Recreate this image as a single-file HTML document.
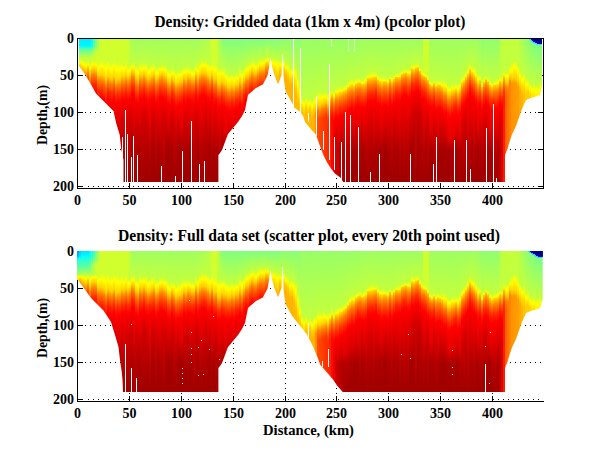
<!DOCTYPE html><html><head><meta charset="utf-8"><style>html,body{margin:0;padding:0;background:#fff;overflow:hidden}svg{display:block}text{font-family:"Liberation Serif",serif;font-weight:bold}</style></head><body>
<svg width="600" height="451" viewBox="0 0 600 451" shape-rendering="crispEdges">
<defs><linearGradient id="g0" x2="0" y2="1"><stop offset="0" stop-color="#00ebff"/><stop offset=".056" stop-color="#00f5ff"/><stop offset=".058" stop-color="#0ff"/><stop offset=".073" stop-color="#4dffb2"/><stop offset=".104" stop-color="#8aff75"/><stop offset=".139" stop-color="#c7ff38"/><stop offset=".142" stop-color="#c2ff3d"/><stop offset=".167" stop-color="#f5ff0a"/><stop offset=".171" stop-color="#ff0"/><stop offset=".193" stop-color="#ffd100"/><stop offset=".234" stop-color="#ff8000"/><stop offset=".297" stop-color="#ff2700"/><stop offset=".352" stop-color="#f00"/><stop offset=".498" stop-color="#e40000"/><stop offset=".778" stop-color="#b90000"/><stop offset="1" stop-color="#9e0000"/></linearGradient><linearGradient id="g1" x2="0" y2="1"><stop offset="0" stop-color="#00ebff"/><stop offset=".056" stop-color="#00f5ff"/><stop offset=".058" stop-color="#0ff"/><stop offset=".073" stop-color="#4dffb2"/><stop offset=".104" stop-color="#8aff75"/><stop offset=".139" stop-color="#c7ff38"/><stop offset=".147" stop-color="#c2ff3d"/><stop offset=".175" stop-color="#f5ff0a"/><stop offset=".18" stop-color="#ff0"/><stop offset=".205" stop-color="#ffd100"/><stop offset=".247" stop-color="#ff8000"/><stop offset=".309" stop-color="#ff2d00"/><stop offset=".365" stop-color="#f00"/><stop offset=".511" stop-color="#d00000"/><stop offset=".778" stop-color="#b00000"/><stop offset="1" stop-color="#a20000"/></linearGradient><linearGradient id="g2" x2="0" y2="1"><stop offset="0" stop-color="#00ebff"/><stop offset=".056" stop-color="#00f5ff"/><stop offset=".058" stop-color="#0ff"/><stop offset=".073" stop-color="#4dffb2"/><stop offset=".104" stop-color="#8aff75"/><stop offset=".139" stop-color="#c7ff38"/><stop offset=".149" stop-color="#c2ff3d"/><stop offset=".176" stop-color="#f5ff0a"/><stop offset=".184" stop-color="#ff0"/><stop offset=".215" stop-color="#ffd100"/><stop offset=".257" stop-color="#ff8000"/><stop offset=".319" stop-color="#ff3400"/><stop offset=".375" stop-color="#f00"/><stop offset=".521" stop-color="#d00"/><stop offset=".778" stop-color="#b10000"/><stop offset="1" stop-color="#9e0000"/></linearGradient><linearGradient id="g3" x2="0" y2="1"><stop offset="0" stop-color="#00ebff"/><stop offset=".056" stop-color="#00f5ff"/><stop offset=".058" stop-color="#0ff"/><stop offset=".073" stop-color="#4dffb2"/><stop offset=".104" stop-color="#8aff75"/><stop offset=".139" stop-color="#c7ff38"/><stop offset=".158" stop-color="#c2ff3d"/><stop offset=".186" stop-color="#f5ff0a"/><stop offset=".193" stop-color="#ff0"/><stop offset=".225" stop-color="#ffd100"/><stop offset=".266" stop-color="#ff8000"/><stop offset=".329" stop-color="#ff2e00"/><stop offset=".384" stop-color="#f00"/><stop offset=".53" stop-color="#e70000"/><stop offset=".778" stop-color="#b90000"/><stop offset="1" stop-color="#9e0000"/></linearGradient><linearGradient id="g4" x2="0" y2="1"><stop offset="0" stop-color="#00ebff"/><stop offset=".056" stop-color="#00f5ff"/><stop offset=".058" stop-color="#0ff"/><stop offset=".073" stop-color="#4dffb2"/><stop offset=".104" stop-color="#8aff75"/><stop offset=".139" stop-color="#c7ff38"/><stop offset=".151" stop-color="#c2ff3d"/><stop offset=".178" stop-color="#f5ff0a"/><stop offset=".183" stop-color="#ff0"/><stop offset=".203" stop-color="#ffd100"/><stop offset=".245" stop-color="#ff8000"/><stop offset=".308" stop-color="#ff2800"/><stop offset=".363" stop-color="#f00"/><stop offset=".509" stop-color="#cf0000"/><stop offset=".778" stop-color="#bd0000"/><stop offset="1" stop-color="#9f0000"/></linearGradient><linearGradient id="g5" x2="0" y2="1"><stop offset="0" stop-color="#00ebff"/><stop offset=".056" stop-color="#00f5ff"/><stop offset=".058" stop-color="#0ff"/><stop offset=".073" stop-color="#4dffb2"/><stop offset=".104" stop-color="#8aff75"/><stop offset=".139" stop-color="#c7ff38"/><stop offset=".173" stop-color="#c2ff3d"/><stop offset=".201" stop-color="#f5ff0a"/><stop offset=".209" stop-color="#ff0"/><stop offset=".245" stop-color="#ffd100"/><stop offset=".287" stop-color="#ff8000"/><stop offset=".35" stop-color="#ff3700"/><stop offset=".405" stop-color="#f00"/><stop offset=".551" stop-color="#dc0000"/><stop offset=".778" stop-color="#ad0000"/><stop offset="1" stop-color="#9e0000"/></linearGradient><linearGradient id="g6" x2="0" y2="1"><stop offset="0" stop-color="#01fffe"/><stop offset=".056" stop-color="#0bfff4"/><stop offset=".073" stop-color="#59ffa6"/><stop offset=".104" stop-color="#96ff69"/><stop offset=".139" stop-color="#c7ff38"/><stop offset=".151" stop-color="#c2ff3d"/><stop offset=".179" stop-color="#f5ff0a"/><stop offset=".185" stop-color="#ff0"/><stop offset=".217" stop-color="#ffd100"/><stop offset=".258" stop-color="#ff8000"/><stop offset=".321" stop-color="#ff2d00"/><stop offset=".376" stop-color="#f00"/><stop offset=".522" stop-color="#e30000"/><stop offset=".778" stop-color="#b80000"/><stop offset="1" stop-color="#9e0000"/></linearGradient><linearGradient id="g7" x2="0" y2="1"><stop offset="0" stop-color="#50ffaf"/><stop offset=".056" stop-color="#5bffa4"/><stop offset=".073" stop-color="#86ff79"/><stop offset=".104" stop-color="#bdff42"/><stop offset=".139" stop-color="#c7ff38"/><stop offset=".148" stop-color="#c2ff3d"/><stop offset=".176" stop-color="#f5ff0a"/><stop offset=".182" stop-color="#ff0"/><stop offset=".213" stop-color="#ffd100"/><stop offset=".255" stop-color="#ff8000"/><stop offset=".318" stop-color="#ff2b00"/><stop offset=".373" stop-color="#f00"/><stop offset=".519" stop-color="#d30000"/><stop offset=".778" stop-color="#a00"/><stop offset="1" stop-color="#9e0000"/></linearGradient><linearGradient id="g8" x2="0" y2="1"><stop offset="0" stop-color="#78ff87"/><stop offset=".056" stop-color="#82ff7d"/><stop offset=".073" stop-color="#9eff61"/><stop offset=".104" stop-color="#d1ff2e"/><stop offset=".139" stop-color="#d1ff2e"/><stop offset=".15" stop-color="#d1ff2e"/><stop offset=".177" stop-color="#f5ff0a"/><stop offset=".185" stop-color="#ff0"/><stop offset=".219" stop-color="#ffd100"/><stop offset=".26" stop-color="#ff8000"/><stop offset=".323" stop-color="#ff2700"/><stop offset=".378" stop-color="#f00"/><stop offset=".524" stop-color="#d40000"/><stop offset=".778" stop-color="#a80000"/><stop offset="1" stop-color="#9e0000"/></linearGradient><linearGradient id="g9" x2="0" y2="1"><stop offset="0" stop-color="#9cff63"/><stop offset=".056" stop-color="#a6ff59"/><stop offset=".073" stop-color="#b3ff4c"/><stop offset=".104" stop-color="#d1ff2e"/><stop offset=".139" stop-color="#d1ff2e"/><stop offset=".178" stop-color="#d1ff2e"/><stop offset=".206" stop-color="#f5ff0a"/><stop offset=".215" stop-color="#ff0"/><stop offset=".257" stop-color="#ffd100"/><stop offset=".298" stop-color="#ff8000"/><stop offset=".361" stop-color="#ff3200"/><stop offset=".416" stop-color="#f00"/><stop offset=".562" stop-color="#e90000"/><stop offset=".778" stop-color="#bd0000"/><stop offset="1" stop-color="#9e0000"/></linearGradient><linearGradient id="g10" x2="0" y2="1"><stop offset="0" stop-color="#d1ff2e"/><stop offset=".16" stop-color="#d1ff2e"/><stop offset=".188" stop-color="#f5ff0a"/><stop offset=".2" stop-color="#ff0"/><stop offset=".254" stop-color="#ffd100"/><stop offset=".295" stop-color="#ff8000"/><stop offset=".358" stop-color="#ff3500"/><stop offset=".413" stop-color="#f00"/><stop offset=".559" stop-color="#de0000"/><stop offset=".778" stop-color="#be0000"/><stop offset="1" stop-color="#9e0000"/></linearGradient><linearGradient id="g11" x2="0" y2="1"><stop offset="0" stop-color="#d1ff2e"/><stop offset=".154" stop-color="#d1ff2e"/><stop offset=".182" stop-color="#f5ff0a"/><stop offset=".196" stop-color="#ff0"/><stop offset=".255" stop-color="#ffd100"/><stop offset=".297" stop-color="#ff8000"/><stop offset=".359" stop-color="#ff2e00"/><stop offset=".415" stop-color="#f00"/><stop offset=".561" stop-color="#e00000"/><stop offset=".778" stop-color="#bc0000"/><stop offset="1" stop-color="#9e0000"/></linearGradient><linearGradient id="g12" x2="0" y2="1"><stop offset="0" stop-color="#d1ff2e"/><stop offset=".165" stop-color="#d1ff2e"/><stop offset=".193" stop-color="#f5ff0a"/><stop offset=".206" stop-color="#ff0"/><stop offset=".264" stop-color="#ffd100"/><stop offset=".306" stop-color="#ff8000"/><stop offset=".368" stop-color="#ff3800"/><stop offset=".424" stop-color="#f00"/><stop offset=".57" stop-color="#d10000"/><stop offset=".778" stop-color="#b00"/><stop offset="1" stop-color="#9e0000"/></linearGradient><linearGradient id="g13" x2="0" y2="1"><stop offset="0" stop-color="#d1ff2e"/><stop offset=".175" stop-color="#d1ff2e"/><stop offset=".203" stop-color="#f5ff0a"/><stop offset=".219" stop-color="#ff0"/><stop offset=".289" stop-color="#ffd100"/><stop offset=".331" stop-color="#ff8000"/><stop offset=".393" stop-color="#ff3800"/><stop offset=".449" stop-color="#f00"/><stop offset=".595" stop-color="#e50000"/><stop offset=".778" stop-color="#b20000"/><stop offset="1" stop-color="#9e0000"/></linearGradient><linearGradient id="g14" x2="0" y2="1"><stop offset="0" stop-color="#d1ff2e"/><stop offset=".156" stop-color="#d1ff2e"/><stop offset=".183" stop-color="#f5ff0a"/><stop offset=".198" stop-color="#ff0"/><stop offset=".266" stop-color="#ffd100"/><stop offset=".307" stop-color="#ff8000"/><stop offset=".37" stop-color="#ff2400"/><stop offset=".425" stop-color="#f00"/><stop offset=".571" stop-color="#e50000"/><stop offset=".778" stop-color="#b00"/><stop offset="1" stop-color="#9e0000"/></linearGradient><linearGradient id="g15" x2="0" y2="1"><stop offset="0" stop-color="#d1ff2e"/><stop offset=".177" stop-color="#d1ff2e"/><stop offset=".205" stop-color="#f5ff0a"/><stop offset=".218" stop-color="#ff0"/><stop offset=".275" stop-color="#ffd100"/><stop offset=".317" stop-color="#ff8000"/><stop offset=".379" stop-color="#ff2b00"/><stop offset=".435" stop-color="#f00"/><stop offset=".581" stop-color="#e40000"/><stop offset=".778" stop-color="#a30000"/><stop offset="1" stop-color="#9e0000"/></linearGradient><linearGradient id="g16" x2="0" y2="1"><stop offset="0" stop-color="#d1ff2e"/><stop offset=".178" stop-color="#d1ff2e"/><stop offset=".206" stop-color="#f5ff0a"/><stop offset=".22" stop-color="#ff0"/><stop offset=".282" stop-color="#ffd100"/><stop offset=".324" stop-color="#ff8000"/><stop offset=".386" stop-color="#ff2f00"/><stop offset=".442" stop-color="#f00"/><stop offset=".588" stop-color="#cf0000"/><stop offset=".778" stop-color="#be0000"/><stop offset="1" stop-color="#9e0000"/></linearGradient><linearGradient id="g17" x2="0" y2="1"><stop offset="0" stop-color="#d1ff2e"/><stop offset=".159" stop-color="#d1ff2e"/><stop offset=".187" stop-color="#f5ff0a"/><stop offset=".201" stop-color="#ff0"/><stop offset=".266" stop-color="#ffd100"/><stop offset=".307" stop-color="#ff8000"/><stop offset=".37" stop-color="#ff2b00"/><stop offset=".425" stop-color="#f00"/><stop offset=".571" stop-color="#de0000"/><stop offset=".778" stop-color="#bc0000"/><stop offset="1" stop-color="#9e0000"/></linearGradient><linearGradient id="g18" x2="0" y2="1"><stop offset="0" stop-color="#d1ff2e"/><stop offset=".17" stop-color="#d1ff2e"/><stop offset=".198" stop-color="#f5ff0a"/><stop offset=".216" stop-color="#ff0"/><stop offset=".297" stop-color="#ffd100"/><stop offset=".338" stop-color="#ff8000"/><stop offset=".401" stop-color="#ff2e00"/><stop offset=".456" stop-color="#f00"/><stop offset=".602" stop-color="#d80000"/><stop offset=".778" stop-color="#b20000"/><stop offset="1" stop-color="#9e0000"/></linearGradient><linearGradient id="g19" x2="0" y2="1"><stop offset="0" stop-color="#d1ff2e"/><stop offset=".179" stop-color="#d1ff2e"/><stop offset=".207" stop-color="#f5ff0a"/><stop offset=".221" stop-color="#ff0"/><stop offset=".286" stop-color="#ffd100"/><stop offset=".328" stop-color="#ff8000"/><stop offset=".391" stop-color="#ff2400"/><stop offset=".446" stop-color="#f00"/><stop offset=".592" stop-color="#dc0000"/><stop offset=".778" stop-color="#b20000"/><stop offset="1" stop-color="#9e0000"/></linearGradient><linearGradient id="g20" x2="0" y2="1"><stop offset="0" stop-color="#d1ff2e"/><stop offset=".179" stop-color="#d1ff2e"/><stop offset=".207" stop-color="#f5ff0a"/><stop offset=".222" stop-color="#ff0"/><stop offset=".287" stop-color="#ffd100"/><stop offset=".329" stop-color="#ff8000"/><stop offset=".391" stop-color="#ff3100"/><stop offset=".447" stop-color="#f00"/><stop offset=".593" stop-color="#e30000"/><stop offset=".778" stop-color="#a90000"/><stop offset="1" stop-color="#9e0000"/></linearGradient><linearGradient id="g21" x2="0" y2="1"><stop offset="0" stop-color="#d1ff2e"/><stop offset=".173" stop-color="#d1ff2e"/><stop offset=".201" stop-color="#f5ff0a"/><stop offset=".213" stop-color="#ff0"/><stop offset=".266" stop-color="#ffd100"/><stop offset=".308" stop-color="#ff8000"/><stop offset=".371" stop-color="#ff2e00"/><stop offset=".426" stop-color="#f00"/><stop offset=".572" stop-color="#d20000"/><stop offset=".778" stop-color="#bf0000"/><stop offset="1" stop-color="#9e0000"/></linearGradient><linearGradient id="g22" x2="0" y2="1"><stop offset="0" stop-color="#d1ff2e"/><stop offset=".184" stop-color="#d1ff2e"/><stop offset=".211" stop-color="#f5ff0a"/><stop offset=".222" stop-color="#ff0"/><stop offset=".272" stop-color="#ffd100"/><stop offset=".313" stop-color="#ff8000"/><stop offset=".376" stop-color="#ff3500"/><stop offset=".431" stop-color="#f00"/><stop offset=".577" stop-color="#e10000"/><stop offset=".778" stop-color="#bf0000"/><stop offset="1" stop-color="#9e0000"/></linearGradient><linearGradient id="g23" x2="0" y2="1"><stop offset="0" stop-color="#d1ff2e"/><stop offset=".163" stop-color="#d1ff2e"/><stop offset=".191" stop-color="#f5ff0a"/><stop offset=".203" stop-color="#ff0"/><stop offset=".259" stop-color="#ffd100"/><stop offset=".301" stop-color="#ff8000"/><stop offset=".364" stop-color="#ff2b00"/><stop offset=".419" stop-color="#f00"/><stop offset=".565" stop-color="#dc0000"/><stop offset=".778" stop-color="#b00000"/><stop offset="1" stop-color="#9e0000"/></linearGradient><linearGradient id="g24" x2="0" y2="1"><stop offset="0" stop-color="#d1ff2e"/><stop offset=".197" stop-color="#d1ff2e"/><stop offset=".225" stop-color="#f5ff0a"/><stop offset=".234" stop-color="#ff0"/><stop offset=".276" stop-color="#ffd100"/><stop offset=".317" stop-color="#ff8000"/><stop offset=".38" stop-color="#ff2f00"/><stop offset=".435" stop-color="#f00"/><stop offset=".581" stop-color="#d70000"/><stop offset=".778" stop-color="#b90000"/><stop offset="1" stop-color="#9e0000"/></linearGradient><linearGradient id="g25" x2="0" y2="1"><stop offset="0" stop-color="#b9ff46"/><stop offset=".191" stop-color="#c2ff3d"/><stop offset=".218" stop-color="#f5ff0a"/><stop offset=".227" stop-color="#ff0"/><stop offset=".263" stop-color="#ffd100"/><stop offset=".304" stop-color="#ff8000"/><stop offset=".367" stop-color="#ff3500"/><stop offset=".423" stop-color="#f00"/><stop offset=".568" stop-color="#d10000"/><stop offset=".778" stop-color="#b70000"/><stop offset="1" stop-color="#9e0000"/></linearGradient><linearGradient id="g26" x2="0" y2="1"><stop offset="0" stop-color="#a1ff5e"/><stop offset=".168" stop-color="#c2ff3d"/><stop offset=".196" stop-color="#f5ff0a"/><stop offset=".202" stop-color="#ff0"/><stop offset=".23" stop-color="#ffd100"/><stop offset=".272" stop-color="#ff8000"/><stop offset=".335" stop-color="#ff2f00"/><stop offset=".39" stop-color="#f00"/><stop offset=".536" stop-color="#d70000"/><stop offset=".778" stop-color="#a70000"/><stop offset="1" stop-color="#9e0000"/></linearGradient><linearGradient id="g27" x2="0" y2="1"><stop offset="0" stop-color="#a1ff5e"/><stop offset=".165" stop-color="#c2ff3d"/><stop offset=".192" stop-color="#f5ff0a"/><stop offset=".2" stop-color="#ff0"/><stop offset=".237" stop-color="#ffd100"/><stop offset=".279" stop-color="#ff8000"/><stop offset=".341" stop-color="#ff2800"/><stop offset=".397" stop-color="#f00"/><stop offset=".543" stop-color="#e90000"/><stop offset=".778" stop-color="#b80000"/><stop offset="1" stop-color="#9e0000"/></linearGradient><linearGradient id="g28" x2="0" y2="1"><stop offset="0" stop-color="#a1ff5e"/><stop offset=".194" stop-color="#c2ff3d"/><stop offset=".222" stop-color="#f5ff0a"/><stop offset=".232" stop-color="#ff0"/><stop offset=".278" stop-color="#ffd100"/><stop offset=".319" stop-color="#ff8000"/><stop offset=".382" stop-color="#ff3200"/><stop offset=".437" stop-color="#f00"/><stop offset=".583" stop-color="#d30000"/><stop offset=".778" stop-color="#b60000"/><stop offset="1" stop-color="#9e0000"/></linearGradient><linearGradient id="g29" x2="0" y2="1"><stop offset="0" stop-color="#a1ff5e"/><stop offset=".205" stop-color="#c2ff3d"/><stop offset=".233" stop-color="#f5ff0a"/><stop offset=".243" stop-color="#ff0"/><stop offset=".29" stop-color="#ffd100"/><stop offset=".332" stop-color="#ff8000"/><stop offset=".394" stop-color="#ff3700"/><stop offset=".45" stop-color="#f00"/><stop offset=".596" stop-color="#d10000"/><stop offset=".778" stop-color="#b00000"/><stop offset="1" stop-color="#9e0000"/></linearGradient><linearGradient id="g30" x2="0" y2="1"><stop offset="0" stop-color="#a1ff5e"/><stop offset=".172" stop-color="#c2ff3d"/><stop offset=".2" stop-color="#f5ff0a"/><stop offset=".21" stop-color="#ff0"/><stop offset=".254" stop-color="#ffd100"/><stop offset=".296" stop-color="#ff8000"/><stop offset=".358" stop-color="#ff3000"/><stop offset=".414" stop-color="#f00"/><stop offset=".56" stop-color="#e50000"/><stop offset=".778" stop-color="#a90000"/><stop offset="1" stop-color="#9e0000"/></linearGradient><linearGradient id="g31" x2="0" y2="1"><stop offset="0" stop-color="#a1ff5e"/><stop offset=".179" stop-color="#c2ff3d"/><stop offset=".207" stop-color="#f5ff0a"/><stop offset=".217" stop-color="#ff0"/><stop offset=".263" stop-color="#ffd100"/><stop offset=".305" stop-color="#ff8000"/><stop offset=".367" stop-color="#ff3000"/><stop offset=".423" stop-color="#f00"/><stop offset=".569" stop-color="#d50000"/><stop offset=".778" stop-color="#b60000"/><stop offset="1" stop-color="#9e0000"/></linearGradient><linearGradient id="g32" x2="0" y2="1"><stop offset="0" stop-color="#a1ff5e"/><stop offset=".173" stop-color="#c2ff3d"/><stop offset=".201" stop-color="#f5ff0a"/><stop offset=".209" stop-color="#ff0"/><stop offset=".247" stop-color="#ffd100"/><stop offset=".289" stop-color="#ff8000"/><stop offset=".351" stop-color="#ff2c00"/><stop offset=".407" stop-color="#f00"/><stop offset=".553" stop-color="#ce0000"/><stop offset=".778" stop-color="#b80000"/><stop offset="1" stop-color="#9e0000"/></linearGradient><linearGradient id="g33" x2="0" y2="1"><stop offset="0" stop-color="#a1ff5e"/><stop offset=".171" stop-color="#c2ff3d"/><stop offset=".199" stop-color="#f5ff0a"/><stop offset=".211" stop-color="#ff0"/><stop offset=".265" stop-color="#ffd100"/><stop offset=".306" stop-color="#ff8000"/><stop offset=".369" stop-color="#ff3500"/><stop offset=".424" stop-color="#f00"/><stop offset=".57" stop-color="#cd0000"/><stop offset=".778" stop-color="#b60000"/><stop offset="1" stop-color="#9e0000"/></linearGradient><linearGradient id="g34" x2="0" y2="1"><stop offset="0" stop-color="#a1ff5e"/><stop offset=".2" stop-color="#c2ff3d"/><stop offset=".228" stop-color="#f5ff0a"/><stop offset=".238" stop-color="#ff0"/><stop offset=".283" stop-color="#ffd100"/><stop offset=".324" stop-color="#ff8000"/><stop offset=".387" stop-color="#ff2900"/><stop offset=".442" stop-color="#f00"/><stop offset=".588" stop-color="#dc0000"/><stop offset=".778" stop-color="#ae0000"/><stop offset="1" stop-color="#9e0000"/></linearGradient><linearGradient id="g35" x2="0" y2="1"><stop offset="0" stop-color="#a1ff5e"/><stop offset=".197" stop-color="#c2ff3d"/><stop offset=".225" stop-color="#f5ff0a"/><stop offset=".234" stop-color="#ff0"/><stop offset=".274" stop-color="#ffd100"/><stop offset=".316" stop-color="#ff8000"/><stop offset=".379" stop-color="#ff2500"/><stop offset=".434" stop-color="#f00"/><stop offset=".58" stop-color="#e70000"/><stop offset=".778" stop-color="#bd0000"/><stop offset="1" stop-color="#9e0000"/></linearGradient><linearGradient id="g36" x2="0" y2="1"><stop offset="0" stop-color="#a1ff5e"/><stop offset=".184" stop-color="#c2ff3d"/><stop offset=".211" stop-color="#f5ff0a"/><stop offset=".221" stop-color="#ff0"/><stop offset=".263" stop-color="#ffd100"/><stop offset=".305" stop-color="#ff8000"/><stop offset=".367" stop-color="#ff3200"/><stop offset=".423" stop-color="#f00"/><stop offset=".569" stop-color="#cf0000"/><stop offset=".778" stop-color="#a80000"/><stop offset="1" stop-color="#9e0000"/></linearGradient><linearGradient id="g37" x2="0" y2="1"><stop offset="0" stop-color="#a1ff5e"/><stop offset=".176" stop-color="#c2ff3d"/><stop offset=".204" stop-color="#f5ff0a"/><stop offset=".212" stop-color="#ff0"/><stop offset=".252" stop-color="#ffd100"/><stop offset=".294" stop-color="#ff8000"/><stop offset=".357" stop-color="#f30"/><stop offset=".412" stop-color="#f00"/><stop offset=".558" stop-color="#d40000"/><stop offset=".778" stop-color="#a80000"/><stop offset="1" stop-color="#9e0000"/></linearGradient><linearGradient id="g38" x2="0" y2="1"><stop offset="0" stop-color="#a1ff5e"/><stop offset=".208" stop-color="#c2ff3d"/><stop offset=".236" stop-color="#f5ff0a"/><stop offset=".245" stop-color="#ff0"/><stop offset=".286" stop-color="#ffd100"/><stop offset=".328" stop-color="#ff8000"/><stop offset=".391" stop-color="#ff3600"/><stop offset=".446" stop-color="#f00"/><stop offset=".592" stop-color="#d50000"/><stop offset=".778" stop-color="#bd0000"/><stop offset="1" stop-color="#9e0000"/></linearGradient><linearGradient id="g39" x2="0" y2="1"><stop offset="0" stop-color="#a1ff5e"/><stop offset=".205" stop-color="#c2ff3d"/><stop offset=".233" stop-color="#f5ff0a"/><stop offset=".241" stop-color="#ff0"/><stop offset=".276" stop-color="#ffd100"/><stop offset=".318" stop-color="#ff8000"/><stop offset=".381" stop-color="#ff2e00"/><stop offset=".436" stop-color="#f00"/><stop offset=".582" stop-color="#da0000"/><stop offset=".778" stop-color="#a40000"/><stop offset="1" stop-color="#9e0000"/></linearGradient><linearGradient id="g40" x2="0" y2="1"><stop offset="0" stop-color="#a1ff5e"/><stop offset=".186" stop-color="#c2ff3d"/><stop offset=".214" stop-color="#f5ff0a"/><stop offset=".221" stop-color="#ff0"/><stop offset=".256" stop-color="#ffd100"/><stop offset=".297" stop-color="#ff8000"/><stop offset=".36" stop-color="#ff2900"/><stop offset=".415" stop-color="#f00"/><stop offset=".561" stop-color="#e30000"/><stop offset=".778" stop-color="#b10000"/><stop offset="1" stop-color="#9e0000"/></linearGradient><linearGradient id="g41" x2="0" y2="1"><stop offset="0" stop-color="#a1ff5e"/><stop offset=".186" stop-color="#c2ff3d"/><stop offset=".214" stop-color="#f5ff0a"/><stop offset=".22" stop-color="#ff0"/><stop offset=".25" stop-color="#ffd100"/><stop offset=".291" stop-color="#ff8000"/><stop offset=".354" stop-color="#ff3700"/><stop offset=".409" stop-color="#f00"/><stop offset=".555" stop-color="#db0000"/><stop offset=".778" stop-color="#b30000"/><stop offset="1" stop-color="#9e0000"/></linearGradient><linearGradient id="g42" x2="0" y2="1"><stop offset="0" stop-color="#a1ff5e"/><stop offset=".186" stop-color="#c2ff3d"/><stop offset=".214" stop-color="#f5ff0a"/><stop offset=".222" stop-color="#ff0"/><stop offset=".26" stop-color="#ffd100"/><stop offset=".302" stop-color="#ff8000"/><stop offset=".364" stop-color="#ff3500"/><stop offset=".42" stop-color="#f00"/><stop offset=".566" stop-color="#d70000"/><stop offset=".778" stop-color="#bf0000"/><stop offset="1" stop-color="#9e0000"/></linearGradient><linearGradient id="g43" x2="0" y2="1"><stop offset="0" stop-color="#a1ff5e"/><stop offset=".191" stop-color="#c2ff3d"/><stop offset=".219" stop-color="#f5ff0a"/><stop offset=".228" stop-color="#ff0"/><stop offset=".269" stop-color="#ffd100"/><stop offset=".311" stop-color="#ff8000"/><stop offset=".373" stop-color="#ff2a00"/><stop offset=".429" stop-color="#f00"/><stop offset=".575" stop-color="#cd0000"/><stop offset=".778" stop-color="#ac0000"/><stop offset="1" stop-color="#9e0000"/></linearGradient><linearGradient id="g44" x2="0" y2="1"><stop offset="0" stop-color="#a1ff5e"/><stop offset=".216" stop-color="#c2ff3d"/><stop offset=".244" stop-color="#f5ff0a"/><stop offset=".254" stop-color="#ff0"/><stop offset=".297" stop-color="#ffd100"/><stop offset=".338" stop-color="#ff8000"/><stop offset=".401" stop-color="#ff2c00"/><stop offset=".457" stop-color="#f00"/><stop offset=".602" stop-color="#dc0000"/><stop offset=".778" stop-color="#a20000"/><stop offset="1" stop-color="#a00000"/></linearGradient><linearGradient id="g45" x2="0" y2="1"><stop offset="0" stop-color="#a1ff5e"/><stop offset=".229" stop-color="#c2ff3d"/><stop offset=".256" stop-color="#f5ff0a"/><stop offset=".265" stop-color="#ff0"/><stop offset=".304" stop-color="#ffd100"/><stop offset=".346" stop-color="#ff8000"/><stop offset=".409" stop-color="#ff2f00"/><stop offset=".464" stop-color="#f00"/><stop offset=".61" stop-color="#d50000"/><stop offset=".778" stop-color="#a70000"/><stop offset="1" stop-color="#9e0000"/></linearGradient><linearGradient id="g46" x2="0" y2="1"><stop offset="0" stop-color="#a1ff5e"/><stop offset=".209" stop-color="#c2ff3d"/><stop offset=".237" stop-color="#f5ff0a"/><stop offset=".244" stop-color="#ff0"/><stop offset=".276" stop-color="#ffd100"/><stop offset=".318" stop-color="#ff8000"/><stop offset=".381" stop-color="#ff2b00"/><stop offset=".436" stop-color="#f00"/><stop offset=".582" stop-color="#ce0000"/><stop offset=".778" stop-color="#a00"/><stop offset="1" stop-color="#a10000"/></linearGradient><linearGradient id="g47" x2="0" y2="1"><stop offset="0" stop-color="#a1ff5e"/><stop offset=".213" stop-color="#c2ff3d"/><stop offset=".241" stop-color="#f5ff0a"/><stop offset=".251" stop-color="#ff0"/><stop offset=".294" stop-color="#ffd100"/><stop offset=".335" stop-color="#ff8000"/><stop offset=".398" stop-color="#ff2a00"/><stop offset=".453" stop-color="#f00"/><stop offset=".599" stop-color="#d50000"/><stop offset=".778" stop-color="#b80000"/><stop offset="1" stop-color="#9e0000"/></linearGradient><linearGradient id="g48" x2="0" y2="1"><stop offset="0" stop-color="#a1ff5e"/><stop offset=".238" stop-color="#c2ff3d"/><stop offset=".265" stop-color="#f5ff0a"/><stop offset=".275" stop-color="#ff0"/><stop offset=".319" stop-color="#ffd100"/><stop offset=".361" stop-color="#ff8000"/><stop offset=".423" stop-color="#ff2e00"/><stop offset=".479" stop-color="#f00"/><stop offset=".625" stop-color="#da0000"/><stop offset=".778" stop-color="#b70000"/><stop offset="1" stop-color="#9e0000"/></linearGradient><linearGradient id="g49" x2="0" y2="1"><stop offset="0" stop-color="#a1ff5e"/><stop offset=".222" stop-color="#c2ff3d"/><stop offset=".25" stop-color="#f5ff0a"/><stop offset=".26" stop-color="#ff0"/><stop offset=".309" stop-color="#ffd100"/><stop offset=".351" stop-color="#ff8000"/><stop offset=".414" stop-color="#ff3500"/><stop offset=".469" stop-color="#f00"/><stop offset=".615" stop-color="#c00"/><stop offset=".778" stop-color="#a40000"/><stop offset="1" stop-color="#9e0000"/></linearGradient><linearGradient id="g50" x2="0" y2="1"><stop offset="0" stop-color="#a1ff5e"/><stop offset=".225" stop-color="#c2ff3d"/><stop offset=".253" stop-color="#f5ff0a"/><stop offset=".262" stop-color="#ff0"/><stop offset=".303" stop-color="#ffd100"/><stop offset=".345" stop-color="#ff8000"/><stop offset=".408" stop-color="#ff3000"/><stop offset=".463" stop-color="#f00"/><stop offset=".609" stop-color="#e00000"/><stop offset=".778" stop-color="#a30000"/><stop offset="1" stop-color="#9e0000"/></linearGradient><linearGradient id="g51" x2="0" y2="1"><stop offset="0" stop-color="#a1ff5e"/><stop offset=".211" stop-color="#c2ff3d"/><stop offset=".239" stop-color="#f5ff0a"/><stop offset=".25" stop-color="#ff0"/><stop offset=".302" stop-color="#ffd100"/><stop offset=".344" stop-color="#ff8000"/><stop offset=".407" stop-color="#ff2800"/><stop offset=".462" stop-color="#f00"/><stop offset=".608" stop-color="#eb0000"/><stop offset=".778" stop-color="#a30000"/><stop offset="1" stop-color="#9e0000"/></linearGradient><linearGradient id="g52" x2="0" y2="1"><stop offset="0" stop-color="#a1ff5e"/><stop offset=".201" stop-color="#c2ff3d"/><stop offset=".229" stop-color="#f5ff0a"/><stop offset=".237" stop-color="#ff0"/><stop offset=".273" stop-color="#ffd100"/><stop offset=".314" stop-color="#ff8000"/><stop offset=".377" stop-color="#ff3100"/><stop offset=".432" stop-color="#f00"/><stop offset=".578" stop-color="#d40000"/><stop offset=".778" stop-color="#b30000"/><stop offset="1" stop-color="#9e0000"/></linearGradient><linearGradient id="g53" x2="0" y2="1"><stop offset="0" stop-color="#a1ff5e"/><stop offset=".204" stop-color="#c2ff3d"/><stop offset=".232" stop-color="#f5ff0a"/><stop offset=".242" stop-color="#ff0"/><stop offset=".286" stop-color="#ffd100"/><stop offset=".328" stop-color="#ff8000"/><stop offset=".391" stop-color="#ff2700"/><stop offset=".446" stop-color="#f00"/><stop offset=".592" stop-color="#d20000"/><stop offset=".778" stop-color="#a90000"/><stop offset="1" stop-color="#9e0000"/></linearGradient><linearGradient id="g54" x2="0" y2="1"><stop offset="0" stop-color="#a1ff5e"/><stop offset=".196" stop-color="#c2ff3d"/><stop offset=".223" stop-color="#f5ff0a"/><stop offset=".231" stop-color="#ff0"/><stop offset=".266" stop-color="#ffd100"/><stop offset=".308" stop-color="#ff8000"/><stop offset=".37" stop-color="#ff3500"/><stop offset=".426" stop-color="#f00"/><stop offset=".571" stop-color="#d00000"/><stop offset=".778" stop-color="#af0000"/><stop offset="1" stop-color="#9e0000"/></linearGradient><linearGradient id="g55" x2="0" y2="1"><stop offset="0" stop-color="#a1ff5e"/><stop offset=".203" stop-color="#c2ff3d"/><stop offset=".231" stop-color="#f5ff0a"/><stop offset=".238" stop-color="#ff0"/><stop offset=".27" stop-color="#ffd100"/><stop offset=".312" stop-color="#ff8000"/><stop offset=".374" stop-color="#f30"/><stop offset=".43" stop-color="#f00"/><stop offset=".576" stop-color="#e40000"/><stop offset=".778" stop-color="#a80000"/><stop offset="1" stop-color="#9e0000"/></linearGradient><linearGradient id="g56" x2="0" y2="1"><stop offset="0" stop-color="#a1ff5e"/><stop offset=".216" stop-color="#c2ff3d"/><stop offset=".244" stop-color="#f5ff0a"/><stop offset=".251" stop-color="#ff0"/><stop offset=".282" stop-color="#ffd100"/><stop offset=".324" stop-color="#ff8000"/><stop offset=".386" stop-color="#ff2c00"/><stop offset=".442" stop-color="#f00"/><stop offset=".587" stop-color="#de0000"/><stop offset=".778" stop-color="#a00"/><stop offset="1" stop-color="#9e0000"/></linearGradient><linearGradient id="g57" x2="0" y2="1"><stop offset="0" stop-color="#a1ff5e"/><stop offset=".216" stop-color="#c2ff3d"/><stop offset=".244" stop-color="#f5ff0a"/><stop offset=".251" stop-color="#ff0"/><stop offset=".283" stop-color="#ffd100"/><stop offset=".325" stop-color="#ff8000"/><stop offset=".388" stop-color="#ff2500"/><stop offset=".443" stop-color="#f00"/><stop offset=".589" stop-color="#d60000"/><stop offset=".778" stop-color="#ba0000"/><stop offset="1" stop-color="#9e0000"/></linearGradient><linearGradient id="g58" x2="0" y2="1"><stop offset="0" stop-color="#a1ff5e"/><stop offset=".18" stop-color="#c2ff3d"/><stop offset=".208" stop-color="#f5ff0a"/><stop offset=".216" stop-color="#ff0"/><stop offset=".25" stop-color="#ffd100"/><stop offset=".292" stop-color="#ff8000"/><stop offset=".354" stop-color="#ff2f00"/><stop offset=".41" stop-color="#f00"/><stop offset=".556" stop-color="#ce0000"/><stop offset=".778" stop-color="#b40000"/><stop offset="1" stop-color="#a00000"/></linearGradient><linearGradient id="g59" x2="0" y2="1"><stop offset="0" stop-color="#a1ff5e"/><stop offset=".196" stop-color="#c2ff3d"/><stop offset=".224" stop-color="#f5ff0a"/><stop offset=".234" stop-color="#ff0"/><stop offset=".278" stop-color="#ffd100"/><stop offset=".319" stop-color="#ff8000"/><stop offset=".382" stop-color="#ff2e00"/><stop offset=".437" stop-color="#f00"/><stop offset=".583" stop-color="#d00000"/><stop offset=".778" stop-color="#a40000"/><stop offset="1" stop-color="#9e0000"/></linearGradient><linearGradient id="g60" x2="0" y2="1"><stop offset="0" stop-color="#a4ff5b"/><stop offset=".166" stop-color="#c2ff3d"/><stop offset=".193" stop-color="#f5ff0a"/><stop offset=".204" stop-color="#ff0"/><stop offset=".25" stop-color="#ffd100"/><stop offset=".292" stop-color="#ff8000"/><stop offset=".354" stop-color="#ff3600"/><stop offset=".41" stop-color="#f00"/><stop offset=".556" stop-color="#e70000"/><stop offset=".778" stop-color="#b80000"/><stop offset="1" stop-color="#9e0000"/></linearGradient><linearGradient id="g61" x2="0" y2="1"><stop offset="0" stop-color="#a9ff56"/><stop offset=".151" stop-color="#c2ff3d"/><stop offset=".179" stop-color="#f5ff0a"/><stop offset=".19" stop-color="#ff0"/><stop offset=".24" stop-color="#ffd100"/><stop offset=".282" stop-color="#ff8000"/><stop offset=".344" stop-color="#ff3400"/><stop offset=".4" stop-color="#f00"/><stop offset=".546" stop-color="#e70000"/><stop offset=".778" stop-color="#b90000"/><stop offset="1" stop-color="#9e0000"/></linearGradient><linearGradient id="g62" x2="0" y2="1"><stop offset="0" stop-color="#adff52"/><stop offset=".156" stop-color="#c2ff3d"/><stop offset=".184" stop-color="#f5ff0a"/><stop offset=".195" stop-color="#ff0"/><stop offset=".242" stop-color="#ffd100"/><stop offset=".284" stop-color="#ff8000"/><stop offset=".346" stop-color="#ff2a00"/><stop offset=".402" stop-color="#f00"/><stop offset=".548" stop-color="#e20000"/><stop offset=".778" stop-color="#a00"/><stop offset="1" stop-color="#a00000"/></linearGradient><linearGradient id="g63" x2="0" y2="1"><stop offset="0" stop-color="#afff50"/><stop offset=".155" stop-color="#c2ff3d"/><stop offset=".183" stop-color="#f5ff0a"/><stop offset=".195" stop-color="#ff0"/><stop offset=".246" stop-color="#ffd100"/><stop offset=".288" stop-color="#ff8000"/><stop offset=".351" stop-color="#ff3100"/><stop offset=".406" stop-color="#f00"/><stop offset=".552" stop-color="#cf0000"/><stop offset=".778" stop-color="#b50000"/><stop offset="1" stop-color="#9e0000"/></linearGradient><linearGradient id="g64" x2="0" y2="1"><stop offset="0" stop-color="#b1ff4e"/><stop offset=".171" stop-color="#c2ff3d"/><stop offset=".198" stop-color="#f5ff0a"/><stop offset=".21" stop-color="#ff0"/><stop offset=".261" stop-color="#ffd100"/><stop offset=".302" stop-color="#ff8000"/><stop offset=".365" stop-color="#ff3800"/><stop offset=".421" stop-color="#f00"/><stop offset=".566" stop-color="#df0000"/><stop offset=".778" stop-color="#ab0000"/><stop offset="1" stop-color="#9e0000"/></linearGradient><linearGradient id="g65" x2="0" y2="1"><stop offset="0" stop-color="#bf4"/><stop offset=".182" stop-color="#c2ff3d"/><stop offset=".21" stop-color="#f5ff0a"/><stop offset=".222" stop-color="#ff0"/><stop offset=".28" stop-color="#ffd100"/><stop offset=".322" stop-color="#ff8000"/><stop offset=".384" stop-color="#ff2400"/><stop offset=".44" stop-color="#f00"/><stop offset=".585" stop-color="#cd0000"/><stop offset=".778" stop-color="#a40000"/><stop offset="1" stop-color="#9e0000"/></linearGradient><linearGradient id="g66" x2="0" y2="1"><stop offset="0" stop-color="#cdff32"/><stop offset=".17" stop-color="#cdff32"/><stop offset=".197" stop-color="#f5ff0a"/><stop offset=".208" stop-color="#ff0"/><stop offset=".255" stop-color="#ffd100"/><stop offset=".296" stop-color="#ff8000"/><stop offset=".359" stop-color="#ff2d00"/><stop offset=".414" stop-color="#f00"/><stop offset=".56" stop-color="#e70000"/><stop offset=".778" stop-color="#b40000"/><stop offset="1" stop-color="#9e0000"/></linearGradient><linearGradient id="g67" x2="0" y2="1"><stop offset="0" stop-color="#d6ff29"/><stop offset=".184" stop-color="#d6ff29"/><stop offset=".212" stop-color="#f5ff0a"/><stop offset=".226" stop-color="#ff0"/><stop offset=".291" stop-color="#ffd100"/><stop offset=".332" stop-color="#ff8000"/><stop offset=".395" stop-color="#ff2800"/><stop offset=".45" stop-color="#f00"/><stop offset=".596" stop-color="#dc0000"/><stop offset=".778" stop-color="#a60000"/><stop offset="1" stop-color="#9e0000"/></linearGradient><linearGradient id="g68" x2="0" y2="1"><stop offset="0" stop-color="#d6ff29"/><stop offset=".184" stop-color="#d6ff29"/><stop offset=".212" stop-color="#f5ff0a"/><stop offset=".224" stop-color="#ff0"/><stop offset=".282" stop-color="#ffd100"/><stop offset=".323" stop-color="#ff8000"/><stop offset=".386" stop-color="#ff3700"/><stop offset=".441" stop-color="#f00"/><stop offset=".587" stop-color="#ce0000"/><stop offset=".778" stop-color="#b80000"/><stop offset="1" stop-color="#9e0000"/></linearGradient><linearGradient id="g69" x2="0" y2="1"><stop offset="0" stop-color="#baff45"/><stop offset=".206" stop-color="#c2ff3d"/><stop offset=".234" stop-color="#f5ff0a"/><stop offset=".25" stop-color="#ff0"/><stop offset=".319" stop-color="#ffd100"/><stop offset=".361" stop-color="#ff8000"/><stop offset=".423" stop-color="#ff2800"/><stop offset=".479" stop-color="#f00"/><stop offset=".625" stop-color="#d00"/><stop offset=".778" stop-color="#ab0000"/><stop offset="1" stop-color="#9e0000"/></linearGradient><linearGradient id="g70" x2="0" y2="1"><stop offset="0" stop-color="#9eff61"/><stop offset=".212" stop-color="#c2ff3d"/><stop offset=".239" stop-color="#f5ff0a"/><stop offset=".254" stop-color="#ff0"/><stop offset=".32" stop-color="#ffd100"/><stop offset=".362" stop-color="#ff8000"/><stop offset=".424" stop-color="#ff2700"/><stop offset=".48" stop-color="#f00"/><stop offset=".625" stop-color="#e20000"/><stop offset=".778" stop-color="#b70000"/><stop offset="1" stop-color="#a10000"/></linearGradient><linearGradient id="g71" x2="0" y2="1"><stop offset="0" stop-color="#8aff75"/><stop offset=".208" stop-color="#c2ff3d"/><stop offset=".236" stop-color="#f5ff0a"/><stop offset=".247" stop-color="#ff0"/><stop offset=".301" stop-color="#ffd100"/><stop offset=".343" stop-color="#ff8000"/><stop offset=".405" stop-color="#ff2800"/><stop offset=".461" stop-color="#f00"/><stop offset=".606" stop-color="#da0000"/><stop offset=".778" stop-color="#ad0000"/><stop offset="1" stop-color="#9e0000"/></linearGradient><linearGradient id="g72" x2="0" y2="1"><stop offset="0" stop-color="#80ff80"/><stop offset=".212" stop-color="#c2ff3d"/><stop offset=".24" stop-color="#f5ff0a"/><stop offset=".253" stop-color="#ff0"/><stop offset=".315" stop-color="#ffd100"/><stop offset=".356" stop-color="#ff8000"/><stop offset=".419" stop-color="#ff2d00"/><stop offset=".474" stop-color="#f00"/><stop offset=".62" stop-color="#e30000"/><stop offset=".778" stop-color="#a40000"/><stop offset="1" stop-color="#9e0000"/></linearGradient><linearGradient id="g73" x2="0" y2="1"><stop offset="0" stop-color="#80ff80"/><stop offset=".24" stop-color="#c2ff3d"/><stop offset=".267" stop-color="#f5ff0a"/><stop offset=".278" stop-color="#ff0"/><stop offset=".323" stop-color="#ffd100"/><stop offset=".365" stop-color="#ff8000"/><stop offset=".428" stop-color="#ff3600"/><stop offset=".483" stop-color="#f00"/><stop offset=".629" stop-color="#eb0000"/><stop offset=".778" stop-color="#b00"/><stop offset="1" stop-color="#9e0000"/></linearGradient><linearGradient id="g74" x2="0" y2="1"><stop offset="0" stop-color="#80ff80"/><stop offset=".248" stop-color="#c2ff3d"/><stop offset=".276" stop-color="#f5ff0a"/><stop offset=".288" stop-color="#ff0"/><stop offset=".341" stop-color="#ffd100"/><stop offset=".383" stop-color="#ff8000"/><stop offset=".445" stop-color="#ff2700"/><stop offset=".501" stop-color="#f00"/><stop offset=".646" stop-color="#da0000"/><stop offset=".778" stop-color="#ac0000"/><stop offset="1" stop-color="#9e0000"/></linearGradient><linearGradient id="g75" x2="0" y2="1"><stop offset="0" stop-color="#80ff80"/><stop offset=".256" stop-color="#c2ff3d"/><stop offset=".284" stop-color="#f5ff0a"/><stop offset=".294" stop-color="#ff0"/><stop offset=".342" stop-color="#ffd100"/><stop offset=".384" stop-color="#ff8000"/><stop offset=".446" stop-color="#ff3100"/><stop offset=".502" stop-color="#f00"/><stop offset=".648" stop-color="#d90000"/><stop offset=".778" stop-color="#a30000"/><stop offset="1" stop-color="#9e0000"/></linearGradient><linearGradient id="g76" x2="0" y2="1"><stop offset="0" stop-color="#80ff80"/><stop offset=".246" stop-color="#c2ff3d"/><stop offset=".274" stop-color="#f5ff0a"/><stop offset=".284" stop-color="#ff0"/><stop offset=".33" stop-color="#ffd100"/><stop offset=".372" stop-color="#ff8000"/><stop offset=".434" stop-color="#ff2b00"/><stop offset=".49" stop-color="#f00"/><stop offset=".636" stop-color="#e10000"/><stop offset=".778" stop-color="#a40000"/><stop offset="1" stop-color="#9e0000"/></linearGradient><linearGradient id="g77" x2="0" y2="1"><stop offset="0" stop-color="#80ff80"/><stop offset=".258" stop-color="#c2ff3d"/><stop offset=".286" stop-color="#f5ff0a"/><stop offset=".296" stop-color="#ff0"/><stop offset=".342" stop-color="#ffd100"/><stop offset=".384" stop-color="#ff8000"/><stop offset=".446" stop-color="#ff2e00"/><stop offset=".502" stop-color="#f00"/><stop offset=".648" stop-color="#e10000"/><stop offset=".778" stop-color="#a30000"/><stop offset="1" stop-color="#9e0000"/></linearGradient><linearGradient id="g78" x2="0" y2="1"><stop offset="0" stop-color="#80ff80"/><stop offset=".247" stop-color="#c2ff3d"/><stop offset=".274" stop-color="#f5ff0a"/><stop offset=".283" stop-color="#ff0"/><stop offset=".323" stop-color="#ffd100"/><stop offset=".364" stop-color="#ff8000"/><stop offset=".427" stop-color="#ff2b00"/><stop offset=".482" stop-color="#f00"/><stop offset=".628" stop-color="#d30000"/><stop offset=".778" stop-color="#b70000"/><stop offset="1" stop-color="#9e0000"/></linearGradient><linearGradient id="g79" x2="0" y2="1"><stop offset="0" stop-color="#80ff80"/><stop offset=".248" stop-color="#c2ff3d"/><stop offset=".276" stop-color="#f5ff0a"/><stop offset=".285" stop-color="#ff0"/><stop offset=".327" stop-color="#ffd100"/><stop offset=".368" stop-color="#ff8000"/><stop offset=".431" stop-color="#ff2600"/><stop offset=".486" stop-color="#f00"/><stop offset=".632" stop-color="#e10000"/><stop offset=".778" stop-color="#ab0000"/><stop offset="1" stop-color="#9e0000"/></linearGradient><linearGradient id="g80" x2="0" y2="1"><stop offset="0" stop-color="#80ff80"/><stop offset=".216" stop-color="#c2ff3d"/><stop offset=".244" stop-color="#f5ff0a"/><stop offset=".254" stop-color="#ff0"/><stop offset=".3" stop-color="#ffd100"/><stop offset=".342" stop-color="#ff8000"/><stop offset=".405" stop-color="#ff3600"/><stop offset=".46" stop-color="#f00"/><stop offset=".606" stop-color="#e40000"/><stop offset=".778" stop-color="#b90000"/><stop offset="1" stop-color="#9e0000"/></linearGradient><linearGradient id="g81" x2="0" y2="1"><stop offset="0" stop-color="#80ff80"/><stop offset=".236" stop-color="#c2ff3d"/><stop offset=".264" stop-color="#f5ff0a"/><stop offset=".274" stop-color="#ff0"/><stop offset=".319" stop-color="#ffd100"/><stop offset=".36" stop-color="#ff8000"/><stop offset=".423" stop-color="#ff3700"/><stop offset=".478" stop-color="#f00"/><stop offset=".624" stop-color="#d90000"/><stop offset=".778" stop-color="#a90000"/><stop offset="1" stop-color="#9e0000"/></linearGradient><linearGradient id="g82" x2="0" y2="1"><stop offset="0" stop-color="#80ff80"/><stop offset=".211" stop-color="#c2ff3d"/><stop offset=".239" stop-color="#f5ff0a"/><stop offset=".248" stop-color="#ff0"/><stop offset=".29" stop-color="#ffd100"/><stop offset=".332" stop-color="#ff8000"/><stop offset=".394" stop-color="#ff2700"/><stop offset=".45" stop-color="#f00"/><stop offset=".596" stop-color="#e90000"/><stop offset=".778" stop-color="#a60000"/><stop offset="1" stop-color="#9e0000"/></linearGradient><linearGradient id="g83" x2="0" y2="1"><stop offset="0" stop-color="#80ff80"/><stop offset=".189" stop-color="#c2ff3d"/><stop offset=".216" stop-color="#f5ff0a"/><stop offset=".225" stop-color="#ff0"/><stop offset=".266" stop-color="#ffd100"/><stop offset=".308" stop-color="#ff8000"/><stop offset=".37" stop-color="#ff2b00"/><stop offset=".426" stop-color="#f00"/><stop offset=".572" stop-color="#d90000"/><stop offset=".778" stop-color="#a50000"/><stop offset="1" stop-color="#9e0000"/></linearGradient><linearGradient id="g84" x2="0" y2="1"><stop offset="0" stop-color="#80ff80"/><stop offset=".187" stop-color="#c2ff3d"/><stop offset=".214" stop-color="#f5ff0a"/><stop offset=".224" stop-color="#ff0"/><stop offset=".267" stop-color="#ffd100"/><stop offset=".308" stop-color="#ff8000"/><stop offset=".371" stop-color="#ff3700"/><stop offset=".426" stop-color="#f00"/><stop offset=".572" stop-color="#ea0000"/><stop offset=".778" stop-color="#a60000"/><stop offset="1" stop-color="#9e0000"/></linearGradient><linearGradient id="g85" x2="0" y2="1"><stop offset="0" stop-color="#80ff80"/><stop offset=".171" stop-color="#c2ff3d"/><stop offset=".199" stop-color="#f5ff0a"/><stop offset=".208" stop-color="#ff0"/><stop offset=".246" stop-color="#ffd100"/><stop offset=".288" stop-color="#ff8000"/><stop offset=".351" stop-color="#ff2500"/><stop offset=".406" stop-color="#f00"/><stop offset=".552" stop-color="#d10000"/><stop offset=".778" stop-color="#a00"/><stop offset="1" stop-color="#9e0000"/></linearGradient><linearGradient id="g86" x2="0" y2="1"><stop offset="0" stop-color="#80ff80"/><stop offset=".159" stop-color="#c2ff3d"/><stop offset=".187" stop-color="#f5ff0a"/><stop offset=".194" stop-color="#ff0"/><stop offset=".227" stop-color="#ffd100"/><stop offset=".269" stop-color="#ff8000"/><stop offset=".331" stop-color="#ff3500"/><stop offset=".387" stop-color="#f00"/><stop offset=".533" stop-color="#c00"/><stop offset=".778" stop-color="#a40000"/><stop offset="1" stop-color="#9e0000"/></linearGradient><linearGradient id="g87" x2="0" y2="1"><stop offset="0" stop-color="#80ff80"/><stop offset=".159" stop-color="#c2ff3d"/><stop offset=".187" stop-color="#f5ff0a"/><stop offset=".197" stop-color="#ff0"/><stop offset=".238" stop-color="#ffd100"/><stop offset=".28" stop-color="#ff8000"/><stop offset=".343" stop-color="#ff3800"/><stop offset=".398" stop-color="#f00"/><stop offset=".544" stop-color="#e60000"/><stop offset=".778" stop-color="#a10000"/><stop offset="1" stop-color="#9e0000"/></linearGradient><linearGradient id="g88" x2="0" y2="1"><stop offset="0" stop-color="#80ff80"/><stop offset=".177" stop-color="#c2ff3d"/><stop offset=".205" stop-color="#f5ff0a"/><stop offset=".212" stop-color="#ff0"/><stop offset=".243" stop-color="#ffd100"/><stop offset=".285" stop-color="#ff8000"/><stop offset=".347" stop-color="#ff2700"/><stop offset=".403" stop-color="#f00"/><stop offset=".548" stop-color="#de0000"/><stop offset=".778" stop-color="#a40000"/><stop offset="1" stop-color="#9e0000"/></linearGradient><linearGradient id="g89" x2="0" y2="1"><stop offset="0" stop-color="#80ff80"/><stop offset=".157" stop-color="#c2ff3d"/><stop offset=".185" stop-color="#f5ff0a"/><stop offset=".192" stop-color="#ff0"/><stop offset=".224" stop-color="#ffd100"/><stop offset=".266" stop-color="#ff8000"/><stop offset=".328" stop-color="#ff2f00"/><stop offset=".384" stop-color="#f00"/><stop offset=".53" stop-color="#dc0000"/><stop offset=".778" stop-color="#a30000"/><stop offset="1" stop-color="#9e0000"/></linearGradient><linearGradient id="g90" x2="0" y2="1"><stop offset="0" stop-color="#80ff80"/><stop offset=".143" stop-color="#c2ff3d"/><stop offset=".171" stop-color="#f5ff0a"/><stop offset=".178" stop-color="#ff0"/><stop offset=".209" stop-color="#ffd100"/><stop offset=".251" stop-color="#ff8000"/><stop offset=".313" stop-color="#f30"/><stop offset=".369" stop-color="#f00"/><stop offset=".514" stop-color="#e70000"/><stop offset=".778" stop-color="#b00"/><stop offset="1" stop-color="#9e0000"/></linearGradient><linearGradient id="g91" x2="0" y2="1"><stop offset="0" stop-color="#80ff80"/><stop offset=".144" stop-color="#c2ff3d"/><stop offset=".172" stop-color="#f5ff0a"/><stop offset=".179" stop-color="#ff0"/><stop offset=".209" stop-color="#ffd100"/><stop offset=".251" stop-color="#ff8000"/><stop offset=".314" stop-color="#ff2c00"/><stop offset=".369" stop-color="#f00"/><stop offset=".515" stop-color="#cd0000"/><stop offset=".778" stop-color="#ab0000"/><stop offset="1" stop-color="#9e0000"/></linearGradient><linearGradient id="g92" x2="0" y2="1"><stop offset="0" stop-color="#80ff80"/><stop offset=".142" stop-color="#c2ff3d"/><stop offset=".17" stop-color="#f5ff0a"/><stop offset=".177" stop-color="#ff0"/><stop offset=".206" stop-color="#ffd100"/><stop offset=".248" stop-color="#ff8000"/><stop offset=".31" stop-color="#ff3800"/><stop offset=".366" stop-color="#f00"/><stop offset=".512" stop-color="#da0000"/><stop offset=".778" stop-color="#bd0000"/><stop offset="1" stop-color="#9e0000"/></linearGradient><linearGradient id="g93" x2="0" y2="1"><stop offset="0" stop-color="#80ff80"/><stop offset=".129" stop-color="#c2ff3d"/><stop offset=".157" stop-color="#f5ff0a"/><stop offset=".161" stop-color="#ff0"/><stop offset=".177" stop-color="#ffd100"/><stop offset=".219" stop-color="#ff8000"/><stop offset=".282" stop-color="#ff3700"/><stop offset=".337" stop-color="#f00"/><stop offset=".483" stop-color="#ea0000"/><stop offset=".778" stop-color="#b00"/><stop offset="1" stop-color="#9e0000"/></linearGradient><linearGradient id="g94" x2="0" y2="1"><stop offset="0" stop-color="#80ff80"/><stop offset=".121" stop-color="#c2ff3d"/><stop offset=".149" stop-color="#f5ff0a"/><stop offset=".154" stop-color="#ff0"/><stop offset=".175" stop-color="#ffd100"/><stop offset=".217" stop-color="#ff8000"/><stop offset=".279" stop-color="#ff2b00"/><stop offset=".335" stop-color="#f00"/><stop offset=".481" stop-color="#e00000"/><stop offset=".778" stop-color="#bd0000"/><stop offset="1" stop-color="#9e0000"/></linearGradient><linearGradient id="g95" x2="0" y2="1"><stop offset="0" stop-color="#80ff80"/><stop offset=".148" stop-color="#c2ff3d"/><stop offset=".176" stop-color="#f5ff0a"/><stop offset=".181" stop-color="#ff0"/><stop offset=".202" stop-color="#ffd100"/><stop offset=".244" stop-color="#ff8000"/><stop offset=".306" stop-color="#ff2f00"/><stop offset=".362" stop-color="#f00"/><stop offset=".508" stop-color="#db0000"/><stop offset=".778" stop-color="#a00"/><stop offset="1" stop-color="#9e0000"/></linearGradient><linearGradient id="g96" x2="0" y2="1"><stop offset="0" stop-color="#80ff80"/><stop offset=".138" stop-color="#c2ff3d"/><stop offset=".166" stop-color="#f5ff0a"/><stop offset=".175" stop-color="#ff0"/><stop offset=".219" stop-color="#ffd100"/><stop offset=".261" stop-color="#ff8000"/><stop offset=".323" stop-color="#ff5700"/><stop offset=".379" stop-color="#ff5700"/><stop offset=".525" stop-color="#ff5700"/><stop offset=".778" stop-color="#ff5700"/><stop offset="1" stop-color="#ff5700"/></linearGradient><linearGradient id="g97" x2="0" y2="1"><stop offset="0" stop-color="#80ff80"/><stop offset=".141" stop-color="#c2ff3d"/><stop offset=".169" stop-color="#f5ff0a"/><stop offset=".178" stop-color="#ff0"/><stop offset=".22" stop-color="#ffd100"/><stop offset=".262" stop-color="#ffb300"/><stop offset=".324" stop-color="#ffb300"/><stop offset=".38" stop-color="#ffb300"/><stop offset=".526" stop-color="#ffb300"/><stop offset=".778" stop-color="#ffb300"/><stop offset="1" stop-color="#ffb300"/></linearGradient><linearGradient id="g98" x2="0" y2="1"><stop offset="0" stop-color="#80ff80"/><stop offset=".144" stop-color="#c2ff3d"/><stop offset=".172" stop-color="#f5ff0a"/><stop offset=".186" stop-color="#ff0"/><stop offset=".247" stop-color="#ffd100"/><stop offset=".288" stop-color="#ffb300"/><stop offset=".351" stop-color="#ffb300"/><stop offset=".406" stop-color="#ffb300"/><stop offset=".552" stop-color="#ffb300"/><stop offset=".778" stop-color="#ffb300"/><stop offset="1" stop-color="#ffb300"/></linearGradient><linearGradient id="g99" x2="0" y2="1"><stop offset="0" stop-color="#80ff80"/><stop offset=".153" stop-color="#c2ff3d"/><stop offset=".18" stop-color="#f5ff0a"/><stop offset=".195" stop-color="#ff0"/><stop offset=".258" stop-color="#ffd100"/><stop offset=".3" stop-color="#ffb300"/><stop offset=".362" stop-color="#ffb300"/><stop offset=".418" stop-color="#ffb300"/><stop offset=".564" stop-color="#ffb300"/><stop offset=".778" stop-color="#ffb300"/><stop offset="1" stop-color="#ffb300"/></linearGradient><linearGradient id="g100" x2="0" y2="1"><stop offset="0" stop-color="#86ff79"/><stop offset=".151" stop-color="#c2ff3d"/><stop offset=".179" stop-color="#f5ff0a"/><stop offset=".186" stop-color="#ff0"/><stop offset=".216" stop-color="#ffd100"/><stop offset=".257" stop-color="#ffb300"/><stop offset=".32" stop-color="#ffb300"/><stop offset=".375" stop-color="#ffb300"/><stop offset=".521" stop-color="#ffb300"/><stop offset=".778" stop-color="#ffb300"/><stop offset="1" stop-color="#ffb300"/></linearGradient><linearGradient id="g101" x2="0" y2="1"><stop offset="0" stop-color="#8aff75"/><stop offset=".158" stop-color="#c2ff3d"/><stop offset=".186" stop-color="#f5ff0a"/><stop offset=".19" stop-color="#ff0"/><stop offset=".211" stop-color="#ffd100"/><stop offset=".253" stop-color="#ffb300"/><stop offset=".315" stop-color="#ffb300"/><stop offset=".371" stop-color="#ffb300"/><stop offset=".517" stop-color="#ffb300"/><stop offset=".778" stop-color="#ffb300"/><stop offset="1" stop-color="#ffb300"/></linearGradient><linearGradient id="g102" x2="0" y2="1"><stop offset="0" stop-color="#8aff75"/><stop offset=".151" stop-color="#c2ff3d"/><stop offset=".178" stop-color="#f5ff0a"/><stop offset=".186" stop-color="#ff0"/><stop offset=".219" stop-color="#ffd100"/><stop offset=".261" stop-color="#ffb300"/><stop offset=".323" stop-color="#ffb300"/><stop offset=".379" stop-color="#ffb300"/><stop offset=".525" stop-color="#ffb300"/><stop offset=".778" stop-color="#ffb300"/><stop offset="1" stop-color="#ffb300"/></linearGradient><linearGradient id="g103" x2="0" y2="1"><stop offset="0" stop-color="#8aff75"/><stop offset=".172" stop-color="#c2ff3d"/><stop offset=".2" stop-color="#f5ff0a"/><stop offset=".206" stop-color="#ff0"/><stop offset=".235" stop-color="#ffd100"/><stop offset=".277" stop-color="#ffb300"/><stop offset=".339" stop-color="#ffb300"/><stop offset=".395" stop-color="#ffb300"/><stop offset=".541" stop-color="#ffb300"/><stop offset=".778" stop-color="#ffb300"/><stop offset="1" stop-color="#ffb300"/></linearGradient><linearGradient id="g104" x2="0" y2="1"><stop offset="0" stop-color="#8aff75"/><stop offset=".175" stop-color="#c2ff3d"/><stop offset=".203" stop-color="#f5ff0a"/><stop offset=".212" stop-color="#ff0"/><stop offset=".256" stop-color="#ffd100"/><stop offset=".297" stop-color="#ffb300"/><stop offset=".36" stop-color="#ffb300"/><stop offset=".416" stop-color="#ffb300"/><stop offset=".561" stop-color="#ffb300"/><stop offset=".778" stop-color="#ffb300"/><stop offset="1" stop-color="#ffb300"/></linearGradient><linearGradient id="g105" x2="0" y2="1"><stop offset="0" stop-color="#8aff75"/><stop offset=".208" stop-color="#c2ff3d"/><stop offset=".236" stop-color="#f5ff0a"/><stop offset=".246" stop-color="#ff0"/><stop offset=".288" stop-color="#ffd100"/><stop offset=".33" stop-color="#ffb300"/><stop offset=".392" stop-color="#ffb300"/><stop offset=".448" stop-color="#ffb300"/><stop offset=".594" stop-color="#ffb300"/><stop offset=".778" stop-color="#ffb300"/><stop offset="1" stop-color="#ffb300"/></linearGradient><linearGradient id="g106" x2="0" y2="1"><stop offset="0" stop-color="#8aff75"/><stop offset=".201" stop-color="#c2ff3d"/><stop offset=".228" stop-color="#f5ff0a"/><stop offset=".239" stop-color="#ff0"/><stop offset=".285" stop-color="#ffd100"/><stop offset=".327" stop-color="#ffb300"/><stop offset=".389" stop-color="#ffb300"/><stop offset=".445" stop-color="#ffb300"/><stop offset=".591" stop-color="#ffb300"/><stop offset=".778" stop-color="#ffb300"/><stop offset="1" stop-color="#ffb300"/></linearGradient><linearGradient id="g107" x2="0" y2="1"><stop offset="0" stop-color="#8aff75"/><stop offset=".201" stop-color="#c2ff3d"/><stop offset=".229" stop-color="#f5ff0a"/><stop offset=".244" stop-color="#ff0"/><stop offset=".312" stop-color="#ffd100"/><stop offset=".354" stop-color="#ffb700"/><stop offset=".416" stop-color="#ffb700"/><stop offset=".472" stop-color="#ffb700"/><stop offset=".618" stop-color="#ffb700"/><stop offset=".778" stop-color="#ffb700"/><stop offset="1" stop-color="#ffb700"/></linearGradient><linearGradient id="g108" x2="0" y2="1"><stop offset="0" stop-color="#8aff75"/><stop offset=".208" stop-color="#c2ff3d"/><stop offset=".236" stop-color="#f5ff0a"/><stop offset=".256" stop-color="#ff0"/><stop offset=".35" stop-color="#ffd100"/><stop offset=".391" stop-color="#fb0"/><stop offset=".454" stop-color="#fb0"/><stop offset=".509" stop-color="#fb0"/><stop offset=".655" stop-color="#fb0"/><stop offset=".778" stop-color="#fb0"/><stop offset="1" stop-color="#fb0"/></linearGradient><linearGradient id="g109" x2="0" y2="1"><stop offset="0" stop-color="#8aff75"/><stop offset=".274" stop-color="#c2ff3d"/><stop offset=".302" stop-color="#f5ff0a"/><stop offset=".322" stop-color="#ff0"/><stop offset=".413" stop-color="#ffd100"/><stop offset=".454" stop-color="#ffbd00"/><stop offset=".517" stop-color="#ffbd00"/><stop offset=".572" stop-color="#ffbd00"/><stop offset=".718" stop-color="#ffbd00"/><stop offset=".778" stop-color="#ffbd00"/><stop offset="1" stop-color="#ffbd00"/></linearGradient><linearGradient id="g110" x2="0" y2="1"><stop offset="0" stop-color="#8fff70"/><stop offset=".337" stop-color="#c2ff3d"/><stop offset=".365" stop-color="#f5ff0a"/><stop offset=".379" stop-color="#ff0"/><stop offset=".444" stop-color="#ffd100"/><stop offset=".486" stop-color="#ffbd00"/><stop offset=".548" stop-color="#ffbd00"/><stop offset=".604" stop-color="#ffbd00"/><stop offset=".75" stop-color="#ffbd00"/><stop offset=".778" stop-color="#ffbd00"/><stop offset="1" stop-color="#ffbd00"/></linearGradient><linearGradient id="g111" x2="0" y2="1"><stop offset="0" stop-color="#9f6"/><stop offset=".41" stop-color="#c2ff3d"/><stop offset=".438" stop-color="#f5ff0a"/><stop offset=".447" stop-color="#ff0"/><stop offset=".488" stop-color="#ffd100"/><stop offset=".53" stop-color="#fb0"/><stop offset=".593" stop-color="#fb0"/><stop offset=".648" stop-color="#fb0"/><stop offset=".794" stop-color="#fb0"/><stop offset=".797" stop-color="#fb0"/><stop offset="1" stop-color="#fb0"/></linearGradient><linearGradient id="g112" x2="0" y2="1"><stop offset="0" stop-color="#9f6"/><stop offset=".43" stop-color="#c2ff3d"/><stop offset=".457" stop-color="#f5ff0a"/><stop offset=".468" stop-color="#ff0"/><stop offset=".514" stop-color="#ffd100"/><stop offset=".555" stop-color="#ffba00"/><stop offset=".618" stop-color="#ffba00"/><stop offset=".673" stop-color="#ffba00"/><stop offset=".819" stop-color="#ffba00"/><stop offset=".823" stop-color="#ffba00"/><stop offset="1" stop-color="#ffba00"/></linearGradient><linearGradient id="g113" x2="0" y2="1"><stop offset="0" stop-color="#9f6"/><stop offset=".405" stop-color="#c2ff3d"/><stop offset=".433" stop-color="#f5ff0a"/><stop offset=".441" stop-color="#ff0"/><stop offset=".48" stop-color="#ffd100"/><stop offset=".521" stop-color="#ffb900"/><stop offset=".584" stop-color="#ffb900"/><stop offset=".64" stop-color="#ffb900"/><stop offset=".785" stop-color="#ffb900"/><stop offset=".789" stop-color="#ffb900"/><stop offset="1" stop-color="#ffb900"/></linearGradient><linearGradient id="g114" x2="0" y2="1"><stop offset="0" stop-color="#9f6"/><stop offset=".429" stop-color="#c2ff3d"/><stop offset=".457" stop-color="#f5ff0a"/><stop offset=".466" stop-color="#ff0"/><stop offset=".509" stop-color="#ffd100"/><stop offset=".55" stop-color="#ffb700"/><stop offset=".613" stop-color="#ffb700"/><stop offset=".669" stop-color="#ffb700"/><stop offset=".814" stop-color="#ffb700"/><stop offset=".818" stop-color="#ffb700"/><stop offset="1" stop-color="#ffb700"/></linearGradient><linearGradient id="g115" x2="0" y2="1"><stop offset="0" stop-color="#9f6"/><stop offset=".419" stop-color="#c2ff3d"/><stop offset=".447" stop-color="#f5ff0a"/><stop offset=".454" stop-color="#ff0"/><stop offset=".485" stop-color="#ffd100"/><stop offset=".527" stop-color="#ffb600"/><stop offset=".589" stop-color="#ffb600"/><stop offset=".645" stop-color="#ffb600"/><stop offset=".791" stop-color="#ffb600"/><stop offset=".794" stop-color="#ffb600"/><stop offset="1" stop-color="#ffb600"/></linearGradient><linearGradient id="g116" x2="0" y2="1"><stop offset="0" stop-color="#9f6"/><stop offset=".436" stop-color="#c2ff3d"/><stop offset=".464" stop-color="#f5ff0a"/><stop offset=".473" stop-color="#ff0"/><stop offset=".514" stop-color="#ffd100"/><stop offset=".556" stop-color="#ffb500"/><stop offset=".618" stop-color="#ffb500"/><stop offset=".674" stop-color="#ffb500"/><stop offset=".82" stop-color="#ffb500"/><stop offset=".823" stop-color="#ffb500"/><stop offset="1" stop-color="#ffb500"/></linearGradient><linearGradient id="g117" x2="0" y2="1"><stop offset="0" stop-color="#9f6"/><stop offset=".413" stop-color="#c2ff3d"/><stop offset=".441" stop-color="#f5ff0a"/><stop offset=".453" stop-color="#ff0"/><stop offset=".504" stop-color="#ffd100"/><stop offset=".546" stop-color="#ffb300"/><stop offset=".609" stop-color="#ffb300"/><stop offset=".664" stop-color="#ffb300"/><stop offset=".81" stop-color="#ffb300"/><stop offset=".813" stop-color="#ffb300"/><stop offset="1" stop-color="#ffb300"/></linearGradient><linearGradient id="g118" x2="0" y2="1"><stop offset="0" stop-color="#9f6"/><stop offset=".403" stop-color="#c2ff3d"/><stop offset=".431" stop-color="#f5ff0a"/><stop offset=".441" stop-color="#ff0"/><stop offset=".485" stop-color="#ffd100"/><stop offset=".526" stop-color="#ff9100"/><stop offset=".589" stop-color="#ff9100"/><stop offset=".644" stop-color="#ff9100"/><stop offset=".79" stop-color="#ff9100"/><stop offset=".794" stop-color="#ff9100"/><stop offset="1" stop-color="#ff9100"/></linearGradient><linearGradient id="g119" x2="0" y2="1"><stop offset="0" stop-color="#9f6"/><stop offset=".376" stop-color="#c2ff3d"/><stop offset=".404" stop-color="#f5ff0a"/><stop offset=".415" stop-color="#ff0"/><stop offset=".462" stop-color="#ffd100"/><stop offset=".504" stop-color="#ff8000"/><stop offset=".567" stop-color="#ff4c00"/><stop offset=".622" stop-color="#ff4c00"/><stop offset=".768" stop-color="#ff4c00"/><stop offset=".778" stop-color="#ff4c00"/><stop offset="1" stop-color="#ff4c00"/></linearGradient><linearGradient id="g120" x2="0" y2="1"><stop offset="0" stop-color="#9f6"/><stop offset=".379" stop-color="#c2ff3d"/><stop offset=".407" stop-color="#f5ff0a"/><stop offset=".418" stop-color="#ff0"/><stop offset=".466" stop-color="#ffd100"/><stop offset=".508" stop-color="#ff8000"/><stop offset=".57" stop-color="#ff4600"/><stop offset=".626" stop-color="#ff4600"/><stop offset=".772" stop-color="#ff4600"/><stop offset=".778" stop-color="#ff4600"/><stop offset="1" stop-color="#ff4600"/></linearGradient><linearGradient id="g121" x2="0" y2="1"><stop offset="0" stop-color="#9f6"/><stop offset=".383" stop-color="#c2ff3d"/><stop offset=".411" stop-color="#f5ff0a"/><stop offset=".418" stop-color="#ff0"/><stop offset=".453" stop-color="#ffd100"/><stop offset=".495" stop-color="#ff8000"/><stop offset=".557" stop-color="#ff3f00"/><stop offset=".613" stop-color="#ff3f00"/><stop offset=".759" stop-color="#ff3f00"/><stop offset=".778" stop-color="#ff3f00"/><stop offset="1" stop-color="#ff3f00"/></linearGradient><linearGradient id="g122" x2="0" y2="1"><stop offset="0" stop-color="#9f6"/><stop offset=".366" stop-color="#c2ff3d"/><stop offset=".393" stop-color="#f5ff0a"/><stop offset=".404" stop-color="#ff0"/><stop offset=".449" stop-color="#ffd100"/><stop offset=".491" stop-color="#ff8000"/><stop offset=".553" stop-color="#ff3800"/><stop offset=".609" stop-color="#ff3800"/><stop offset=".755" stop-color="#ff3800"/><stop offset=".778" stop-color="#ff3800"/><stop offset="1" stop-color="#ff3800"/></linearGradient><linearGradient id="g123" x2="0" y2="1"><stop offset="0" stop-color="#9f6"/><stop offset=".377" stop-color="#c2ff3d"/><stop offset=".405" stop-color="#f5ff0a"/><stop offset=".411" stop-color="#ff0"/><stop offset=".439" stop-color="#ffd100"/><stop offset=".48" stop-color="#ff8000"/><stop offset=".543" stop-color="#ff3100"/><stop offset=".598" stop-color="#ff3100"/><stop offset=".744" stop-color="#ff3100"/><stop offset=".778" stop-color="#ff3100"/><stop offset="1" stop-color="#ff3100"/></linearGradient><linearGradient id="g124" x2="0" y2="1"><stop offset="0" stop-color="#9f6"/><stop offset=".384" stop-color="#c2ff3d"/><stop offset=".412" stop-color="#f5ff0a"/><stop offset=".42" stop-color="#ff0"/><stop offset=".457" stop-color="#ffd100"/><stop offset=".499" stop-color="#ff8000"/><stop offset=".561" stop-color="#ff3700"/><stop offset=".617" stop-color="#ff2b00"/><stop offset=".763" stop-color="#ff2b00"/><stop offset=".778" stop-color="#ff2b00"/><stop offset="1" stop-color="#ff2b00"/></linearGradient><linearGradient id="g125" x2="0" y2="1"><stop offset="0" stop-color="#9f6"/><stop offset=".375" stop-color="#c2ff3d"/><stop offset=".403" stop-color="#f5ff0a"/><stop offset=".406" stop-color="#ff0"/><stop offset=".421" stop-color="#ffd100"/><stop offset=".463" stop-color="#ff8000"/><stop offset=".526" stop-color="#ff3000"/><stop offset=".581" stop-color="#ff2400"/><stop offset=".727" stop-color="#ff2400"/><stop offset=".778" stop-color="#ff2400"/><stop offset="1" stop-color="#ff2400"/></linearGradient><linearGradient id="g126" x2="0" y2="1"><stop offset="0" stop-color="#9f6"/><stop offset=".351" stop-color="#c2ff3d"/><stop offset=".379" stop-color="#f5ff0a"/><stop offset=".382" stop-color="#ff0"/><stop offset=".396" stop-color="#ffd100"/><stop offset=".438" stop-color="#ff8000"/><stop offset=".501" stop-color="#ff3000"/><stop offset=".556" stop-color="#ff0800"/><stop offset=".702" stop-color="#ff0800"/><stop offset=".778" stop-color="#ff0800"/><stop offset="1" stop-color="#ff0800"/></linearGradient><linearGradient id="g127" x2="0" y2="1"><stop offset="0" stop-color="#9f6"/><stop offset=".373" stop-color="#c2ff3d"/><stop offset=".401" stop-color="#f5ff0a"/><stop offset=".405" stop-color="#ff0"/><stop offset=".421" stop-color="#ffd100"/><stop offset=".463" stop-color="#ff8000"/><stop offset=".525" stop-color="#ff2900"/><stop offset=".581" stop-color="#f00"/><stop offset=".727" stop-color="#ec0000"/><stop offset=".778" stop-color="#ec0000"/><stop offset="1" stop-color="#ec0000"/></linearGradient><linearGradient id="g128" x2="0" y2="1"><stop offset="0" stop-color="#9f6"/><stop offset=".346" stop-color="#c2ff3d"/><stop offset=".373" stop-color="#f5ff0a"/><stop offset=".376" stop-color="#ff0"/><stop offset=".39" stop-color="#ffd100"/><stop offset=".432" stop-color="#ff8000"/><stop offset=".494" stop-color="#f30"/><stop offset=".55" stop-color="#f00"/><stop offset=".696" stop-color="#d10000"/><stop offset=".778" stop-color="#d10000"/><stop offset="1" stop-color="#d10000"/></linearGradient><linearGradient id="g129" x2="0" y2="1"><stop offset="0" stop-color="#9f6"/><stop offset=".339" stop-color="#c2ff3d"/><stop offset=".367" stop-color="#f5ff0a"/><stop offset=".372" stop-color="#ff0"/><stop offset=".394" stop-color="#ffd100"/><stop offset=".436" stop-color="#ff8000"/><stop offset=".498" stop-color="#ff3500"/><stop offset=".554" stop-color="#f00"/><stop offset=".7" stop-color="#de0000"/><stop offset=".778" stop-color="#c60000"/><stop offset="1" stop-color="#c60000"/></linearGradient><linearGradient id="g130" x2="0" y2="1"><stop offset="0" stop-color="#9f6"/><stop offset=".333" stop-color="#c2ff3d"/><stop offset=".361" stop-color="#f5ff0a"/><stop offset=".365" stop-color="#ff0"/><stop offset=".383" stop-color="#ffd100"/><stop offset=".425" stop-color="#ff8000"/><stop offset=".487" stop-color="#ff2800"/><stop offset=".543" stop-color="#f00"/><stop offset=".688" stop-color="#d40000"/><stop offset=".778" stop-color="#ba0000"/><stop offset="1" stop-color="#ba0000"/></linearGradient><linearGradient id="g131" x2="0" y2="1"><stop offset="0" stop-color="#9f6"/><stop offset=".339" stop-color="#c2ff3d"/><stop offset=".367" stop-color="#f5ff0a"/><stop offset=".369" stop-color="#ff0"/><stop offset=".379" stop-color="#ffd100"/><stop offset=".421" stop-color="#ff8000"/><stop offset=".483" stop-color="#ff3500"/><stop offset=".539" stop-color="#f00"/><stop offset=".685" stop-color="#ce0000"/><stop offset=".778" stop-color="#b60000"/><stop offset="1" stop-color="#af0000"/></linearGradient><linearGradient id="g132" x2="0" y2="1"><stop offset="0" stop-color="#9f6"/><stop offset=".327" stop-color="#c2ff3d"/><stop offset=".354" stop-color="#f5ff0a"/><stop offset=".357" stop-color="#ff0"/><stop offset=".37" stop-color="#ffd100"/><stop offset=".412" stop-color="#ff8000"/><stop offset=".475" stop-color="#ff2e00"/><stop offset=".53" stop-color="#f00"/><stop offset=".676" stop-color="#e30000"/><stop offset=".778" stop-color="#b20000"/><stop offset="1" stop-color="#a40000"/></linearGradient><linearGradient id="g133" x2="0" y2="1"><stop offset="0" stop-color="#9f6"/><stop offset=".324" stop-color="#c2ff3d"/><stop offset=".351" stop-color="#f5ff0a"/><stop offset=".353" stop-color="#ff0"/><stop offset=".363" stop-color="#ffd100"/><stop offset=".405" stop-color="#ff8000"/><stop offset=".467" stop-color="#ff3200"/><stop offset=".523" stop-color="#f00"/><stop offset=".668" stop-color="#e50000"/><stop offset=".778" stop-color="#b00"/><stop offset="1" stop-color="#9e0000"/></linearGradient><linearGradient id="g134" x2="0" y2="1"><stop offset="0" stop-color="#9f6"/><stop offset=".309" stop-color="#c2ff3d"/><stop offset=".337" stop-color="#f5ff0a"/><stop offset=".339" stop-color="#ff0"/><stop offset=".345" stop-color="#ffd100"/><stop offset=".387" stop-color="#ff8000"/><stop offset=".45" stop-color="#ff3700"/><stop offset=".505" stop-color="#f00"/><stop offset=".651" stop-color="#de0000"/><stop offset=".778" stop-color="#b50000"/><stop offset="1" stop-color="#9e0000"/></linearGradient><linearGradient id="g135" x2="0" y2="1"><stop offset="0" stop-color="#9f6"/><stop offset=".288" stop-color="#c2ff3d"/><stop offset=".315" stop-color="#f5ff0a"/><stop offset=".319" stop-color="#ff0"/><stop offset=".337" stop-color="#ffd100"/><stop offset=".379" stop-color="#ff8000"/><stop offset=".441" stop-color="#ff3800"/><stop offset=".497" stop-color="#f00"/><stop offset=".643" stop-color="#dc0000"/><stop offset=".778" stop-color="#af0000"/><stop offset="1" stop-color="#9e0000"/></linearGradient><linearGradient id="g136" x2="0" y2="1"><stop offset="0" stop-color="#9f6"/><stop offset=".28" stop-color="#c2ff3d"/><stop offset=".308" stop-color="#f5ff0a"/><stop offset=".312" stop-color="#ff0"/><stop offset=".33" stop-color="#ffd100"/><stop offset=".372" stop-color="#ff8000"/><stop offset=".434" stop-color="#ff2d00"/><stop offset=".49" stop-color="#f00"/><stop offset=".636" stop-color="#dc0000"/><stop offset=".778" stop-color="#b00000"/><stop offset="1" stop-color="#9e0000"/></linearGradient><linearGradient id="g137" x2="0" y2="1"><stop offset="0" stop-color="#9f6"/><stop offset=".292" stop-color="#c2ff3d"/><stop offset=".319" stop-color="#f5ff0a"/><stop offset=".323" stop-color="#ff0"/><stop offset=".338" stop-color="#ffd100"/><stop offset=".38" stop-color="#ff8000"/><stop offset=".442" stop-color="#ff3600"/><stop offset=".498" stop-color="#f00"/><stop offset=".643" stop-color="#e00000"/><stop offset=".778" stop-color="#a60000"/><stop offset="1" stop-color="#9e0000"/></linearGradient><linearGradient id="g138" x2="0" y2="1"><stop offset="0" stop-color="#9f6"/><stop offset=".28" stop-color="#c2ff3d"/><stop offset=".307" stop-color="#f5ff0a"/><stop offset=".31" stop-color="#ff0"/><stop offset=".319" stop-color="#ffd100"/><stop offset=".36" stop-color="#ff8000"/><stop offset=".423" stop-color="#ff3500"/><stop offset=".479" stop-color="#f00"/><stop offset=".624" stop-color="#d30000"/><stop offset=".778" stop-color="#a80000"/><stop offset="1" stop-color="#9e0000"/></linearGradient><linearGradient id="g139" x2="0" y2="1"><stop offset="0" stop-color="#9f6"/><stop offset=".277" stop-color="#c2ff3d"/><stop offset=".304" stop-color="#f5ff0a"/><stop offset=".306" stop-color="#ff0"/><stop offset=".314" stop-color="#ffd100"/><stop offset=".356" stop-color="#ff8000"/><stop offset=".418" stop-color="#ff2500"/><stop offset=".474" stop-color="#f00"/><stop offset=".62" stop-color="#e90000"/><stop offset=".778" stop-color="#ab0000"/><stop offset="1" stop-color="#9e0000"/></linearGradient><linearGradient id="g140" x2="0" y2="1"><stop offset="0" stop-color="#9cff63"/><stop offset=".275" stop-color="#c2ff3d"/><stop offset=".303" stop-color="#f5ff0a"/><stop offset=".304" stop-color="#ff0"/><stop offset=".312" stop-color="#ffd100"/><stop offset=".354" stop-color="#ff8000"/><stop offset=".416" stop-color="#ff3700"/><stop offset=".472" stop-color="#f00"/><stop offset=".617" stop-color="#e40000"/><stop offset=".778" stop-color="#b50000"/><stop offset="1" stop-color="#9e0000"/></linearGradient><linearGradient id="g141" x2="0" y2="1"><stop offset="0" stop-color="#9eff61"/><stop offset=".288" stop-color="#c2ff3d"/><stop offset=".316" stop-color="#f5ff0a"/><stop offset=".316" stop-color="#ff0"/><stop offset=".319" stop-color="#ffd100"/><stop offset=".361" stop-color="#ff8000"/><stop offset=".424" stop-color="#ff3600"/><stop offset=".479" stop-color="#f00"/><stop offset=".625" stop-color="#d00000"/><stop offset=".778" stop-color="#a50000"/><stop offset="1" stop-color="#9e0000"/></linearGradient><linearGradient id="g142" x2="0" y2="1"><stop offset="0" stop-color="#9eff61"/><stop offset=".278" stop-color="#c2ff3d"/><stop offset=".305" stop-color="#f5ff0a"/><stop offset=".308" stop-color="#ff0"/><stop offset=".322" stop-color="#ffd100"/><stop offset=".364" stop-color="#ff8000"/><stop offset=".426" stop-color="#ff3100"/><stop offset=".482" stop-color="#f00"/><stop offset=".627" stop-color="#e40000"/><stop offset=".778" stop-color="#ac0000"/><stop offset="1" stop-color="#9e0000"/></linearGradient><linearGradient id="g143" x2="0" y2="1"><stop offset="0" stop-color="#9eff61"/><stop offset=".264" stop-color="#c2ff3d"/><stop offset=".292" stop-color="#f5ff0a"/><stop offset=".296" stop-color="#ff0"/><stop offset=".315" stop-color="#ffd100"/><stop offset=".357" stop-color="#ff8000"/><stop offset=".419" stop-color="#ff2f00"/><stop offset=".475" stop-color="#f00"/><stop offset=".621" stop-color="#dc0000"/><stop offset=".778" stop-color="#b70000"/><stop offset="1" stop-color="#9e0000"/></linearGradient><linearGradient id="g144" x2="0" y2="1"><stop offset="0" stop-color="#9eff61"/><stop offset=".248" stop-color="#c2ff3d"/><stop offset=".275" stop-color="#f5ff0a"/><stop offset=".277" stop-color="#ff0"/><stop offset=".282" stop-color="#ffd100"/><stop offset=".324" stop-color="#ff8000"/><stop offset=".387" stop-color="#ff2d00"/><stop offset=".442" stop-color="#f00"/><stop offset=".588" stop-color="#df0000"/><stop offset=".778" stop-color="#b60000"/><stop offset="1" stop-color="#9e0000"/></linearGradient><linearGradient id="g145" x2="0" y2="1"><stop offset="0" stop-color="#9eff61"/><stop offset=".236" stop-color="#c2ff3d"/><stop offset=".264" stop-color="#f5ff0a"/><stop offset=".267" stop-color="#ff0"/><stop offset=".283" stop-color="#ffd100"/><stop offset=".324" stop-color="#ff8000"/><stop offset=".387" stop-color="#ff2700"/><stop offset=".442" stop-color="#f00"/><stop offset=".588" stop-color="#da0000"/><stop offset=".778" stop-color="#af0000"/><stop offset="1" stop-color="#9e0000"/></linearGradient><linearGradient id="g146" x2="0" y2="1"><stop offset="0" stop-color="#9eff61"/><stop offset=".233" stop-color="#c2ff3d"/><stop offset=".261" stop-color="#f5ff0a"/><stop offset=".265" stop-color="#ff0"/><stop offset=".283" stop-color="#ffd100"/><stop offset=".325" stop-color="#ff8000"/><stop offset=".387" stop-color="#ff2500"/><stop offset=".443" stop-color="#f00"/><stop offset=".589" stop-color="#d40000"/><stop offset=".778" stop-color="#b00000"/><stop offset="1" stop-color="#9e0000"/></linearGradient><linearGradient id="g147" x2="0" y2="1"><stop offset="0" stop-color="#9eff61"/><stop offset=".234" stop-color="#c2ff3d"/><stop offset=".262" stop-color="#f5ff0a"/><stop offset=".264" stop-color="#ff0"/><stop offset=".276" stop-color="#ffd100"/><stop offset=".318" stop-color="#ff8000"/><stop offset=".38" stop-color="#ff2f00"/><stop offset=".436" stop-color="#f00"/><stop offset=".582" stop-color="#e80000"/><stop offset=".778" stop-color="#b80000"/><stop offset="1" stop-color="#9e0000"/></linearGradient><linearGradient id="g148" x2="0" y2="1"><stop offset="0" stop-color="#9eff61"/><stop offset=".234" stop-color="#c2ff3d"/><stop offset=".262" stop-color="#f5ff0a"/><stop offset=".264" stop-color="#ff0"/><stop offset=".272" stop-color="#ffd100"/><stop offset=".314" stop-color="#ff8000"/><stop offset=".376" stop-color="#ff2600"/><stop offset=".432" stop-color="#f00"/><stop offset=".578" stop-color="#e20000"/><stop offset=".778" stop-color="#ab0000"/><stop offset="1" stop-color="#9e0000"/></linearGradient><linearGradient id="g149" x2="0" y2="1"><stop offset="0" stop-color="#9eff61"/><stop offset=".253" stop-color="#c2ff3d"/><stop offset=".281" stop-color="#f5ff0a"/><stop offset=".283" stop-color="#ff0"/><stop offset=".294" stop-color="#ffd100"/><stop offset=".336" stop-color="#ff8000"/><stop offset=".398" stop-color="#ff3700"/><stop offset=".454" stop-color="#f00"/><stop offset=".6" stop-color="#ce0000"/><stop offset=".778" stop-color="#b00000"/><stop offset="1" stop-color="#9e0000"/></linearGradient><linearGradient id="g150" x2="0" y2="1"><stop offset="0" stop-color="#9eff61"/><stop offset=".264" stop-color="#c2ff3d"/><stop offset=".292" stop-color="#f5ff0a"/><stop offset=".294" stop-color="#ff0"/><stop offset=".304" stop-color="#ffd100"/><stop offset=".346" stop-color="#ff8000"/><stop offset=".409" stop-color="#ff2700"/><stop offset=".464" stop-color="#f00"/><stop offset=".61" stop-color="#e60000"/><stop offset=".778" stop-color="#a60000"/><stop offset="1" stop-color="#9e0000"/></linearGradient><linearGradient id="g151" x2="0" y2="1"><stop offset="0" stop-color="#9eff61"/><stop offset=".262" stop-color="#c2ff3d"/><stop offset=".289" stop-color="#f5ff0a"/><stop offset=".294" stop-color="#ff0"/><stop offset=".315" stop-color="#ffd100"/><stop offset=".356" stop-color="#ff8000"/><stop offset=".419" stop-color="#ff3500"/><stop offset=".474" stop-color="#f00"/><stop offset=".62" stop-color="#e20000"/><stop offset=".778" stop-color="#b00000"/><stop offset="1" stop-color="#9e0000"/></linearGradient><linearGradient id="g152" x2="0" y2="1"><stop offset="0" stop-color="#9eff61"/><stop offset=".268" stop-color="#c2ff3d"/><stop offset=".295" stop-color="#f5ff0a"/><stop offset=".297" stop-color="#ff0"/><stop offset=".302" stop-color="#ffd100"/><stop offset=".344" stop-color="#ff8000"/><stop offset=".406" stop-color="#ff3600"/><stop offset=".462" stop-color="#f00"/><stop offset=".608" stop-color="#d00"/><stop offset=".778" stop-color="#a20000"/><stop offset="1" stop-color="#a00000"/></linearGradient><linearGradient id="g153" x2="0" y2="1"><stop offset="0" stop-color="#9eff61"/><stop offset=".272" stop-color="#c2ff3d"/><stop offset=".3" stop-color="#f5ff0a"/><stop offset=".301" stop-color="#ff0"/><stop offset=".303" stop-color="#ffd100"/><stop offset=".345" stop-color="#ff8000"/><stop offset=".407" stop-color="#f30"/><stop offset=".463" stop-color="#f00"/><stop offset=".609" stop-color="#d50000"/><stop offset=".778" stop-color="#a30000"/><stop offset="1" stop-color="#a00000"/></linearGradient><linearGradient id="g154" x2="0" y2="1"><stop offset="0" stop-color="#9eff61"/><stop offset=".274" stop-color="#c2ff3d"/><stop offset=".302" stop-color="#f5ff0a"/><stop offset=".304" stop-color="#ff0"/><stop offset=".315" stop-color="#ffd100"/><stop offset=".357" stop-color="#ff8000"/><stop offset=".42" stop-color="#ff2f00"/><stop offset=".475" stop-color="#f00"/><stop offset=".621" stop-color="#d70000"/><stop offset=".778" stop-color="#ae0000"/><stop offset="1" stop-color="#9e0000"/></linearGradient><linearGradient id="g155" x2="0" y2="1"><stop offset="0" stop-color="#9eff61"/><stop offset=".255" stop-color="#c2ff3d"/><stop offset=".282" stop-color="#f5ff0a"/><stop offset=".283" stop-color="#ff0"/><stop offset=".286" stop-color="#ffd100"/><stop offset=".327" stop-color="#ff8000"/><stop offset=".39" stop-color="#ff2c00"/><stop offset=".445" stop-color="#f00"/><stop offset=".591" stop-color="#db0000"/><stop offset=".778" stop-color="#ae0000"/><stop offset="1" stop-color="#a10000"/></linearGradient><linearGradient id="g156" x2="0" y2="1"><stop offset="0" stop-color="#9eff61"/><stop offset=".271" stop-color="#c2ff3d"/><stop offset=".299" stop-color="#f5ff0a"/><stop offset=".301" stop-color="#ff0"/><stop offset=".307" stop-color="#ffd100"/><stop offset=".349" stop-color="#ff8000"/><stop offset=".411" stop-color="#ff3400"/><stop offset=".467" stop-color="#f00"/><stop offset=".613" stop-color="#d00"/><stop offset=".778" stop-color="#b90000"/><stop offset="1" stop-color="#9f0000"/></linearGradient><linearGradient id="g157" x2="0" y2="1"><stop offset="0" stop-color="#9eff61"/><stop offset=".259" stop-color="#c2ff3d"/><stop offset=".287" stop-color="#f5ff0a"/><stop offset=".287" stop-color="#ff0"/><stop offset=".288" stop-color="#ffd100"/><stop offset=".33" stop-color="#ff8000"/><stop offset=".393" stop-color="#ff2e00"/><stop offset=".448" stop-color="#f00"/><stop offset=".594" stop-color="#d30000"/><stop offset=".778" stop-color="#ad0000"/><stop offset="1" stop-color="#9e0000"/></linearGradient><linearGradient id="g158" x2="0" y2="1"><stop offset="0" stop-color="#9eff61"/><stop offset=".242" stop-color="#c2ff3d"/><stop offset=".27" stop-color="#f5ff0a"/><stop offset=".27" stop-color="#ff0"/><stop offset=".271" stop-color="#ffd100"/><stop offset=".313" stop-color="#ff8000"/><stop offset=".375" stop-color="#ff2700"/><stop offset=".431" stop-color="#f00"/><stop offset=".577" stop-color="#d00"/><stop offset=".778" stop-color="#b10000"/><stop offset="1" stop-color="#9e0000"/></linearGradient><linearGradient id="g159" x2="0" y2="1"><stop offset="0" stop-color="#9eff61"/><stop offset=".238" stop-color="#c2ff3d"/><stop offset=".265" stop-color="#f5ff0a"/><stop offset=".267" stop-color="#ff0"/><stop offset=".274" stop-color="#ffd100"/><stop offset=".316" stop-color="#ff8000"/><stop offset=".379" stop-color="#ff2500"/><stop offset=".434" stop-color="#f00"/><stop offset=".58" stop-color="#e40000"/><stop offset=".778" stop-color="#a80000"/><stop offset="1" stop-color="#9e0000"/></linearGradient><linearGradient id="g160" x2="0" y2="1"><stop offset="0" stop-color="#9eff61"/><stop offset=".237" stop-color="#c2ff3d"/><stop offset=".264" stop-color="#f5ff0a"/><stop offset=".266" stop-color="#ff0"/><stop offset=".274" stop-color="#ffd100"/><stop offset=".316" stop-color="#ff8000"/><stop offset=".378" stop-color="#ff2b00"/><stop offset=".434" stop-color="#f00"/><stop offset=".58" stop-color="#e50000"/><stop offset=".778" stop-color="#bd0000"/><stop offset="1" stop-color="#9e0000"/></linearGradient><linearGradient id="g161" x2="0" y2="1"><stop offset="0" stop-color="#9eff61"/><stop offset=".219" stop-color="#c2ff3d"/><stop offset=".247" stop-color="#f5ff0a"/><stop offset=".247" stop-color="#ff0"/><stop offset=".249" stop-color="#ffd100"/><stop offset=".291" stop-color="#ff8000"/><stop offset=".353" stop-color="#ff3000"/><stop offset=".409" stop-color="#f00"/><stop offset=".555" stop-color="#e10000"/><stop offset=".778" stop-color="#ad0000"/><stop offset="1" stop-color="#9e0000"/></linearGradient><linearGradient id="g162" x2="0" y2="1"><stop offset="0" stop-color="#9eff61"/><stop offset=".217" stop-color="#c2ff3d"/><stop offset=".244" stop-color="#f5ff0a"/><stop offset=".244" stop-color="#ff0"/><stop offset=".245" stop-color="#ffd100"/><stop offset=".286" stop-color="#ff8000"/><stop offset=".349" stop-color="#ff2500"/><stop offset=".404" stop-color="#f00"/><stop offset=".55" stop-color="#e50000"/><stop offset=".778" stop-color="#bc0000"/><stop offset="1" stop-color="#9e0000"/></linearGradient><linearGradient id="g163" x2="0" y2="1"><stop offset="0" stop-color="#9eff61"/><stop offset=".21" stop-color="#c2ff3d"/><stop offset=".237" stop-color="#f5ff0a"/><stop offset=".238" stop-color="#ff0"/><stop offset=".241" stop-color="#ffd100"/><stop offset=".278" stop-color="#ff8000"/><stop offset=".34" stop-color="#ff3500"/><stop offset=".396" stop-color="#f00"/><stop offset=".542" stop-color="#e10000"/><stop offset=".778" stop-color="#b20000"/><stop offset="1" stop-color="#9e0000"/></linearGradient><linearGradient id="g164" x2="0" y2="1"><stop offset="0" stop-color="#9eff61"/><stop offset=".211" stop-color="#c2ff3d"/><stop offset=".239" stop-color="#f5ff0a"/><stop offset=".241" stop-color="#ff0"/><stop offset=".251" stop-color="#ffd100"/><stop offset=".293" stop-color="#ff8000"/><stop offset=".356" stop-color="#ff3500"/><stop offset=".411" stop-color="#f00"/><stop offset=".557" stop-color="#e30000"/><stop offset=".778" stop-color="#ba0000"/><stop offset="1" stop-color="#9e0000"/></linearGradient><linearGradient id="g165" x2="0" y2="1"><stop offset="0" stop-color="#9eff61"/><stop offset=".215" stop-color="#c2ff3d"/><stop offset=".243" stop-color="#f5ff0a"/><stop offset=".245" stop-color="#ff0"/><stop offset=".257" stop-color="#ffd100"/><stop offset=".298" stop-color="#ff8000"/><stop offset=".361" stop-color="#ff2500"/><stop offset=".416" stop-color="#f00"/><stop offset=".562" stop-color="#dc0000"/><stop offset=".778" stop-color="#a80000"/><stop offset="1" stop-color="#9e0000"/></linearGradient><linearGradient id="g166" x2="0" y2="1"><stop offset="0" stop-color="#9eff61"/><stop offset=".175" stop-color="#c2ff3d"/><stop offset=".203" stop-color="#f5ff0a"/><stop offset=".206" stop-color="#ff0"/><stop offset=".217" stop-color="#ffd100"/><stop offset=".259" stop-color="#ff8000"/><stop offset=".321" stop-color="#ff2c00"/><stop offset=".377" stop-color="#f00"/><stop offset=".523" stop-color="#da0000"/><stop offset=".778" stop-color="#a50000"/><stop offset="1" stop-color="#9e0000"/></linearGradient><linearGradient id="g167" x2="0" y2="1"><stop offset="0" stop-color="#9eff61"/><stop offset=".178" stop-color="#c2ff3d"/><stop offset=".206" stop-color="#f5ff0a"/><stop offset=".209" stop-color="#ff0"/><stop offset=".223" stop-color="#ffd100"/><stop offset=".265" stop-color="#ff8000"/><stop offset=".327" stop-color="#ff2d00"/><stop offset=".383" stop-color="#f00"/><stop offset=".529" stop-color="#cd0000"/><stop offset=".778" stop-color="#a00"/><stop offset="1" stop-color="#9e0000"/></linearGradient><linearGradient id="g168" x2="0" y2="1"><stop offset="0" stop-color="#9eff61"/><stop offset=".174" stop-color="#c2ff3d"/><stop offset=".202" stop-color="#f5ff0a"/><stop offset=".203" stop-color="#ff0"/><stop offset=".209" stop-color="#ffd100"/><stop offset=".251" stop-color="#ff8000"/><stop offset=".313" stop-color="#ff2b00"/><stop offset=".369" stop-color="#f00"/><stop offset=".514" stop-color="#d20000"/><stop offset=".778" stop-color="#bf0000"/><stop offset="1" stop-color="#9e0000"/></linearGradient><linearGradient id="g169" x2="0" y2="1"><stop offset="0" stop-color="#9eff61"/><stop offset=".168" stop-color="#c2ff3d"/><stop offset=".195" stop-color="#f5ff0a"/><stop offset=".197" stop-color="#ff0"/><stop offset=".204" stop-color="#ffd100"/><stop offset=".246" stop-color="#ff8000"/><stop offset=".308" stop-color="#ff3200"/><stop offset=".364" stop-color="#f00"/><stop offset=".51" stop-color="#d40000"/><stop offset=".778" stop-color="#a30000"/><stop offset="1" stop-color="#9e0000"/></linearGradient><linearGradient id="g170" x2="0" y2="1"><stop offset="0" stop-color="#9eff61"/><stop offset=".199" stop-color="#c2ff3d"/><stop offset=".226" stop-color="#f5ff0a"/><stop offset=".227" stop-color="#ff0"/><stop offset=".228" stop-color="#ffd100"/><stop offset=".269" stop-color="#ff8000"/><stop offset=".332" stop-color="#ff2f00"/><stop offset=".387" stop-color="#f00"/><stop offset=".533" stop-color="#cd0000"/><stop offset=".778" stop-color="#af0000"/><stop offset="1" stop-color="#9e0000"/></linearGradient><linearGradient id="g171" x2="0" y2="1"><stop offset="0" stop-color="#9eff61"/><stop offset=".216" stop-color="#c2ff3d"/><stop offset=".244" stop-color="#f5ff0a"/><stop offset=".247" stop-color="#ff0"/><stop offset=".258" stop-color="#ffd100"/><stop offset=".299" stop-color="#ff8000"/><stop offset=".362" stop-color="#ff2800"/><stop offset=".417" stop-color="#f00"/><stop offset=".563" stop-color="#d40000"/><stop offset=".778" stop-color="#b30000"/><stop offset="1" stop-color="#a00000"/></linearGradient><linearGradient id="g172" x2="0" y2="1"><stop offset="0" stop-color="#d1ff2e"/><stop offset=".233" stop-color="#d1ff2e"/><stop offset=".26" stop-color="#f5ff0a"/><stop offset=".261" stop-color="#ff0"/><stop offset=".264" stop-color="#ffd100"/><stop offset=".299" stop-color="#ff8000"/><stop offset=".361" stop-color="#ff3400"/><stop offset=".417" stop-color="#f00"/><stop offset=".563" stop-color="#e90000"/><stop offset=".778" stop-color="#ba0000"/><stop offset="1" stop-color="#9e0000"/></linearGradient><linearGradient id="g173" x2="0" y2="1"><stop offset="0" stop-color="#d1ff2e"/><stop offset=".239" stop-color="#d1ff2e"/><stop offset=".267" stop-color="#f5ff0a"/><stop offset=".268" stop-color="#ff0"/><stop offset=".273" stop-color="#ffd100"/><stop offset=".315" stop-color="#ff8000"/><stop offset=".377" stop-color="#ff3000"/><stop offset=".433" stop-color="#f00"/><stop offset=".579" stop-color="#d90000"/><stop offset=".778" stop-color="#a70000"/><stop offset="1" stop-color="#9e0000"/></linearGradient><linearGradient id="g174" x2="0" y2="1"><stop offset="0" stop-color="#d1ff2e"/><stop offset=".256" stop-color="#d1ff2e"/><stop offset=".284" stop-color="#f5ff0a"/><stop offset=".285" stop-color="#ff0"/><stop offset=".292" stop-color="#ffd100"/><stop offset=".333" stop-color="#ff8000"/><stop offset=".396" stop-color="#ff3800"/><stop offset=".452" stop-color="#f00"/><stop offset=".597" stop-color="#cd0000"/><stop offset=".778" stop-color="#bc0000"/><stop offset="1" stop-color="#9e0000"/></linearGradient><linearGradient id="g175" x2="0" y2="1"><stop offset="0" stop-color="#9eff61"/><stop offset=".292" stop-color="#c2ff3d"/><stop offset=".32" stop-color="#f5ff0a"/><stop offset=".321" stop-color="#ff0"/><stop offset=".323" stop-color="#ffd100"/><stop offset=".359" stop-color="#ff8000"/><stop offset=".421" stop-color="#ff2700"/><stop offset=".477" stop-color="#f00"/><stop offset=".623" stop-color="#e80000"/><stop offset=".778" stop-color="#a90000"/><stop offset="1" stop-color="#a00000"/></linearGradient><linearGradient id="g176" x2="0" y2="1"><stop offset="0" stop-color="#9eff61"/><stop offset=".301" stop-color="#c2ff3d"/><stop offset=".328" stop-color="#f5ff0a"/><stop offset=".329" stop-color="#ff0"/><stop offset=".332" stop-color="#ffd100"/><stop offset=".367" stop-color="#ff8000"/><stop offset=".429" stop-color="#ff2a00"/><stop offset=".485" stop-color="#f00"/><stop offset=".631" stop-color="#e40000"/><stop offset=".778" stop-color="#ac0000"/><stop offset="1" stop-color="#9e0000"/></linearGradient><linearGradient id="g177" x2="0" y2="1"><stop offset="0" stop-color="#9eff61"/><stop offset=".286" stop-color="#c2ff3d"/><stop offset=".314" stop-color="#f5ff0a"/><stop offset=".314" stop-color="#ff0"/><stop offset=".317" stop-color="#ffd100"/><stop offset=".354" stop-color="#ff8000"/><stop offset=".416" stop-color="#ff2700"/><stop offset=".472" stop-color="#f00"/><stop offset=".618" stop-color="#d00000"/><stop offset=".778" stop-color="#af0000"/><stop offset="1" stop-color="#9e0000"/></linearGradient><linearGradient id="g178" x2="0" y2="1"><stop offset="0" stop-color="#9eff61"/><stop offset=".3" stop-color="#c2ff3d"/><stop offset=".327" stop-color="#f5ff0a"/><stop offset=".329" stop-color="#ff0"/><stop offset=".338" stop-color="#ffd100"/><stop offset=".379" stop-color="#ff8000"/><stop offset=".442" stop-color="#ff3400"/><stop offset=".497" stop-color="#f00"/><stop offset=".643" stop-color="#d40000"/><stop offset=".778" stop-color="#b00"/><stop offset="1" stop-color="#9e0000"/></linearGradient><linearGradient id="g179" x2="0" y2="1"><stop offset="0" stop-color="#9eff61"/><stop offset=".287" stop-color="#c2ff3d"/><stop offset=".315" stop-color="#f5ff0a"/><stop offset=".317" stop-color="#ff0"/><stop offset=".328" stop-color="#ffd100"/><stop offset=".37" stop-color="#ff8000"/><stop offset=".432" stop-color="#ff3700"/><stop offset=".488" stop-color="#f00"/><stop offset=".634" stop-color="#e30000"/><stop offset=".778" stop-color="#b30000"/><stop offset="1" stop-color="#9e0000"/></linearGradient><linearGradient id="g180" x2="0" y2="1"><stop offset="0" stop-color="#9eff61"/><stop offset=".292" stop-color="#c2ff3d"/><stop offset=".32" stop-color="#f5ff0a"/><stop offset=".322" stop-color="#ff0"/><stop offset=".33" stop-color="#ffd100"/><stop offset=".372" stop-color="#ff8000"/><stop offset=".435" stop-color="#ff3200"/><stop offset=".49" stop-color="#f00"/><stop offset=".636" stop-color="#d50000"/><stop offset=".778" stop-color="#a60000"/><stop offset="1" stop-color="#9e0000"/></linearGradient><linearGradient id="g181" x2="0" y2="1"><stop offset="0" stop-color="#9eff61"/><stop offset=".303" stop-color="#c2ff3d"/><stop offset=".331" stop-color="#f5ff0a"/><stop offset=".333" stop-color="#ff0"/><stop offset=".34" stop-color="#ffd100"/><stop offset=".382" stop-color="#ff8000"/><stop offset=".444" stop-color="#ff3600"/><stop offset=".5" stop-color="#f00"/><stop offset=".646" stop-color="#d60000"/><stop offset=".778" stop-color="#a60000"/><stop offset="1" stop-color="#9e0000"/></linearGradient><linearGradient id="g182" x2="0" y2="1"><stop offset="0" stop-color="#9eff61"/><stop offset=".291" stop-color="#c2ff3d"/><stop offset=".319" stop-color="#f5ff0a"/><stop offset=".326" stop-color="#ff0"/><stop offset=".36" stop-color="#ffd100"/><stop offset=".402" stop-color="#ff8000"/><stop offset=".464" stop-color="#f30"/><stop offset=".52" stop-color="#f00"/><stop offset=".666" stop-color="#cd0000"/><stop offset=".778" stop-color="#a70000"/><stop offset="1" stop-color="#9e0000"/></linearGradient><linearGradient id="g183" x2="0" y2="1"><stop offset="0" stop-color="#9eff61"/><stop offset=".3" stop-color="#c2ff3d"/><stop offset=".327" stop-color="#f5ff0a"/><stop offset=".334" stop-color="#ff0"/><stop offset=".362" stop-color="#ffd100"/><stop offset=".403" stop-color="#ff8000"/><stop offset=".466" stop-color="#ff2e00"/><stop offset=".521" stop-color="#f00"/><stop offset=".667" stop-color="#d50000"/><stop offset=".778" stop-color="#a00"/><stop offset="1" stop-color="#9e0000"/></linearGradient><linearGradient id="g184" x2="0" y2="1"><stop offset="0" stop-color="#9eff61"/><stop offset=".329" stop-color="#c2ff3d"/><stop offset=".356" stop-color="#f5ff0a"/><stop offset=".363" stop-color="#ff0"/><stop offset=".394" stop-color="#ffd100"/><stop offset=".436" stop-color="#ff8000"/><stop offset=".499" stop-color="#ff2400"/><stop offset=".554" stop-color="#f00"/><stop offset=".7" stop-color="#de0000"/><stop offset=".778" stop-color="#ac0000"/><stop offset="1" stop-color="#9e0000"/></linearGradient><linearGradient id="g185" x2="0" y2="1"><stop offset="0" stop-color="#9eff61"/><stop offset=".328" stop-color="#c2ff3d"/><stop offset=".356" stop-color="#f5ff0a"/><stop offset=".362" stop-color="#ff0"/><stop offset=".39" stop-color="#ffd100"/><stop offset=".432" stop-color="#ff8000"/><stop offset=".494" stop-color="#ff3400"/><stop offset=".55" stop-color="#f00"/><stop offset=".695" stop-color="#e80000"/><stop offset=".778" stop-color="#a70000"/><stop offset="1" stop-color="#9e0000"/></linearGradient><linearGradient id="g186" x2="0" y2="1"><stop offset="0" stop-color="#9eff61"/><stop offset=".312" stop-color="#c2ff3d"/><stop offset=".34" stop-color="#f5ff0a"/><stop offset=".347" stop-color="#ff0"/><stop offset=".377" stop-color="#ffd100"/><stop offset=".419" stop-color="#ff8000"/><stop offset=".481" stop-color="#ff3600"/><stop offset=".537" stop-color="#f00"/><stop offset=".683" stop-color="#e60000"/><stop offset=".778" stop-color="#ab0000"/><stop offset="1" stop-color="#9f0000"/></linearGradient><linearGradient id="g187" x2="0" y2="1"><stop offset="0" stop-color="#9eff61"/><stop offset=".321" stop-color="#c2ff3d"/><stop offset=".349" stop-color="#f5ff0a"/><stop offset=".353" stop-color="#ff0"/><stop offset=".372" stop-color="#ffd100"/><stop offset=".414" stop-color="#ff8000"/><stop offset=".476" stop-color="#ff2400"/><stop offset=".532" stop-color="#f00"/><stop offset=".678" stop-color="#e30000"/><stop offset=".778" stop-color="#b50000"/><stop offset="1" stop-color="#a20000"/></linearGradient><linearGradient id="g188" x2="0" y2="1"><stop offset="0" stop-color="#9eff61"/><stop offset=".311" stop-color="#c2ff3d"/><stop offset=".339" stop-color="#f5ff0a"/><stop offset=".343" stop-color="#ff0"/><stop offset=".36" stop-color="#ffd100"/><stop offset=".402" stop-color="#ff8000"/><stop offset=".465" stop-color="#ff2700"/><stop offset=".52" stop-color="#f00"/><stop offset=".666" stop-color="#de0000"/><stop offset=".778" stop-color="#a40000"/><stop offset="1" stop-color="#a10000"/></linearGradient><linearGradient id="g189" x2="0" y2="1"><stop offset="0" stop-color="#9eff61"/><stop offset=".321" stop-color="#c2ff3d"/><stop offset=".349" stop-color="#f5ff0a"/><stop offset=".355" stop-color="#ff0"/><stop offset=".383" stop-color="#ffd100"/><stop offset=".425" stop-color="#ff8000"/><stop offset=".488" stop-color="#ff2900"/><stop offset=".543" stop-color="#f00"/><stop offset=".689" stop-color="#d30000"/><stop offset=".778" stop-color="#a70000"/><stop offset="1" stop-color="#9e0000"/></linearGradient><linearGradient id="g190" x2="0" y2="1"><stop offset="0" stop-color="#9eff61"/><stop offset=".302" stop-color="#c2ff3d"/><stop offset=".329" stop-color="#f5ff0a"/><stop offset=".336" stop-color="#ff0"/><stop offset=".364" stop-color="#ffd100"/><stop offset=".406" stop-color="#ff8000"/><stop offset=".469" stop-color="#ff2e00"/><stop offset=".524" stop-color="#f00"/><stop offset=".67" stop-color="#ea0000"/><stop offset=".778" stop-color="#b60000"/><stop offset="1" stop-color="#9e0000"/></linearGradient><linearGradient id="g191" x2="0" y2="1"><stop offset="0" stop-color="#9eff61"/><stop offset=".268" stop-color="#c2ff3d"/><stop offset=".295" stop-color="#f5ff0a"/><stop offset=".299" stop-color="#ff0"/><stop offset=".316" stop-color="#ffd100"/><stop offset=".358" stop-color="#ff8000"/><stop offset=".42" stop-color="#ff3500"/><stop offset=".476" stop-color="#f00"/><stop offset=".621" stop-color="#da0000"/><stop offset=".778" stop-color="#b50000"/><stop offset="1" stop-color="#9e0000"/></linearGradient><linearGradient id="g192" x2="0" y2="1"><stop offset="0" stop-color="#9eff61"/><stop offset=".255" stop-color="#c2ff3d"/><stop offset=".283" stop-color="#f5ff0a"/><stop offset=".287" stop-color="#ff0"/><stop offset=".302" stop-color="#ffd100"/><stop offset=".343" stop-color="#ff8000"/><stop offset=".406" stop-color="#ff2c00"/><stop offset=".461" stop-color="#f00"/><stop offset=".607" stop-color="#d20000"/><stop offset=".778" stop-color="#bd0000"/><stop offset="1" stop-color="#9e0000"/></linearGradient><linearGradient id="g193" x2="0" y2="1"><stop offset="0" stop-color="#9eff61"/><stop offset=".232" stop-color="#c2ff3d"/><stop offset=".26" stop-color="#f5ff0a"/><stop offset=".263" stop-color="#ff0"/><stop offset=".275" stop-color="#ffd100"/><stop offset=".316" stop-color="#ff8000"/><stop offset=".379" stop-color="#ff3700"/><stop offset=".435" stop-color="#f00"/><stop offset=".58" stop-color="#d10000"/><stop offset=".778" stop-color="#b10000"/><stop offset="1" stop-color="#9e0000"/></linearGradient><linearGradient id="g194" x2="0" y2="1"><stop offset="0" stop-color="#9eff61"/><stop offset=".207" stop-color="#c2ff3d"/><stop offset=".235" stop-color="#f5ff0a"/><stop offset=".238" stop-color="#ff0"/><stop offset=".255" stop-color="#ffd100"/><stop offset=".297" stop-color="#ff8000"/><stop offset=".359" stop-color="#ff3400"/><stop offset=".415" stop-color="#f00"/><stop offset=".56" stop-color="#ea0000"/><stop offset=".778" stop-color="#bf0000"/><stop offset="1" stop-color="#9e0000"/></linearGradient><linearGradient id="g195" x2="0" y2="1"><stop offset="0" stop-color="#9eff61"/><stop offset=".176" stop-color="#c2ff3d"/><stop offset=".204" stop-color="#f5ff0a"/><stop offset=".208" stop-color="#ff0"/><stop offset=".224" stop-color="#ffd100"/><stop offset=".266" stop-color="#ff8000"/><stop offset=".328" stop-color="#ff2700"/><stop offset=".384" stop-color="#f00"/><stop offset=".529" stop-color="#e00000"/><stop offset=".778" stop-color="#b60000"/><stop offset="1" stop-color="#9e0000"/></linearGradient><linearGradient id="g196" x2="0" y2="1"><stop offset="0" stop-color="#9eff61"/><stop offset=".194" stop-color="#c2ff3d"/><stop offset=".222" stop-color="#f5ff0a"/><stop offset=".226" stop-color="#ff0"/><stop offset=".247" stop-color="#ffd100"/><stop offset=".288" stop-color="#ff8000"/><stop offset=".351" stop-color="#ff2800"/><stop offset=".406" stop-color="#f00"/><stop offset=".552" stop-color="#e80000"/><stop offset=".778" stop-color="#a60000"/><stop offset="1" stop-color="#9f0000"/></linearGradient><linearGradient id="g197" x2="0" y2="1"><stop offset="0" stop-color="#9eff61"/><stop offset=".199" stop-color="#c2ff3d"/><stop offset=".227" stop-color="#f5ff0a"/><stop offset=".233" stop-color="#ff0"/><stop offset=".262" stop-color="#ffd100"/><stop offset=".304" stop-color="#ff8000"/><stop offset=".366" stop-color="#ff2f00"/><stop offset=".422" stop-color="#f00"/><stop offset=".568" stop-color="#e80000"/><stop offset=".778" stop-color="#b00"/><stop offset="1" stop-color="#9e0000"/></linearGradient><linearGradient id="g198" x2="0" y2="1"><stop offset="0" stop-color="#9eff61"/><stop offset=".222" stop-color="#c2ff3d"/><stop offset=".25" stop-color="#f5ff0a"/><stop offset=".255" stop-color="#ff0"/><stop offset=".282" stop-color="#ffd100"/><stop offset=".324" stop-color="#ff8000"/><stop offset=".386" stop-color="#ff3600"/><stop offset=".442" stop-color="#f00"/><stop offset=".587" stop-color="#cf0000"/><stop offset=".778" stop-color="#af0000"/><stop offset="1" stop-color="#9e0000"/></linearGradient><linearGradient id="g199" x2="0" y2="1"><stop offset="0" stop-color="#9eff61"/><stop offset=".254" stop-color="#c2ff3d"/><stop offset=".282" stop-color="#f5ff0a"/><stop offset=".288" stop-color="#ff0"/><stop offset=".317" stop-color="#ffd100"/><stop offset=".359" stop-color="#ff8000"/><stop offset=".421" stop-color="#ff2600"/><stop offset=".477" stop-color="#f00"/><stop offset=".623" stop-color="#ea0000"/><stop offset=".778" stop-color="#a40000"/><stop offset="1" stop-color="#9e0000"/></linearGradient><linearGradient id="g200" x2="0" y2="1"><stop offset="0" stop-color="#96ff69"/><stop offset=".255" stop-color="#c2ff3d"/><stop offset=".283" stop-color="#f5ff0a"/><stop offset=".286" stop-color="#ff0"/><stop offset=".3" stop-color="#ffd100"/><stop offset=".341" stop-color="#ff8000"/><stop offset=".404" stop-color="#ff2c00"/><stop offset=".459" stop-color="#f00"/><stop offset=".605" stop-color="#dc0000"/><stop offset=".778" stop-color="#b30000"/><stop offset="1" stop-color="#9e0000"/></linearGradient><linearGradient id="g201" x2="0" y2="1"><stop offset="0" stop-color="#8fff70"/><stop offset=".309" stop-color="#c2ff3d"/><stop offset=".337" stop-color="#f5ff0a"/><stop offset=".337" stop-color="#ff0"/><stop offset=".338" stop-color="#ffd100"/><stop offset=".38" stop-color="#ff8000"/><stop offset=".442" stop-color="#ff2900"/><stop offset=".498" stop-color="#f00"/><stop offset=".644" stop-color="#d50000"/><stop offset=".778" stop-color="#b70000"/><stop offset="1" stop-color="#9e0000"/></linearGradient><linearGradient id="g202" x2="0" y2="1"><stop offset="0" stop-color="#8fff70"/><stop offset=".276" stop-color="#c2ff3d"/><stop offset=".304" stop-color="#f5ff0a"/><stop offset=".305" stop-color="#ff0"/><stop offset=".307" stop-color="#ffd100"/><stop offset=".344" stop-color="#ff8000"/><stop offset=".406" stop-color="#ff2900"/><stop offset=".462" stop-color="#f00"/><stop offset=".608" stop-color="#d00000"/><stop offset=".778" stop-color="#ab0000"/><stop offset="1" stop-color="#9e0000"/></linearGradient><linearGradient id="g203" x2="0" y2="1"><stop offset="0" stop-color="#8fff70"/><stop offset=".258" stop-color="#c2ff3d"/><stop offset=".286" stop-color="#f5ff0a"/><stop offset=".287" stop-color="#ff0"/><stop offset=".289" stop-color="#ffd100"/><stop offset=".326" stop-color="#ff8000"/><stop offset=".389" stop-color="#ff3600"/><stop offset=".445" stop-color="#f00"/><stop offset=".59" stop-color="#ce0000"/><stop offset=".778" stop-color="#b50000"/><stop offset="1" stop-color="#a10000"/></linearGradient><linearGradient id="g204" x2="0" y2="1"><stop offset="0" stop-color="#8fff70"/><stop offset=".272" stop-color="#c2ff3d"/><stop offset=".3" stop-color="#f5ff0a"/><stop offset=".3" stop-color="#ff0"/><stop offset=".303" stop-color="#ffd100"/><stop offset=".345" stop-color="#ff8000"/><stop offset=".407" stop-color="#ff2e00"/><stop offset=".463" stop-color="#f00"/><stop offset=".608" stop-color="#df0000"/><stop offset=".778" stop-color="#ad0000"/><stop offset="1" stop-color="#9e0000"/></linearGradient><linearGradient id="g205" x2="0" y2="1"><stop offset="0" stop-color="#8fff70"/><stop offset=".291" stop-color="#c2ff3d"/><stop offset=".319" stop-color="#f5ff0a"/><stop offset=".32" stop-color="#ff0"/><stop offset=".329" stop-color="#ffd100"/><stop offset=".371" stop-color="#ff8000"/><stop offset=".433" stop-color="#ff2e00"/><stop offset=".489" stop-color="#f00"/><stop offset=".635" stop-color="#e80000"/><stop offset=".778" stop-color="#a40000"/><stop offset="1" stop-color="#9e0000"/></linearGradient><linearGradient id="g206" x2="0" y2="1"><stop offset="0" stop-color="#8fff70"/><stop offset=".305" stop-color="#c2ff3d"/><stop offset=".332" stop-color="#f5ff0a"/><stop offset=".335" stop-color="#ff0"/><stop offset=".345" stop-color="#ffd100"/><stop offset=".387" stop-color="#ff8000"/><stop offset=".449" stop-color="#ff2600"/><stop offset=".505" stop-color="#f00"/><stop offset=".651" stop-color="#e50000"/><stop offset=".778" stop-color="#b30000"/><stop offset="1" stop-color="#9e0000"/></linearGradient><linearGradient id="g207" x2="0" y2="1"><stop offset="0" stop-color="#8fff70"/><stop offset=".292" stop-color="#c2ff3d"/><stop offset=".32" stop-color="#f5ff0a"/><stop offset=".322" stop-color="#ff0"/><stop offset=".332" stop-color="#ffd100"/><stop offset=".373" stop-color="#ff8000"/><stop offset=".436" stop-color="#ff2600"/><stop offset=".491" stop-color="#f00"/><stop offset=".637" stop-color="#df0000"/><stop offset=".778" stop-color="#ba0000"/><stop offset="1" stop-color="#9e0000"/></linearGradient><linearGradient id="g208" x2="0" y2="1"><stop offset="0" stop-color="#8fff70"/><stop offset=".289" stop-color="#c2ff3d"/><stop offset=".317" stop-color="#f5ff0a"/><stop offset=".319" stop-color="#ff0"/><stop offset=".329" stop-color="#ffd100"/><stop offset=".371" stop-color="#ff8000"/><stop offset=".433" stop-color="#ff3800"/><stop offset=".489" stop-color="#f00"/><stop offset=".635" stop-color="#e50000"/><stop offset=".778" stop-color="#ba0000"/><stop offset="1" stop-color="#a20000"/></linearGradient><linearGradient id="g209" x2="0" y2="1"><stop offset="0" stop-color="#8fff70"/><stop offset=".277" stop-color="#c2ff3d"/><stop offset=".305" stop-color="#f5ff0a"/><stop offset=".309" stop-color="#ff0"/><stop offset=".329" stop-color="#ffd100"/><stop offset=".37" stop-color="#ff8000"/><stop offset=".433" stop-color="#ff2800"/><stop offset=".489" stop-color="#f00"/><stop offset=".634" stop-color="#db0000"/><stop offset=".778" stop-color="#a00"/><stop offset="1" stop-color="#9f0000"/></linearGradient><linearGradient id="g210" x2="0" y2="1"><stop offset="0" stop-color="#a8ff57"/><stop offset=".263" stop-color="#c2ff3d"/><stop offset=".29" stop-color="#f5ff0a"/><stop offset=".293" stop-color="#ff0"/><stop offset=".303" stop-color="#ffd100"/><stop offset=".345" stop-color="#ff8000"/><stop offset=".407" stop-color="#ff2c00"/><stop offset=".463" stop-color="#f00"/><stop offset=".608" stop-color="#d90000"/><stop offset=".778" stop-color="#b90000"/><stop offset="1" stop-color="#b50000"/></linearGradient><linearGradient id="g211" x2="0" y2="1"><stop offset="0" stop-color="#c2ff3d"/><stop offset=".265" stop-color="#c2ff3d"/><stop offset=".293" stop-color="#f5ff0a"/><stop offset=".298" stop-color="#ff0"/><stop offset=".317" stop-color="#ffd100"/><stop offset=".358" stop-color="#ff8000"/><stop offset=".421" stop-color="#ff2600"/><stop offset=".476" stop-color="#f00"/><stop offset=".622" stop-color="#e30000"/><stop offset=".778" stop-color="#e30000"/><stop offset="1" stop-color="#e30000"/></linearGradient><linearGradient id="g212" x2="0" y2="1"><stop offset="0" stop-color="#c2ff3d"/><stop offset=".223" stop-color="#c2ff3d"/><stop offset=".251" stop-color="#f5ff0a"/><stop offset=".254" stop-color="#ff0"/><stop offset=".271" stop-color="#ffd100"/><stop offset=".313" stop-color="#ff8000"/><stop offset=".375" stop-color="#ff3400"/><stop offset=".431" stop-color="#ff1d00"/><stop offset=".577" stop-color="#ff1d00"/><stop offset=".778" stop-color="#ff1d00"/><stop offset="1" stop-color="#ff1d00"/></linearGradient><linearGradient id="g213" x2="0" y2="1"><stop offset="0" stop-color="#c2ff3d"/><stop offset=".23" stop-color="#c2ff3d"/><stop offset=".257" stop-color="#f5ff0a"/><stop offset=".266" stop-color="#ff0"/><stop offset=".303" stop-color="#ffd100"/><stop offset=".345" stop-color="#ff8000"/><stop offset=".407" stop-color="#ff6100"/><stop offset=".463" stop-color="#ff6100"/><stop offset=".609" stop-color="#ff6100"/><stop offset=".778" stop-color="#ff6100"/><stop offset="1" stop-color="#ff6100"/></linearGradient><linearGradient id="g214" x2="0" y2="1"><stop offset="0" stop-color="#c2ff3d"/><stop offset=".233" stop-color="#c2ff3d"/><stop offset=".261" stop-color="#f5ff0a"/><stop offset=".27" stop-color="#ff0"/><stop offset=".31" stop-color="#ffd100"/><stop offset=".352" stop-color="#ff8000"/><stop offset=".414" stop-color="#ff7200"/><stop offset=".47" stop-color="#ff7200"/><stop offset=".615" stop-color="#ff7200"/><stop offset=".778" stop-color="#ff7200"/><stop offset="1" stop-color="#ff7200"/></linearGradient><linearGradient id="g215" x2="0" y2="1"><stop offset="0" stop-color="#c2ff3d"/><stop offset=".192" stop-color="#c2ff3d"/><stop offset=".22" stop-color="#f5ff0a"/><stop offset=".228" stop-color="#ff0"/><stop offset=".266" stop-color="#ffd100"/><stop offset=".307" stop-color="#ff8300"/><stop offset=".37" stop-color="#ff8300"/><stop offset=".425" stop-color="#ff8300"/><stop offset=".571" stop-color="#ff8300"/><stop offset=".778" stop-color="#ff8300"/><stop offset="1" stop-color="#ff8300"/></linearGradient><linearGradient id="g216" x2="0" y2="1"><stop offset="0" stop-color="#c2ff3d"/><stop offset=".178" stop-color="#c2ff3d"/><stop offset=".206" stop-color="#f5ff0a"/><stop offset=".22" stop-color="#ff0"/><stop offset=".28" stop-color="#ffd100"/><stop offset=".322" stop-color="#ff9400"/><stop offset=".384" stop-color="#ff9400"/><stop offset=".44" stop-color="#ff9400"/><stop offset=".586" stop-color="#ff9400"/><stop offset=".778" stop-color="#ff9400"/><stop offset="1" stop-color="#ff9400"/></linearGradient><linearGradient id="g217" x2="0" y2="1"><stop offset="0" stop-color="#c2ff3d"/><stop offset=".155" stop-color="#c2ff3d"/><stop offset=".183" stop-color="#f5ff0a"/><stop offset=".199" stop-color="#ff0"/><stop offset=".272" stop-color="#ffd100"/><stop offset=".314" stop-color="#ff9700"/><stop offset=".376" stop-color="#ff9700"/><stop offset=".432" stop-color="#ff9700"/><stop offset=".578" stop-color="#ff9700"/><stop offset=".778" stop-color="#ff9700"/><stop offset="1" stop-color="#ff9700"/></linearGradient><linearGradient id="g218" x2="0" y2="1"><stop offset="0" stop-color="#c2ff3d"/><stop offset=".165" stop-color="#c2ff3d"/><stop offset=".193" stop-color="#f5ff0a"/><stop offset=".208" stop-color="#ff0"/><stop offset=".279" stop-color="#ffd100"/><stop offset=".32" stop-color="#ff9b00"/><stop offset=".383" stop-color="#ff9b00"/><stop offset=".438" stop-color="#ff9b00"/><stop offset=".584" stop-color="#ff9b00"/><stop offset=".778" stop-color="#ff9b00"/><stop offset="1" stop-color="#ff9b00"/></linearGradient><linearGradient id="g219" x2="0" y2="1"><stop offset="0" stop-color="#c2ff3d"/><stop offset=".192" stop-color="#c2ff3d"/><stop offset=".22" stop-color="#f5ff0a"/><stop offset=".234" stop-color="#ff0"/><stop offset=".295" stop-color="#ffd100"/><stop offset=".337" stop-color="#ff9e00"/><stop offset=".399" stop-color="#ff9e00"/><stop offset=".455" stop-color="#ff9e00"/><stop offset=".601" stop-color="#ff9e00"/><stop offset=".778" stop-color="#ff9e00"/><stop offset="1" stop-color="#ff9e00"/></linearGradient><linearGradient id="g220" x2="0" y2="1"><stop offset="0" stop-color="#b6ff49"/><stop offset=".227" stop-color="#c2ff3d"/><stop offset=".255" stop-color="#f5ff0a"/><stop offset=".267" stop-color="#ff0"/><stop offset=".323" stop-color="#ffd100"/><stop offset=".365" stop-color="#fa0"/><stop offset=".427" stop-color="#fa0"/><stop offset=".483" stop-color="#fa0"/><stop offset=".629" stop-color="#fa0"/><stop offset=".778" stop-color="#fa0"/><stop offset="1" stop-color="#fa0"/></linearGradient><linearGradient id="g221" x2="0" y2="1"><stop offset="0" stop-color="#abff54"/><stop offset=".255" stop-color="#c2ff3d"/><stop offset=".283" stop-color="#f5ff0a"/><stop offset=".296" stop-color="#ff0"/><stop offset=".354" stop-color="#ffd100"/><stop offset=".395" stop-color="#ffb500"/><stop offset=".458" stop-color="#ffb500"/><stop offset=".513" stop-color="#ffb500"/><stop offset=".659" stop-color="#ffb500"/><stop offset=".778" stop-color="#ffb500"/><stop offset="1" stop-color="#ffb500"/></linearGradient><linearGradient id="g222" x2="0" y2="1"><stop offset="0" stop-color="#9fff60"/><stop offset=".242" stop-color="#c2ff3d"/><stop offset=".27" stop-color="#f5ff0a"/><stop offset=".285" stop-color="#ff0"/><stop offset=".351" stop-color="#ffd100"/><stop offset=".393" stop-color="#ffc100"/><stop offset=".455" stop-color="#ffc100"/><stop offset=".511" stop-color="#ffc100"/><stop offset=".657" stop-color="#ffc100"/><stop offset=".778" stop-color="#ffc100"/><stop offset="1" stop-color="#ffc100"/></linearGradient><linearGradient id="g223" x2="0" y2="1"><stop offset="0" stop-color="#94ff6b"/><stop offset=".287" stop-color="#c2ff3d"/><stop offset=".314" stop-color="#f5ff0a"/><stop offset=".327" stop-color="#ff0"/><stop offset=".386" stop-color="#ffd100"/><stop offset=".427" stop-color="#ffc900"/><stop offset=".49" stop-color="#ffc900"/><stop offset=".545" stop-color="#ffc900"/><stop offset=".691" stop-color="#ffc900"/><stop offset=".778" stop-color="#ffc900"/><stop offset="1" stop-color="#ffc900"/></linearGradient><linearGradient id="g224" x2="0" y2="1"><stop offset="0" stop-color="#8dff72"/><stop offset=".283" stop-color="#c2ff3d"/><stop offset=".311" stop-color="#f5ff0a"/><stop offset=".322" stop-color="#ff0"/><stop offset=".373" stop-color="#ffd100"/><stop offset=".414" stop-color="#ffcd00"/><stop offset=".477" stop-color="#ffcd00"/><stop offset=".532" stop-color="#ffcd00"/><stop offset=".678" stop-color="#ffcd00"/><stop offset=".778" stop-color="#ffcd00"/><stop offset="1" stop-color="#ffcd00"/></linearGradient><linearGradient id="g225" x2="0" y2="1"><stop offset="0" stop-color="#86ff79"/><stop offset=".314" stop-color="#c2ff3d"/><stop offset=".342" stop-color="#f5ff0a"/><stop offset=".352" stop-color="#ff0"/><stop offset=".399" stop-color="#ffd100"/><stop offset=".441" stop-color="#ffd100"/><stop offset=".503" stop-color="#ffd100"/><stop offset=".559" stop-color="#ffd100"/><stop offset=".705" stop-color="#ffd100"/><stop offset=".778" stop-color="#ffd100"/><stop offset="1" stop-color="#ffd100"/></linearGradient><linearGradient id="g226" x2="0" y2="1"><stop offset="0" stop-color="#80ff80"/><stop offset=".328" stop-color="#c2ff3d"/><stop offset=".356" stop-color="#f5ff0a"/><stop offset=".368" stop-color="#ff0"/><stop offset=".418" stop-color="#ffd500"/><stop offset=".459" stop-color="#ffd500"/><stop offset=".522" stop-color="#ffd500"/><stop offset=".577" stop-color="#ffd500"/><stop offset=".723" stop-color="#ffd500"/><stop offset=".778" stop-color="#ffd500"/><stop offset="1" stop-color="#ffd500"/></linearGradient><linearGradient id="g227" x2="0" y2="1"><stop offset="0" stop-color="#79ff86"/><stop offset=".312" stop-color="#c2ff3d"/><stop offset=".34" stop-color="#f5ff0a"/><stop offset=".356" stop-color="#ff0"/><stop offset=".416" stop-color="#ffd900"/><stop offset=".457" stop-color="#ffd900"/><stop offset=".52" stop-color="#ffd900"/><stop offset=".575" stop-color="#ffd900"/><stop offset=".721" stop-color="#ffd900"/><stop offset=".778" stop-color="#ffd900"/><stop offset="1" stop-color="#ffd900"/></linearGradient><linearGradient id="g228" x2="0" y2="1"><stop offset="0" stop-color="#74ff8b"/><stop offset=".332" stop-color="#c2ff3d"/><stop offset=".36" stop-color="#f5ff0a"/><stop offset=".38" stop-color="#ff0"/><stop offset=".448" stop-color="#ffdb00"/><stop offset=".49" stop-color="#ffdb00"/><stop offset=".552" stop-color="#ffdb00"/><stop offset=".608" stop-color="#ffdb00"/><stop offset=".754" stop-color="#ffdb00"/><stop offset=".778" stop-color="#ffdb00"/><stop offset="1" stop-color="#ffdb00"/></linearGradient><linearGradient id="g229" x2="0" y2="1"><stop offset="0" stop-color="#71ff8e"/><stop offset=".333" stop-color="#c2ff3d"/><stop offset=".361" stop-color="#f5ff0a"/><stop offset=".378" stop-color="#ff0"/><stop offset=".436" stop-color="#ffdb00"/><stop offset=".478" stop-color="#ffdb00"/><stop offset=".54" stop-color="#ffdb00"/><stop offset=".596" stop-color="#ffdb00"/><stop offset=".742" stop-color="#ffdb00"/><stop offset=".778" stop-color="#ffdb00"/><stop offset="1" stop-color="#ffdb00"/></linearGradient><linearGradient id="g230" x2="0" y2="1"><stop offset="0" stop-color="#6eff91"/><stop offset=".315" stop-color="#c2ff3d"/><stop offset=".343" stop-color="#f5ff0a"/><stop offset=".36" stop-color="#ff0"/><stop offset=".422" stop-color="#ffdb00"/><stop offset=".464" stop-color="#ffdb00"/><stop offset=".526" stop-color="#ffdb00"/><stop offset=".582" stop-color="#ffdb00"/><stop offset=".727" stop-color="#ffdb00"/><stop offset=".778" stop-color="#ffdb00"/><stop offset="1" stop-color="#ffdb00"/></linearGradient><linearGradient id="g231" x2="0" y2="1"><stop offset="0" stop-color="#6cff93"/><stop offset=".31" stop-color="#c2ff3d"/><stop offset=".338" stop-color="#f5ff0a"/><stop offset=".356" stop-color="#ff0"/><stop offset=".421" stop-color="#ffdb00"/><stop offset=".463" stop-color="#ffdb00"/><stop offset=".525" stop-color="#ffdb00"/><stop offset=".581" stop-color="#ffdb00"/><stop offset=".727" stop-color="#ffdb00"/><stop offset=".778" stop-color="#ffdb00"/><stop offset="1" stop-color="#ffdb00"/></linearGradient><linearGradient id="g232" x2="0" y2="1"><stop offset="0" stop-color="#009eff"/><stop offset=".035" stop-color="#00b3ff"/><stop offset=".052" stop-color="#0ff"/><stop offset=".062" stop-color="#2effd1"/><stop offset=".097" stop-color="#4dffb2"/><stop offset=".132" stop-color="#80ff80"/><stop offset=".167" stop-color="#bdff42"/><stop offset=".17" stop-color="#c2ff3d"/><stop offset=".173" stop-color="#f5ff0a"/><stop offset=".181" stop-color="#ff0"/><stop offset=".216" stop-color="#ffd100"/><stop offset=".258" stop-color="#ff8000"/><stop offset=".32" stop-color="#ff3600"/><stop offset=".376" stop-color="#f00"/><stop offset=".522" stop-color="#cd0000"/><stop offset=".778" stop-color="#a20000"/><stop offset="1" stop-color="#9e0000"/></linearGradient><linearGradient id="g233" x2="0" y2="1"><stop offset="0" stop-color="#00ceff"/><stop offset=".035" stop-color="#00e2ff"/><stop offset=".045" stop-color="#0ff"/><stop offset=".062" stop-color="#2effd1"/><stop offset=".097" stop-color="#4dffb2"/><stop offset=".132" stop-color="#80ff80"/><stop offset=".167" stop-color="#bdff42"/><stop offset=".17" stop-color="#c2ff3d"/><stop offset=".174" stop-color="#f5ff0a"/><stop offset=".177" stop-color="#ff0"/><stop offset=".193" stop-color="#ffd100"/><stop offset=".234" stop-color="#ff8000"/><stop offset=".297" stop-color="#ff2700"/><stop offset=".352" stop-color="#f00"/><stop offset=".498" stop-color="#e40000"/><stop offset=".778" stop-color="#b90000"/><stop offset="1" stop-color="#9e0000"/></linearGradient><linearGradient id="g234" x2="0" y2="1"><stop offset="0" stop-color="#00e5ff"/><stop offset=".035" stop-color="#00faff"/><stop offset=".037" stop-color="#0ff"/><stop offset=".062" stop-color="#2effd1"/><stop offset=".097" stop-color="#4dffb2"/><stop offset=".132" stop-color="#80ff80"/><stop offset=".167" stop-color="#bdff42"/><stop offset=".17" stop-color="#c2ff3d"/><stop offset=".175" stop-color="#f5ff0a"/><stop offset=".18" stop-color="#ff0"/><stop offset=".205" stop-color="#ffd100"/><stop offset=".247" stop-color="#ff8000"/><stop offset=".309" stop-color="#ff2d00"/><stop offset=".365" stop-color="#f00"/><stop offset=".511" stop-color="#d00000"/><stop offset=".778" stop-color="#b00000"/><stop offset="1" stop-color="#a20000"/></linearGradient><linearGradient id="g235" x2="0" y2="1"><stop offset="0" stop-color="#00e5ff"/><stop offset=".035" stop-color="#00faff"/><stop offset=".037" stop-color="#0ff"/><stop offset=".062" stop-color="#2effd1"/><stop offset=".097" stop-color="#4dffb2"/><stop offset=".132" stop-color="#80ff80"/><stop offset=".167" stop-color="#bdff42"/><stop offset=".17" stop-color="#c2ff3d"/><stop offset=".176" stop-color="#f5ff0a"/><stop offset=".184" stop-color="#ff0"/><stop offset=".215" stop-color="#ffd100"/><stop offset=".257" stop-color="#ff8000"/><stop offset=".319" stop-color="#ff3400"/><stop offset=".375" stop-color="#f00"/><stop offset=".521" stop-color="#d00"/><stop offset=".778" stop-color="#b10000"/><stop offset="1" stop-color="#9e0000"/></linearGradient><linearGradient id="g236" x2="0" y2="1"><stop offset="0" stop-color="#00e5ff"/><stop offset=".035" stop-color="#00faff"/><stop offset=".037" stop-color="#0ff"/><stop offset=".062" stop-color="#2effd1"/><stop offset=".097" stop-color="#4dffb2"/><stop offset=".132" stop-color="#80ff80"/><stop offset=".167" stop-color="#bdff42"/><stop offset=".17" stop-color="#c2ff3d"/><stop offset=".186" stop-color="#f5ff0a"/><stop offset=".193" stop-color="#ff0"/><stop offset=".225" stop-color="#ffd100"/><stop offset=".266" stop-color="#ff8000"/><stop offset=".329" stop-color="#ff2e00"/><stop offset=".384" stop-color="#f00"/><stop offset=".53" stop-color="#e70000"/><stop offset=".778" stop-color="#b90000"/><stop offset="1" stop-color="#9e0000"/></linearGradient><linearGradient id="g237" x2="0" y2="1"><stop offset="0" stop-color="#00e5ff"/><stop offset=".035" stop-color="#00faff"/><stop offset=".037" stop-color="#0ff"/><stop offset=".062" stop-color="#2effd1"/><stop offset=".097" stop-color="#4dffb2"/><stop offset=".132" stop-color="#80ff80"/><stop offset=".167" stop-color="#bdff42"/><stop offset=".17" stop-color="#c2ff3d"/><stop offset=".178" stop-color="#f5ff0a"/><stop offset=".183" stop-color="#ff0"/><stop offset=".203" stop-color="#ffd100"/><stop offset=".245" stop-color="#ff8000"/><stop offset=".308" stop-color="#ff2800"/><stop offset=".363" stop-color="#f00"/><stop offset=".509" stop-color="#cf0000"/><stop offset=".778" stop-color="#bd0000"/><stop offset="1" stop-color="#9f0000"/></linearGradient><linearGradient id="g238" x2="0" y2="1"><stop offset="0" stop-color="#00faff"/><stop offset=".009" stop-color="#0ff"/><stop offset=".035" stop-color="#0ffff0"/><stop offset=".062" stop-color="#3dffc2"/><stop offset=".097" stop-color="#63ff9c"/><stop offset=".132" stop-color="#8cff73"/><stop offset=".167" stop-color="#bdff42"/><stop offset=".173" stop-color="#c2ff3d"/><stop offset=".201" stop-color="#f5ff0a"/><stop offset=".209" stop-color="#ff0"/><stop offset=".245" stop-color="#ffd100"/><stop offset=".287" stop-color="#ff8000"/><stop offset=".35" stop-color="#ff3700"/><stop offset=".405" stop-color="#f00"/><stop offset=".551" stop-color="#dc0000"/><stop offset=".778" stop-color="#ad0000"/><stop offset="1" stop-color="#9e0000"/></linearGradient><linearGradient id="g239" x2="0" y2="1"><stop offset="0" stop-color="#24ffdb"/><stop offset=".035" stop-color="#38ffc7"/><stop offset=".062" stop-color="#5cffa3"/><stop offset=".097" stop-color="#94ff6b"/><stop offset=".132" stop-color="#a6ff59"/><stop offset=".167" stop-color="#bdff42"/><stop offset=".17" stop-color="#c2ff3d"/><stop offset=".179" stop-color="#f5ff0a"/><stop offset=".185" stop-color="#ff0"/><stop offset=".217" stop-color="#ffd100"/><stop offset=".258" stop-color="#ff8000"/><stop offset=".321" stop-color="#ff2d00"/><stop offset=".376" stop-color="#f00"/><stop offset=".522" stop-color="#e30000"/><stop offset=".778" stop-color="#b80000"/><stop offset="1" stop-color="#9e0000"/></linearGradient><linearGradient id="g240" x2="0" y2="1"><stop offset="0" stop-color="#38ffc7"/><stop offset=".035" stop-color="#4dffb2"/><stop offset=".062" stop-color="#6bff94"/><stop offset=".097" stop-color="#b3ff4c"/><stop offset=".132" stop-color="#b3ff4c"/><stop offset=".167" stop-color="#bdff42"/><stop offset=".17" stop-color="#c2ff3d"/><stop offset=".176" stop-color="#f5ff0a"/><stop offset=".182" stop-color="#ff0"/><stop offset=".213" stop-color="#ffd100"/><stop offset=".255" stop-color="#ff8000"/><stop offset=".318" stop-color="#ff2b00"/><stop offset=".373" stop-color="#f00"/><stop offset=".519" stop-color="#d30000"/><stop offset=".778" stop-color="#a00"/><stop offset="1" stop-color="#9e0000"/></linearGradient><linearGradient id="g241" x2="0" y2="1"><stop offset="0" stop-color="#6bff94"/><stop offset=".035" stop-color="#80ff80"/><stop offset=".062" stop-color="#8dff72"/><stop offset=".097" stop-color="#d1ff2e"/><stop offset=".132" stop-color="#d1ff2e"/><stop offset=".167" stop-color="#d1ff2e"/><stop offset=".17" stop-color="#d1ff2e"/><stop offset=".177" stop-color="#f5ff0a"/><stop offset=".185" stop-color="#ff0"/><stop offset=".219" stop-color="#ffd100"/><stop offset=".26" stop-color="#ff8000"/><stop offset=".323" stop-color="#ff2700"/><stop offset=".378" stop-color="#f00"/><stop offset=".524" stop-color="#d40000"/><stop offset=".778" stop-color="#a80000"/><stop offset="1" stop-color="#9e0000"/></linearGradient><linearGradient id="g242" x2="0" y2="1"><stop offset="0" stop-color="#9eff61"/><stop offset=".035" stop-color="#b3ff4c"/><stop offset=".062" stop-color="#afff50"/><stop offset=".097" stop-color="#d1ff2e"/><stop offset=".132" stop-color="#d1ff2e"/><stop offset=".167" stop-color="#d1ff2e"/><stop offset=".178" stop-color="#d1ff2e"/><stop offset=".206" stop-color="#f5ff0a"/><stop offset=".215" stop-color="#ff0"/><stop offset=".257" stop-color="#ffd100"/><stop offset=".298" stop-color="#ff8000"/><stop offset=".361" stop-color="#ff3200"/><stop offset=".416" stop-color="#f00"/><stop offset=".562" stop-color="#e90000"/><stop offset=".778" stop-color="#bd0000"/><stop offset="1" stop-color="#9e0000"/></linearGradient><linearGradient id="g243" x2="0" y2="1"><stop offset="0" stop-color="#8aff75"/><stop offset=".202" stop-color="#c2ff3d"/><stop offset=".23" stop-color="#f5ff0a"/><stop offset=".242" stop-color="#ff0"/><stop offset=".295" stop-color="#ffd100"/><stop offset=".337" stop-color="#ff8000"/><stop offset=".399" stop-color="#ff2800"/><stop offset=".455" stop-color="#f00"/><stop offset=".601" stop-color="#da0000"/><stop offset=".778" stop-color="#ad0000"/><stop offset="1" stop-color="#9e0000"/></linearGradient><linearGradient id="g244" x2="0" y2="1"><stop offset="0" stop-color="#80ff80"/><stop offset=".201" stop-color="#c2ff3d"/><stop offset=".229" stop-color="#f5ff0a"/><stop offset=".242" stop-color="#ff0"/><stop offset=".303" stop-color="#ffd100"/><stop offset=".345" stop-color="#ff8000"/><stop offset=".408" stop-color="#ff2d00"/><stop offset=".463" stop-color="#f00"/><stop offset=".609" stop-color="#e30000"/><stop offset=".778" stop-color="#a40000"/><stop offset="1" stop-color="#9e0000"/></linearGradient><linearGradient id="g245" x2="0" y2="1"><stop offset="0" stop-color="#80ff80"/><stop offset=".223" stop-color="#c2ff3d"/><stop offset=".251" stop-color="#f5ff0a"/><stop offset=".261" stop-color="#ff0"/><stop offset=".307" stop-color="#ffd100"/><stop offset=".348" stop-color="#ff8000"/><stop offset=".411" stop-color="#ff3600"/><stop offset=".467" stop-color="#f00"/><stop offset=".612" stop-color="#eb0000"/><stop offset=".778" stop-color="#b00"/><stop offset="1" stop-color="#9e0000"/></linearGradient><linearGradient id="g246" x2="0" y2="1"><stop offset="0" stop-color="#80ff80"/><stop offset=".226" stop-color="#c2ff3d"/><stop offset=".253" stop-color="#f5ff0a"/><stop offset=".265" stop-color="#ff0"/><stop offset=".319" stop-color="#ffd100"/><stop offset=".36" stop-color="#ff8000"/><stop offset=".423" stop-color="#ff2700"/><stop offset=".478" stop-color="#f00"/><stop offset=".624" stop-color="#da0000"/><stop offset=".778" stop-color="#ac0000"/><stop offset="1" stop-color="#9e0000"/></linearGradient><linearGradient id="g247" x2="0" y2="1"><stop offset="0" stop-color="#80ff80"/><stop offset=".228" stop-color="#c2ff3d"/><stop offset=".256" stop-color="#f5ff0a"/><stop offset=".267" stop-color="#ff0"/><stop offset=".314" stop-color="#ffd100"/><stop offset=".356" stop-color="#ff8000"/><stop offset=".418" stop-color="#ff3100"/><stop offset=".474" stop-color="#f00"/><stop offset=".62" stop-color="#d90000"/><stop offset=".778" stop-color="#a30000"/><stop offset="1" stop-color="#9e0000"/></linearGradient><linearGradient id="g248" x2="0" y2="1"><stop offset="0" stop-color="#80ff80"/><stop offset=".218" stop-color="#c2ff3d"/><stop offset=".246" stop-color="#f5ff0a"/><stop offset=".256" stop-color="#ff0"/><stop offset=".302" stop-color="#ffd100"/><stop offset=".344" stop-color="#ff8000"/><stop offset=".407" stop-color="#ff2b00"/><stop offset=".462" stop-color="#f00"/><stop offset=".608" stop-color="#e10000"/><stop offset=".778" stop-color="#a40000"/><stop offset="1" stop-color="#9e0000"/></linearGradient><linearGradient id="g249" x2="0" y2="1"><stop offset="0" stop-color="#80ff80"/><stop offset=".231" stop-color="#c2ff3d"/><stop offset=".258" stop-color="#f5ff0a"/><stop offset=".268" stop-color="#ff0"/><stop offset=".314" stop-color="#ffd100"/><stop offset=".356" stop-color="#ff8000"/><stop offset=".418" stop-color="#ff2e00"/><stop offset=".474" stop-color="#f00"/><stop offset=".62" stop-color="#e10000"/><stop offset=".778" stop-color="#a30000"/><stop offset="1" stop-color="#9e0000"/></linearGradient><linearGradient id="g250" x2="0" y2="1"><stop offset="0" stop-color="#80ff80"/><stop offset=".219" stop-color="#c2ff3d"/><stop offset=".247" stop-color="#f5ff0a"/><stop offset=".255" stop-color="#ff0"/><stop offset=".295" stop-color="#ffd100"/><stop offset=".336" stop-color="#ff8000"/><stop offset=".399" stop-color="#ff2b00"/><stop offset=".454" stop-color="#f00"/><stop offset=".6" stop-color="#d30000"/><stop offset=".778" stop-color="#b70000"/><stop offset="1" stop-color="#9e0000"/></linearGradient><linearGradient id="g251" x2="0" y2="1"><stop offset="0" stop-color="#80ff80"/><stop offset=".22" stop-color="#c2ff3d"/><stop offset=".248" stop-color="#f5ff0a"/><stop offset=".257" stop-color="#ff0"/><stop offset=".299" stop-color="#ffd100"/><stop offset=".341" stop-color="#ff8000"/><stop offset=".403" stop-color="#ff2600"/><stop offset=".459" stop-color="#f00"/><stop offset=".604" stop-color="#e10000"/><stop offset=".778" stop-color="#ab0000"/><stop offset="1" stop-color="#9e0000"/></linearGradient><linearGradient id="g252" x2="0" y2="1"><stop offset="0" stop-color="#80ff80"/><stop offset=".188" stop-color="#c2ff3d"/><stop offset=".216" stop-color="#f5ff0a"/><stop offset=".226" stop-color="#ff0"/><stop offset=".273" stop-color="#ffd100"/><stop offset=".314" stop-color="#ff8000"/><stop offset=".377" stop-color="#ff3600"/><stop offset=".432" stop-color="#f00"/><stop offset=".578" stop-color="#e40000"/><stop offset=".778" stop-color="#b90000"/><stop offset="1" stop-color="#9e0000"/></linearGradient><linearGradient id="g253" x2="0" y2="1"><stop offset="0" stop-color="#80ff80"/><stop offset=".208" stop-color="#c2ff3d"/><stop offset=".236" stop-color="#f5ff0a"/><stop offset=".246" stop-color="#ff0"/><stop offset=".291" stop-color="#ffd100"/><stop offset=".333" stop-color="#ff8000"/><stop offset=".395" stop-color="#ff3700"/><stop offset=".451" stop-color="#f00"/><stop offset=".596" stop-color="#d90000"/><stop offset=".778" stop-color="#a90000"/><stop offset="1" stop-color="#9e0000"/></linearGradient><linearGradient id="g254" x2="0" y2="1"><stop offset="0" stop-color="#80ff80"/><stop offset=".183" stop-color="#c2ff3d"/><stop offset=".211" stop-color="#f5ff0a"/><stop offset=".22" stop-color="#ff0"/><stop offset=".262" stop-color="#ffd100"/><stop offset=".304" stop-color="#ff8000"/><stop offset=".366" stop-color="#ff2700"/><stop offset=".422" stop-color="#f00"/><stop offset=".568" stop-color="#e90000"/><stop offset=".778" stop-color="#a60000"/><stop offset="1" stop-color="#9e0000"/></linearGradient><linearGradient id="g255" x2="0" y2="1"><stop offset="0" stop-color="#80ff80"/><stop offset=".161" stop-color="#c2ff3d"/><stop offset=".189" stop-color="#f5ff0a"/><stop offset=".198" stop-color="#ff0"/><stop offset=".238" stop-color="#ffd100"/><stop offset=".28" stop-color="#ff8000"/><stop offset=".343" stop-color="#ff2b00"/><stop offset=".398" stop-color="#f00"/><stop offset=".544" stop-color="#d90000"/><stop offset=".778" stop-color="#a50000"/><stop offset="1" stop-color="#9e0000"/></linearGradient><linearGradient id="g256" x2="0" y2="1"><stop offset="0" stop-color="#80ff80"/><stop offset=".159" stop-color="#c2ff3d"/><stop offset=".187" stop-color="#f5ff0a"/><stop offset=".196" stop-color="#ff0"/><stop offset=".239" stop-color="#ffd100"/><stop offset=".28" stop-color="#ff8000"/><stop offset=".343" stop-color="#ff3700"/><stop offset=".399" stop-color="#f00"/><stop offset=".544" stop-color="#ea0000"/><stop offset=".778" stop-color="#a60000"/><stop offset="1" stop-color="#9e0000"/></linearGradient><linearGradient id="g257" x2="0" y2="1"><stop offset="0" stop-color="#80ff80"/><stop offset=".144" stop-color="#c2ff3d"/><stop offset=".171" stop-color="#f5ff0a"/><stop offset=".18" stop-color="#ff0"/><stop offset=".219" stop-color="#ffd100"/><stop offset=".26" stop-color="#ff8000"/><stop offset=".323" stop-color="#ff2500"/><stop offset=".378" stop-color="#f00"/><stop offset=".524" stop-color="#d10000"/><stop offset=".778" stop-color="#a00"/><stop offset="1" stop-color="#9e0000"/></linearGradient><linearGradient id="g258" x2="0" y2="1"><stop offset="0" stop-color="#80ff80"/><stop offset=".131" stop-color="#c2ff3d"/><stop offset=".159" stop-color="#f5ff0a"/><stop offset=".166" stop-color="#ff0"/><stop offset=".2" stop-color="#ffd100"/><stop offset=".241" stop-color="#ff8000"/><stop offset=".304" stop-color="#ff3500"/><stop offset=".359" stop-color="#f00"/><stop offset=".505" stop-color="#c00"/><stop offset=".778" stop-color="#a40000"/><stop offset="1" stop-color="#9e0000"/></linearGradient><linearGradient id="g259" x2="0" y2="1"><stop offset="0" stop-color="#80ff80"/><stop offset=".132" stop-color="#c2ff3d"/><stop offset=".159" stop-color="#f5ff0a"/><stop offset=".169" stop-color="#ff0"/><stop offset=".211" stop-color="#ffd100"/><stop offset=".252" stop-color="#ff8000"/><stop offset=".315" stop-color="#ff3800"/><stop offset=".37" stop-color="#f00"/><stop offset=".516" stop-color="#e60000"/><stop offset=".778" stop-color="#a10000"/><stop offset="1" stop-color="#9e0000"/></linearGradient><linearGradient id="g260" x2="0" y2="1"><stop offset="0" stop-color="#80ff80"/><stop offset=".149" stop-color="#c2ff3d"/><stop offset=".177" stop-color="#f5ff0a"/><stop offset=".184" stop-color="#ff0"/><stop offset=".215" stop-color="#ffd100"/><stop offset=".257" stop-color="#ff8000"/><stop offset=".319" stop-color="#ff2700"/><stop offset=".375" stop-color="#f00"/><stop offset=".521" stop-color="#de0000"/><stop offset=".778" stop-color="#a40000"/><stop offset="1" stop-color="#9e0000"/></linearGradient><linearGradient id="g261" x2="0" y2="1"><stop offset="0" stop-color="#80ff80"/><stop offset=".129" stop-color="#c2ff3d"/><stop offset=".157" stop-color="#f5ff0a"/><stop offset=".164" stop-color="#ff0"/><stop offset=".196" stop-color="#ffd100"/><stop offset=".238" stop-color="#ff8000"/><stop offset=".3" stop-color="#ff2f00"/><stop offset=".356" stop-color="#f00"/><stop offset=".502" stop-color="#dc0000"/><stop offset=".778" stop-color="#a30000"/><stop offset="1" stop-color="#9e0000"/></linearGradient><linearGradient id="g262" x2="0" y2="1"><stop offset="0" stop-color="#80ff80"/><stop offset=".116" stop-color="#c2ff3d"/><stop offset=".143" stop-color="#f5ff0a"/><stop offset=".15" stop-color="#ff0"/><stop offset=".181" stop-color="#ffd100"/><stop offset=".223" stop-color="#ff8000"/><stop offset=".285" stop-color="#f30"/><stop offset=".341" stop-color="#f00"/><stop offset=".487" stop-color="#e70000"/><stop offset=".778" stop-color="#b00"/><stop offset="1" stop-color="#9e0000"/></linearGradient><linearGradient id="g263" x2="0" y2="1"><stop offset="0" stop-color="#80ff80"/><stop offset=".116" stop-color="#c2ff3d"/><stop offset=".144" stop-color="#f5ff0a"/><stop offset=".151" stop-color="#ff0"/><stop offset=".182" stop-color="#ffd100"/><stop offset=".223" stop-color="#ff8000"/><stop offset=".286" stop-color="#ff2c00"/><stop offset=".341" stop-color="#f00"/><stop offset=".487" stop-color="#cd0000"/><stop offset=".778" stop-color="#ab0000"/><stop offset="1" stop-color="#9e0000"/></linearGradient><linearGradient id="g264" x2="0" y2="1"><stop offset="0" stop-color="#80ff80"/><stop offset=".12" stop-color="#c2ff3d"/><stop offset=".148" stop-color="#f5ff0a"/><stop offset=".154" stop-color="#ff0"/><stop offset=".184" stop-color="#ffd100"/><stop offset=".225" stop-color="#ff8000"/><stop offset=".288" stop-color="#ff3800"/><stop offset=".343" stop-color="#f00"/><stop offset=".489" stop-color="#da0000"/><stop offset=".778" stop-color="#bd0000"/><stop offset="1" stop-color="#9e0000"/></linearGradient><linearGradient id="g265" x2="0" y2="1"><stop offset="0" stop-color="#80ff80"/><stop offset=".113" stop-color="#c2ff3d"/><stop offset=".141" stop-color="#f5ff0a"/><stop offset=".144" stop-color="#ff0"/><stop offset=".161" stop-color="#ffd100"/><stop offset=".202" stop-color="#ff8000"/><stop offset=".265" stop-color="#ff3700"/><stop offset=".321" stop-color="#f00"/><stop offset=".466" stop-color="#ea0000"/><stop offset=".778" stop-color="#b00"/><stop offset="1" stop-color="#9e0000"/></linearGradient><linearGradient id="g266" x2="0" y2="1"><stop offset="0" stop-color="#80ff80"/><stop offset=".11" stop-color="#c2ff3d"/><stop offset=".138" stop-color="#f5ff0a"/><stop offset=".143" stop-color="#ff0"/><stop offset=".164" stop-color="#ffd100"/><stop offset=".206" stop-color="#ff8000"/><stop offset=".268" stop-color="#ff2b00"/><stop offset=".324" stop-color="#f00"/><stop offset=".469" stop-color="#e00000"/><stop offset=".778" stop-color="#bd0000"/><stop offset="1" stop-color="#9e0000"/></linearGradient><linearGradient id="g267" x2="0" y2="1"><stop offset="0" stop-color="#80ff80"/><stop offset=".143" stop-color="#c2ff3d"/><stop offset=".171" stop-color="#f5ff0a"/><stop offset=".175" stop-color="#ff0"/><stop offset=".197" stop-color="#ffd100"/><stop offset=".238" stop-color="#ff8000"/><stop offset=".301" stop-color="#ff2f00"/><stop offset=".356" stop-color="#f00"/><stop offset=".502" stop-color="#db0000"/><stop offset=".778" stop-color="#a00"/><stop offset="1" stop-color="#9e0000"/></linearGradient><linearGradient id="g268" x2="0" y2="1"><stop offset="0" stop-color="#8aff75"/><stop offset=".211" stop-color="#c2ff3d"/><stop offset=".239" stop-color="#f5ff0a"/><stop offset=".254" stop-color="#ff0"/><stop offset=".323" stop-color="#ffd100"/><stop offset=".364" stop-color="#ffb700"/><stop offset=".427" stop-color="#ffb700"/><stop offset=".482" stop-color="#ffb700"/><stop offset=".628" stop-color="#ffb700"/><stop offset=".778" stop-color="#ffb700"/><stop offset="1" stop-color="#ffb700"/></linearGradient><linearGradient id="g269" x2="0" y2="1"><stop offset="0" stop-color="#8aff75"/><stop offset=".229" stop-color="#c2ff3d"/><stop offset=".256" stop-color="#f5ff0a"/><stop offset=".277" stop-color="#ff0"/><stop offset=".371" stop-color="#ffd100"/><stop offset=".412" stop-color="#fb0"/><stop offset=".475" stop-color="#fb0"/><stop offset=".53" stop-color="#fb0"/><stop offset=".676" stop-color="#fb0"/><stop offset=".778" stop-color="#fb0"/><stop offset="1" stop-color="#fb0"/></linearGradient><linearGradient id="g270" x2="0" y2="1"><stop offset="0" stop-color="#8aff75"/><stop offset=".305" stop-color="#c2ff3d"/><stop offset=".333" stop-color="#f5ff0a"/><stop offset=".353" stop-color="#ff0"/><stop offset=".444" stop-color="#ffd100"/><stop offset=".486" stop-color="#ffbd00"/><stop offset=".548" stop-color="#ffbd00"/><stop offset=".604" stop-color="#ffbd00"/><stop offset=".75" stop-color="#ffbd00"/><stop offset=".778" stop-color="#ffbd00"/><stop offset="1" stop-color="#ffbd00"/></linearGradient><linearGradient id="g271" x2="0" y2="1"><stop offset="0" stop-color="#8fff70"/><stop offset=".379" stop-color="#c2ff3d"/><stop offset=".407" stop-color="#f5ff0a"/><stop offset=".421" stop-color="#ff0"/><stop offset=".486" stop-color="#ffd100"/><stop offset=".527" stop-color="#ffbd00"/><stop offset=".59" stop-color="#ffbd00"/><stop offset=".645" stop-color="#ffbd00"/><stop offset=".791" stop-color="#ffbd00"/><stop offset=".795" stop-color="#ffbd00"/><stop offset="1" stop-color="#ffbd00"/></linearGradient><linearGradient id="g272" x2="0" y2="1"><stop offset="0" stop-color="#9f6"/><stop offset=".453" stop-color="#c2ff3d"/><stop offset=".481" stop-color="#f5ff0a"/><stop offset=".49" stop-color="#ff0"/><stop offset=".531" stop-color="#ffd100"/><stop offset=".573" stop-color="#fb0"/><stop offset=".635" stop-color="#fb0"/><stop offset=".691" stop-color="#fb0"/><stop offset=".836" stop-color="#fb0"/><stop offset=".84" stop-color="#fb0"/><stop offset="1" stop-color="#fb0"/></linearGradient><linearGradient id="g273" x2="0" y2="1"><stop offset="0" stop-color="#9f6"/><stop offset=".473" stop-color="#c2ff3d"/><stop offset=".5" stop-color="#f5ff0a"/><stop offset=".511" stop-color="#ff0"/><stop offset=".557" stop-color="#ffd100"/><stop offset=".598" stop-color="#ffba00"/><stop offset=".661" stop-color="#ffba00"/><stop offset=".717" stop-color="#ffba00"/><stop offset=".862" stop-color="#ffba00"/><stop offset=".866" stop-color="#ffba00"/><stop offset="1" stop-color="#ffba00"/></linearGradient><linearGradient id="g274" x2="0" y2="1"><stop offset="0" stop-color="#9f6"/><stop offset=".449" stop-color="#c2ff3d"/><stop offset=".477" stop-color="#f5ff0a"/><stop offset=".485" stop-color="#ff0"/><stop offset=".524" stop-color="#ffd100"/><stop offset=".565" stop-color="#ffb900"/><stop offset=".628" stop-color="#ffb900"/><stop offset=".683" stop-color="#ffb900"/><stop offset=".829" stop-color="#ffb900"/><stop offset=".833" stop-color="#ffb900"/><stop offset="1" stop-color="#ffb900"/></linearGradient><linearGradient id="g275" x2="0" y2="1"><stop offset="0" stop-color="#9f6"/><stop offset=".474" stop-color="#c2ff3d"/><stop offset=".502" stop-color="#f5ff0a"/><stop offset=".511" stop-color="#ff0"/><stop offset=".553" stop-color="#ffd100"/><stop offset=".595" stop-color="#ffb700"/><stop offset=".658" stop-color="#ffb700"/><stop offset=".713" stop-color="#ffb700"/><stop offset=".859" stop-color="#ffb700"/><stop offset=".862" stop-color="#ffb700"/><stop offset="1" stop-color="#ffb700"/></linearGradient><linearGradient id="g276" x2="0" y2="1"><stop offset="0" stop-color="#9f6"/><stop offset=".464" stop-color="#c2ff3d"/><stop offset=".492" stop-color="#f5ff0a"/><stop offset=".499" stop-color="#ff0"/><stop offset=".53" stop-color="#ffd100"/><stop offset=".572" stop-color="#ffb600"/><stop offset=".635" stop-color="#ffb600"/><stop offset=".69" stop-color="#ffb600"/><stop offset=".836" stop-color="#ffb600"/><stop offset=".839" stop-color="#ffb600"/><stop offset="1" stop-color="#ffb600"/></linearGradient><linearGradient id="g277" x2="0" y2="1"><stop offset="0" stop-color="#9f6"/><stop offset=".482" stop-color="#c2ff3d"/><stop offset=".51" stop-color="#f5ff0a"/><stop offset=".519" stop-color="#ff0"/><stop offset=".56" stop-color="#ffd100"/><stop offset=".602" stop-color="#ffb500"/><stop offset=".665" stop-color="#ffb500"/><stop offset=".72" stop-color="#ffb500"/><stop offset=".866" stop-color="#ffb500"/><stop offset=".869" stop-color="#ffb500"/><stop offset="1" stop-color="#ffb500"/></linearGradient><linearGradient id="g278" x2="0" y2="1"><stop offset="0" stop-color="#9f6"/><stop offset=".46" stop-color="#c2ff3d"/><stop offset=".488" stop-color="#f5ff0a"/><stop offset=".499" stop-color="#ff0"/><stop offset=".551" stop-color="#ffd100"/><stop offset=".593" stop-color="#ffb300"/><stop offset=".655" stop-color="#ffb300"/><stop offset=".711" stop-color="#ffb300"/><stop offset=".857" stop-color="#ffb300"/><stop offset=".86" stop-color="#ffb300"/><stop offset="1" stop-color="#ffb300"/></linearGradient><linearGradient id="g279" x2="0" y2="1"><stop offset="0" stop-color="#9f6"/><stop offset=".451" stop-color="#c2ff3d"/><stop offset=".479" stop-color="#f5ff0a"/><stop offset=".488" stop-color="#ff0"/><stop offset=".532" stop-color="#ffd100"/><stop offset=".574" stop-color="#ff9100"/><stop offset=".636" stop-color="#ff9100"/><stop offset=".692" stop-color="#ff9100"/><stop offset=".838" stop-color="#ff9100"/><stop offset=".841" stop-color="#ff9100"/><stop offset="1" stop-color="#ff9100"/></linearGradient><linearGradient id="g280" x2="0" y2="1"><stop offset="0" stop-color="#9f6"/><stop offset=".425" stop-color="#c2ff3d"/><stop offset=".452" stop-color="#f5ff0a"/><stop offset=".463" stop-color="#ff0"/><stop offset=".511" stop-color="#ffd100"/><stop offset=".552" stop-color="#ff8000"/><stop offset=".615" stop-color="#ff4c00"/><stop offset=".67" stop-color="#ff4c00"/><stop offset=".816" stop-color="#ff4c00"/><stop offset=".82" stop-color="#ff4c00"/><stop offset="1" stop-color="#ff4c00"/></linearGradient><linearGradient id="g281" x2="0" y2="1"><stop offset="0" stop-color="#9f6"/><stop offset=".428" stop-color="#c2ff3d"/><stop offset=".456" stop-color="#f5ff0a"/><stop offset=".467" stop-color="#ff0"/><stop offset=".515" stop-color="#ffd100"/><stop offset=".557" stop-color="#ff8000"/><stop offset=".619" stop-color="#ff4600"/><stop offset=".675" stop-color="#ff4600"/><stop offset=".821" stop-color="#ff4600"/><stop offset=".824" stop-color="#ff4600"/><stop offset="1" stop-color="#ff4600"/></linearGradient><linearGradient id="g282" x2="0" y2="1"><stop offset="0" stop-color="#9f6"/><stop offset=".433" stop-color="#c2ff3d"/><stop offset=".461" stop-color="#f5ff0a"/><stop offset=".468" stop-color="#ff0"/><stop offset=".503" stop-color="#ffd100"/><stop offset=".544" stop-color="#ff8000"/><stop offset=".607" stop-color="#ff3f00"/><stop offset=".662" stop-color="#ff3f00"/><stop offset=".808" stop-color="#ff3f00"/><stop offset=".812" stop-color="#ff3f00"/><stop offset="1" stop-color="#ff3f00"/></linearGradient><linearGradient id="g283" x2="0" y2="1"><stop offset="0" stop-color="#9f6"/><stop offset=".416" stop-color="#c2ff3d"/><stop offset=".444" stop-color="#f5ff0a"/><stop offset=".454" stop-color="#ff0"/><stop offset=".499" stop-color="#ffd100"/><stop offset=".541" stop-color="#ff8000"/><stop offset=".604" stop-color="#ff3800"/><stop offset=".659" stop-color="#ff3800"/><stop offset=".805" stop-color="#ff3800"/><stop offset=".808" stop-color="#ff3800"/><stop offset="1" stop-color="#ff3800"/></linearGradient><linearGradient id="g284" x2="0" y2="1"><stop offset="0" stop-color="#9f6"/><stop offset=".429" stop-color="#c2ff3d"/><stop offset=".456" stop-color="#f5ff0a"/><stop offset=".462" stop-color="#ff0"/><stop offset=".49" stop-color="#ffd100"/><stop offset=".531" stop-color="#ff8000"/><stop offset=".594" stop-color="#ff3100"/><stop offset=".649" stop-color="#ff3100"/><stop offset=".795" stop-color="#ff3100"/><stop offset=".799" stop-color="#ff3100"/><stop offset="1" stop-color="#ff3100"/></linearGradient><linearGradient id="g285" x2="0" y2="1"><stop offset="0" stop-color="#9f6"/><stop offset=".436" stop-color="#c2ff3d"/><stop offset=".464" stop-color="#f5ff0a"/><stop offset=".472" stop-color="#ff0"/><stop offset=".509" stop-color="#ffd100"/><stop offset=".551" stop-color="#ff8000"/><stop offset=".613" stop-color="#ff3700"/><stop offset=".669" stop-color="#ff2b00"/><stop offset=".815" stop-color="#ff2b00"/><stop offset=".818" stop-color="#ff2b00"/><stop offset="1" stop-color="#ff2b00"/></linearGradient><linearGradient id="g286" x2="0" y2="1"><stop offset="0" stop-color="#9f6"/><stop offset=".427" stop-color="#c2ff3d"/><stop offset=".455" stop-color="#f5ff0a"/><stop offset=".459" stop-color="#ff0"/><stop offset=".474" stop-color="#ffd100"/><stop offset=".516" stop-color="#ff8000"/><stop offset=".578" stop-color="#ff3000"/><stop offset=".634" stop-color="#ff2400"/><stop offset=".78" stop-color="#ff2400"/><stop offset=".783" stop-color="#ff2400"/><stop offset="1" stop-color="#ff2400"/></linearGradient><linearGradient id="g287" x2="0" y2="1"><stop offset="0" stop-color="#9f6"/><stop offset=".404" stop-color="#c2ff3d"/><stop offset=".432" stop-color="#f5ff0a"/><stop offset=".435" stop-color="#ff0"/><stop offset=".45" stop-color="#ffd100"/><stop offset=".491" stop-color="#ff8000"/><stop offset=".554" stop-color="#ff3000"/><stop offset=".609" stop-color="#ff0800"/><stop offset=".755" stop-color="#ff0800"/><stop offset=".778" stop-color="#ff0800"/><stop offset="1" stop-color="#ff0800"/></linearGradient><linearGradient id="g288" x2="0" y2="1"><stop offset="0" stop-color="#9f6"/><stop offset=".428" stop-color="#c2ff3d"/><stop offset=".455" stop-color="#f5ff0a"/><stop offset=".459" stop-color="#ff0"/><stop offset=".475" stop-color="#ffd100"/><stop offset=".517" stop-color="#ff8000"/><stop offset=".579" stop-color="#ff2900"/><stop offset=".635" stop-color="#f00"/><stop offset=".781" stop-color="#ec0000"/><stop offset=".784" stop-color="#ec0000"/><stop offset="1" stop-color="#ec0000"/></linearGradient><linearGradient id="g289" x2="0" y2="1"><stop offset="0" stop-color="#9f6"/><stop offset=".4" stop-color="#c2ff3d"/><stop offset=".428" stop-color="#f5ff0a"/><stop offset=".431" stop-color="#ff0"/><stop offset=".445" stop-color="#ffd100"/><stop offset=".487" stop-color="#ff8000"/><stop offset=".549" stop-color="#f30"/><stop offset=".605" stop-color="#f00"/><stop offset=".751" stop-color="#d10000"/><stop offset=".778" stop-color="#d10000"/><stop offset="1" stop-color="#d10000"/></linearGradient><linearGradient id="g290" x2="0" y2="1"><stop offset="0" stop-color="#9f6"/><stop offset=".394" stop-color="#c2ff3d"/><stop offset=".422" stop-color="#f5ff0a"/><stop offset=".427" stop-color="#ff0"/><stop offset=".45" stop-color="#ffd100"/><stop offset=".491" stop-color="#ff8000"/><stop offset=".554" stop-color="#ff3500"/><stop offset=".609" stop-color="#f00"/><stop offset=".755" stop-color="#de0000"/><stop offset=".778" stop-color="#c60000"/><stop offset="1" stop-color="#c60000"/></linearGradient><linearGradient id="g291" x2="0" y2="1"><stop offset="0" stop-color="#9f6"/><stop offset=".384" stop-color="#c2ff3d"/><stop offset=".412" stop-color="#f5ff0a"/><stop offset=".416" stop-color="#ff0"/><stop offset=".434" stop-color="#ffd100"/><stop offset=".475" stop-color="#ff8000"/><stop offset=".538" stop-color="#ff2800"/><stop offset=".594" stop-color="#f00"/><stop offset=".739" stop-color="#d40000"/><stop offset=".778" stop-color="#ba0000"/><stop offset="1" stop-color="#ba0000"/></linearGradient><linearGradient id="g292" x2="0" y2="1"><stop offset="0" stop-color="#9f6"/><stop offset=".385" stop-color="#c2ff3d"/><stop offset=".413" stop-color="#f5ff0a"/><stop offset=".416" stop-color="#ff0"/><stop offset=".426" stop-color="#ffd100"/><stop offset=".467" stop-color="#ff8000"/><stop offset=".53" stop-color="#ff3500"/><stop offset=".585" stop-color="#f00"/><stop offset=".731" stop-color="#ce0000"/><stop offset=".778" stop-color="#b60000"/><stop offset="1" stop-color="#af0000"/></linearGradient><linearGradient id="g293" x2="0" y2="1"><stop offset="0" stop-color="#9f6"/><stop offset=".368" stop-color="#c2ff3d"/><stop offset=".396" stop-color="#f5ff0a"/><stop offset=".399" stop-color="#ff0"/><stop offset=".412" stop-color="#ffd100"/><stop offset=".454" stop-color="#ff8000"/><stop offset=".516" stop-color="#ff2e00"/><stop offset=".572" stop-color="#f00"/><stop offset=".718" stop-color="#e30000"/><stop offset=".778" stop-color="#b20000"/><stop offset="1" stop-color="#a40000"/></linearGradient><linearGradient id="g294" x2="0" y2="1"><stop offset="0" stop-color="#9f6"/><stop offset=".361" stop-color="#c2ff3d"/><stop offset=".388" stop-color="#f5ff0a"/><stop offset=".39" stop-color="#ff0"/><stop offset=".4" stop-color="#ffd100"/><stop offset=".442" stop-color="#ff8000"/><stop offset=".504" stop-color="#ff3200"/><stop offset=".56" stop-color="#f00"/><stop offset=".705" stop-color="#e50000"/><stop offset=".778" stop-color="#b00"/><stop offset="1" stop-color="#9e0000"/></linearGradient><linearGradient id="g295" x2="0" y2="1"><stop offset="0" stop-color="#9f6"/><stop offset=".342" stop-color="#c2ff3d"/><stop offset=".37" stop-color="#f5ff0a"/><stop offset=".371" stop-color="#ff0"/><stop offset=".378" stop-color="#ffd100"/><stop offset=".42" stop-color="#ff8000"/><stop offset=".482" stop-color="#ff3700"/><stop offset=".538" stop-color="#f00"/><stop offset=".683" stop-color="#de0000"/><stop offset=".778" stop-color="#b50000"/><stop offset="1" stop-color="#9e0000"/></linearGradient><linearGradient id="g296" x2="0" y2="1"><stop offset="0" stop-color="#9f6"/><stop offset=".315" stop-color="#c2ff3d"/><stop offset=".343" stop-color="#f5ff0a"/><stop offset=".347" stop-color="#ff0"/><stop offset=".365" stop-color="#ffd100"/><stop offset=".407" stop-color="#ff8000"/><stop offset=".469" stop-color="#ff3800"/><stop offset=".525" stop-color="#f00"/><stop offset=".671" stop-color="#dc0000"/><stop offset=".778" stop-color="#af0000"/><stop offset="1" stop-color="#9e0000"/></linearGradient><linearGradient id="g297" x2="0" y2="1"><stop offset="0" stop-color="#9f6"/><stop offset=".302" stop-color="#c2ff3d"/><stop offset=".33" stop-color="#f5ff0a"/><stop offset=".334" stop-color="#ff0"/><stop offset=".352" stop-color="#ffd100"/><stop offset=".394" stop-color="#ff8000"/><stop offset=".457" stop-color="#ff2d00"/><stop offset=".512" stop-color="#f00"/><stop offset=".658" stop-color="#dc0000"/><stop offset=".778" stop-color="#b00000"/><stop offset="1" stop-color="#9e0000"/></linearGradient><linearGradient id="g298" x2="0" y2="1"><stop offset="0" stop-color="#9f6"/><stop offset=".308" stop-color="#c2ff3d"/><stop offset=".336" stop-color="#f5ff0a"/><stop offset=".339" stop-color="#ff0"/><stop offset=".355" stop-color="#ffd100"/><stop offset=".396" stop-color="#ff8000"/><stop offset=".459" stop-color="#ff3600"/><stop offset=".514" stop-color="#f00"/><stop offset=".66" stop-color="#e00000"/><stop offset=".778" stop-color="#a60000"/><stop offset="1" stop-color="#9e0000"/></linearGradient><linearGradient id="g299" x2="0" y2="1"><stop offset="0" stop-color="#9f6"/><stop offset=".291" stop-color="#c2ff3d"/><stop offset=".319" stop-color="#f5ff0a"/><stop offset=".321" stop-color="#ff0"/><stop offset=".33" stop-color="#ffd100"/><stop offset=".372" stop-color="#ff8000"/><stop offset=".434" stop-color="#ff3500"/><stop offset=".49" stop-color="#f00"/><stop offset=".635" stop-color="#d30000"/><stop offset=".778" stop-color="#a80000"/><stop offset="1" stop-color="#9e0000"/></linearGradient><linearGradient id="g300" x2="0" y2="1"><stop offset="0" stop-color="#9f6"/><stop offset=".282" stop-color="#c2ff3d"/><stop offset=".31" stop-color="#f5ff0a"/><stop offset=".312" stop-color="#ff0"/><stop offset=".32" stop-color="#ffd100"/><stop offset=".361" stop-color="#ff8000"/><stop offset=".424" stop-color="#ff2500"/><stop offset=".479" stop-color="#f00"/><stop offset=".625" stop-color="#e90000"/><stop offset=".778" stop-color="#ab0000"/><stop offset="1" stop-color="#9e0000"/></linearGradient><linearGradient id="g301" x2="0" y2="1"><stop offset="0" stop-color="#6bff94"/><stop offset=".341" stop-color="#c2ff3d"/><stop offset=".369" stop-color="#f5ff0a"/><stop offset=".388" stop-color="#ff0"/><stop offset=".453" stop-color="#ffdb00"/><stop offset=".494" stop-color="#ffdb00"/><stop offset=".557" stop-color="#ffdb00"/><stop offset=".612" stop-color="#ffdb00"/><stop offset=".758" stop-color="#ffdb00"/><stop offset=".778" stop-color="#ffdb00"/><stop offset="1" stop-color="#ffdb00"/></linearGradient>
<clipPath id="c1"><polygon points="79,39 542,39 542,86 540,95 536,96.5 532,97.5 526,100 522,109 519,117.6 516,126 511.8,135 509,143.6 507.5,149 505,155 505,182 343.2,182 340.3,177.6 334.6,173.3 330.3,167.5 327.4,163 323.8,156 320.9,148.8 315.9,134.4 311.6,130 305,122 303.3,116.6 300.5,112 294.4,107.7 291.6,102 285.5,91 283.9,80 283.5,75 283,54 282.2,54 281.5,75 279,82 278,84.3 274.6,75.5 272,66.6 270.5,56.8 269.3,66.6 267.5,75.5 263,84.3 256,87.9 249.8,93.2 248,95 245,110 242,116 238,122 233,128 228,134 225,142 222,150 220,153 218.4,155 218.4,182 123.5,182 123.5,160 121,147.5 119.75,135 116,122.5 113.5,111 106,103.5 96,93.5 89,81 86,76 82,70 79,66 79,66"/></clipPath>
<clipPath id="c2"><polygon points="77,251 542.7,251 542.7,299 540,308 536,309.5 532,310.5 526,313 522,322 519,330.6 516,339 511.8,348 509,356.6 507.5,362 505,368 505,392 342.8,392 337,385.5 333.4,380 326.8,372.3 320.2,364.7 317.4,357 313.6,347.7 307,334.5 299.4,325 292,315.7 285.5,304 283.9,293 283.5,288 283,267 282.2,267 281.5,288 279,295 278,297.3 274.6,288.5 272,279.6 270.5,269.8 269.3,279.6 267.5,288.5 263,297.3 256,300.9 249.8,306.2 248,308 245,323 242,329 238,335 233,341 228,347 225,355 222,363 220,366 218.4,368 218.4,392 123,392 122.5,380 121.75,372 120,360 118.5,347 115,335 111,322 110,320.5 103.5,310.5 91,298 82,285.5 78,280 77,280 77,280"/></clipPath>
</defs>
<g fill="#000"><path d="M85 75h1v1h-1zM90 75h1v1h-1zM95 75h1v1h-1zM100 75h1v1h-1zM105 75h1v1h-1zM110 75h1v1h-1zM115 75h1v1h-1zM120 75h1v1h-1zM125 75h1v1h-1zM130 75h1v1h-1zM135 75h1v1h-1zM140 75h1v1h-1zM145 75h1v1h-1zM150 75h1v1h-1zM155 75h1v1h-1zM160 75h1v1h-1zM165 75h1v1h-1zM170 75h1v1h-1zM175 75h1v1h-1zM180 75h1v1h-1zM185 75h1v1h-1zM190 75h1v1h-1zM195 75h1v1h-1zM200 75h1v1h-1zM205 75h1v1h-1zM210 75h1v1h-1zM215 75h1v1h-1zM220 75h1v1h-1zM225 75h1v1h-1zM230 75h1v1h-1zM235 75h1v1h-1zM240 75h1v1h-1zM245 75h1v1h-1zM250 75h1v1h-1zM255 75h1v1h-1zM260 75h1v1h-1zM265 75h1v1h-1zM270 75h1v1h-1zM275 75h1v1h-1zM280 75h1v1h-1zM285 75h1v1h-1zM290 75h1v1h-1zM295 75h1v1h-1zM300 75h1v1h-1zM305 75h1v1h-1zM310 75h1v1h-1zM315 75h1v1h-1zM320 75h1v1h-1zM325 75h1v1h-1zM330 75h1v1h-1zM335 75h1v1h-1zM340 75h1v1h-1zM345 75h1v1h-1zM350 75h1v1h-1zM355 75h1v1h-1zM360 75h1v1h-1zM365 75h1v1h-1zM370 75h1v1h-1zM375 75h1v1h-1zM380 75h1v1h-1zM385 75h1v1h-1zM390 75h1v1h-1zM395 75h1v1h-1zM400 75h1v1h-1zM405 75h1v1h-1zM410 75h1v1h-1zM415 75h1v1h-1zM420 75h1v1h-1zM425 75h1v1h-1zM430 75h1v1h-1zM435 75h1v1h-1zM440 75h1v1h-1zM445 75h1v1h-1zM450 75h1v1h-1zM455 75h1v1h-1zM460 75h1v1h-1zM465 75h1v1h-1zM470 75h1v1h-1zM475 75h1v1h-1zM480 75h1v1h-1zM485 75h1v1h-1zM490 75h1v1h-1zM495 75h1v1h-1zM500 75h1v1h-1zM505 75h1v1h-1zM510 75h1v1h-1zM515 75h1v1h-1zM520 75h1v1h-1zM525 75h1v1h-1zM530 75h1v1h-1zM535 75h1v1h-1zM540 75h1v1h-1zM85 112h1v1h-1zM90 112h1v1h-1zM95 112h1v1h-1zM100 112h1v1h-1zM105 112h1v1h-1zM110 112h1v1h-1zM115 112h1v1h-1zM120 112h1v1h-1zM125 112h1v1h-1zM130 112h1v1h-1zM135 112h1v1h-1zM140 112h1v1h-1zM145 112h1v1h-1zM150 112h1v1h-1zM155 112h1v1h-1zM160 112h1v1h-1zM165 112h1v1h-1zM170 112h1v1h-1zM175 112h1v1h-1zM180 112h1v1h-1zM185 112h1v1h-1zM190 112h1v1h-1zM195 112h1v1h-1zM200 112h1v1h-1zM205 112h1v1h-1zM210 112h1v1h-1zM215 112h1v1h-1zM220 112h1v1h-1zM225 112h1v1h-1zM230 112h1v1h-1zM235 112h1v1h-1zM240 112h1v1h-1zM245 112h1v1h-1zM250 112h1v1h-1zM255 112h1v1h-1zM260 112h1v1h-1zM265 112h1v1h-1zM270 112h1v1h-1zM275 112h1v1h-1zM280 112h1v1h-1zM285 112h1v1h-1zM290 112h1v1h-1zM295 112h1v1h-1zM300 112h1v1h-1zM305 112h1v1h-1zM310 112h1v1h-1zM315 112h1v1h-1zM320 112h1v1h-1zM325 112h1v1h-1zM330 112h1v1h-1zM335 112h1v1h-1zM340 112h1v1h-1zM345 112h1v1h-1zM350 112h1v1h-1zM355 112h1v1h-1zM360 112h1v1h-1zM365 112h1v1h-1zM370 112h1v1h-1zM375 112h1v1h-1zM380 112h1v1h-1zM385 112h1v1h-1zM390 112h1v1h-1zM395 112h1v1h-1zM400 112h1v1h-1zM405 112h1v1h-1zM410 112h1v1h-1zM415 112h1v1h-1zM420 112h1v1h-1zM425 112h1v1h-1zM430 112h1v1h-1zM435 112h1v1h-1zM440 112h1v1h-1zM445 112h1v1h-1zM450 112h1v1h-1zM455 112h1v1h-1zM460 112h1v1h-1zM465 112h1v1h-1zM470 112h1v1h-1zM475 112h1v1h-1zM480 112h1v1h-1zM485 112h1v1h-1zM490 112h1v1h-1zM495 112h1v1h-1zM500 112h1v1h-1zM505 112h1v1h-1zM510 112h1v1h-1zM515 112h1v1h-1zM520 112h1v1h-1zM525 112h1v1h-1zM530 112h1v1h-1zM535 112h1v1h-1zM540 112h1v1h-1zM85 149h1v1h-1zM90 149h1v1h-1zM95 149h1v1h-1zM100 149h1v1h-1zM105 149h1v1h-1zM110 149h1v1h-1zM115 149h1v1h-1zM120 149h1v1h-1zM125 149h1v1h-1zM130 149h1v1h-1zM135 149h1v1h-1zM140 149h1v1h-1zM145 149h1v1h-1zM150 149h1v1h-1zM155 149h1v1h-1zM160 149h1v1h-1zM165 149h1v1h-1zM170 149h1v1h-1zM175 149h1v1h-1zM180 149h1v1h-1zM185 149h1v1h-1zM190 149h1v1h-1zM195 149h1v1h-1zM200 149h1v1h-1zM205 149h1v1h-1zM210 149h1v1h-1zM215 149h1v1h-1zM220 149h1v1h-1zM225 149h1v1h-1zM230 149h1v1h-1zM235 149h1v1h-1zM240 149h1v1h-1zM245 149h1v1h-1zM250 149h1v1h-1zM255 149h1v1h-1zM260 149h1v1h-1zM265 149h1v1h-1zM270 149h1v1h-1zM275 149h1v1h-1zM280 149h1v1h-1zM285 149h1v1h-1zM290 149h1v1h-1zM295 149h1v1h-1zM300 149h1v1h-1zM305 149h1v1h-1zM310 149h1v1h-1zM315 149h1v1h-1zM320 149h1v1h-1zM325 149h1v1h-1zM330 149h1v1h-1zM335 149h1v1h-1zM340 149h1v1h-1zM345 149h1v1h-1zM350 149h1v1h-1zM355 149h1v1h-1zM360 149h1v1h-1zM365 149h1v1h-1zM370 149h1v1h-1zM375 149h1v1h-1zM380 149h1v1h-1zM385 149h1v1h-1zM390 149h1v1h-1zM395 149h1v1h-1zM400 149h1v1h-1zM405 149h1v1h-1zM410 149h1v1h-1zM415 149h1v1h-1zM420 149h1v1h-1zM425 149h1v1h-1zM430 149h1v1h-1zM435 149h1v1h-1zM440 149h1v1h-1zM445 149h1v1h-1zM450 149h1v1h-1zM455 149h1v1h-1zM460 149h1v1h-1zM465 149h1v1h-1zM470 149h1v1h-1zM475 149h1v1h-1zM480 149h1v1h-1zM485 149h1v1h-1zM490 149h1v1h-1zM495 149h1v1h-1zM500 149h1v1h-1zM505 149h1v1h-1zM510 149h1v1h-1zM515 149h1v1h-1zM520 149h1v1h-1zM525 149h1v1h-1zM530 149h1v1h-1zM535 149h1v1h-1zM540 149h1v1h-1zM88 186h1v1h-1zM93 186h1v1h-1zM98 186h1v1h-1zM103 186h1v1h-1zM108 186h1v1h-1zM113 186h1v1h-1zM118 186h1v1h-1zM123 186h1v1h-1zM128 186h1v1h-1zM133 186h1v1h-1zM138 186h1v1h-1zM143 186h1v1h-1zM148 186h1v1h-1zM153 186h1v1h-1zM158 186h1v1h-1zM163 186h1v1h-1zM168 186h1v1h-1zM173 186h1v1h-1zM178 186h1v1h-1zM183 186h1v1h-1zM188 186h1v1h-1zM193 186h1v1h-1zM198 186h1v1h-1zM203 186h1v1h-1zM208 186h1v1h-1zM213 186h1v1h-1zM218 186h1v1h-1zM223 186h1v1h-1zM228 186h1v1h-1zM233 186h1v1h-1zM238 186h1v1h-1zM243 186h1v1h-1zM248 186h1v1h-1zM253 186h1v1h-1zM258 186h1v1h-1zM263 186h1v1h-1zM268 186h1v1h-1zM273 186h1v1h-1zM278 186h1v1h-1zM283 186h1v1h-1zM288 186h1v1h-1zM293 186h1v1h-1zM298 186h1v1h-1zM303 186h1v1h-1zM308 186h1v1h-1zM313 186h1v1h-1zM318 186h1v1h-1zM323 186h1v1h-1zM328 186h1v1h-1zM333 186h1v1h-1zM338 186h1v1h-1zM343 186h1v1h-1zM348 186h1v1h-1zM353 186h1v1h-1zM358 186h1v1h-1zM363 186h1v1h-1zM368 186h1v1h-1zM373 186h1v1h-1zM378 186h1v1h-1zM383 186h1v1h-1zM388 186h1v1h-1zM393 186h1v1h-1zM398 186h1v1h-1zM403 186h1v1h-1zM408 186h1v1h-1zM413 186h1v1h-1zM418 186h1v1h-1zM423 186h1v1h-1zM428 186h1v1h-1zM433 186h1v1h-1zM438 186h1v1h-1zM443 186h1v1h-1zM448 186h1v1h-1zM453 186h1v1h-1zM458 186h1v1h-1zM463 186h1v1h-1zM468 186h1v1h-1zM473 186h1v1h-1zM478 186h1v1h-1zM483 186h1v1h-1zM488 186h1v1h-1zM493 186h1v1h-1zM498 186h1v1h-1zM503 186h1v1h-1zM508 186h1v1h-1zM513 186h1v1h-1zM518 186h1v1h-1zM523 186h1v1h-1zM528 186h1v1h-1zM533 186h1v1h-1zM538 186h1v1h-1zM129 43h1v1h-1zM129 48h1v1h-1zM129 53h1v1h-1zM129 58h1v1h-1zM129 63h1v1h-1zM129 68h1v1h-1zM129 73h1v1h-1zM129 78h1v1h-1zM129 83h1v1h-1zM129 88h1v1h-1zM129 93h1v1h-1zM129 98h1v1h-1zM129 103h1v1h-1zM129 108h1v1h-1zM129 113h1v1h-1zM129 118h1v1h-1zM129 123h1v1h-1zM129 128h1v1h-1zM129 133h1v1h-1zM129 138h1v1h-1zM129 143h1v1h-1zM129 148h1v1h-1zM129 153h1v1h-1zM129 158h1v1h-1zM129 163h1v1h-1zM129 168h1v1h-1zM129 173h1v1h-1zM129 178h1v1h-1zM181 43h1v1h-1zM181 48h1v1h-1zM181 53h1v1h-1zM181 58h1v1h-1zM181 63h1v1h-1zM181 68h1v1h-1zM181 73h1v1h-1zM181 78h1v1h-1zM181 83h1v1h-1zM181 88h1v1h-1zM181 93h1v1h-1zM181 98h1v1h-1zM181 103h1v1h-1zM181 108h1v1h-1zM181 113h1v1h-1zM181 118h1v1h-1zM181 123h1v1h-1zM181 128h1v1h-1zM181 133h1v1h-1zM181 138h1v1h-1zM181 143h1v1h-1zM181 148h1v1h-1zM181 153h1v1h-1zM181 158h1v1h-1zM181 163h1v1h-1zM181 168h1v1h-1zM181 173h1v1h-1zM181 178h1v1h-1zM233 43h1v1h-1zM233 48h1v1h-1zM233 53h1v1h-1zM233 58h1v1h-1zM233 63h1v1h-1zM233 68h1v1h-1zM233 73h1v1h-1zM233 78h1v1h-1zM233 83h1v1h-1zM233 88h1v1h-1zM233 93h1v1h-1zM233 98h1v1h-1zM233 103h1v1h-1zM233 108h1v1h-1zM233 113h1v1h-1zM233 118h1v1h-1zM233 123h1v1h-1zM233 128h1v1h-1zM233 133h1v1h-1zM233 138h1v1h-1zM233 143h1v1h-1zM233 148h1v1h-1zM233 153h1v1h-1zM233 158h1v1h-1zM233 163h1v1h-1zM233 168h1v1h-1zM233 173h1v1h-1zM233 178h1v1h-1zM285 43h1v1h-1zM285 48h1v1h-1zM285 53h1v1h-1zM285 58h1v1h-1zM285 63h1v1h-1zM285 68h1v1h-1zM285 73h1v1h-1zM285 78h1v1h-1zM285 83h1v1h-1zM285 88h1v1h-1zM285 93h1v1h-1zM285 98h1v1h-1zM285 103h1v1h-1zM285 108h1v1h-1zM285 113h1v1h-1zM285 118h1v1h-1zM285 123h1v1h-1zM285 128h1v1h-1zM285 133h1v1h-1zM285 138h1v1h-1zM285 143h1v1h-1zM285 148h1v1h-1zM285 153h1v1h-1zM285 158h1v1h-1zM285 163h1v1h-1zM285 168h1v1h-1zM285 173h1v1h-1zM285 178h1v1h-1zM336 43h1v1h-1zM336 48h1v1h-1zM336 53h1v1h-1zM336 58h1v1h-1zM336 63h1v1h-1zM336 68h1v1h-1zM336 73h1v1h-1zM336 78h1v1h-1zM336 83h1v1h-1zM336 88h1v1h-1zM336 93h1v1h-1zM336 98h1v1h-1zM336 103h1v1h-1zM336 108h1v1h-1zM336 113h1v1h-1zM336 118h1v1h-1zM336 123h1v1h-1zM336 128h1v1h-1zM336 133h1v1h-1zM336 138h1v1h-1zM336 143h1v1h-1zM336 148h1v1h-1zM336 153h1v1h-1zM336 158h1v1h-1zM336 163h1v1h-1zM336 168h1v1h-1zM336 173h1v1h-1zM336 178h1v1h-1zM388 43h1v1h-1zM388 48h1v1h-1zM388 53h1v1h-1zM388 58h1v1h-1zM388 63h1v1h-1zM388 68h1v1h-1zM388 73h1v1h-1zM388 78h1v1h-1zM388 83h1v1h-1zM388 88h1v1h-1zM388 93h1v1h-1zM388 98h1v1h-1zM388 103h1v1h-1zM388 108h1v1h-1zM388 113h1v1h-1zM388 118h1v1h-1zM388 123h1v1h-1zM388 128h1v1h-1zM388 133h1v1h-1zM388 138h1v1h-1zM388 143h1v1h-1zM388 148h1v1h-1zM388 153h1v1h-1zM388 158h1v1h-1zM388 163h1v1h-1zM388 168h1v1h-1zM388 173h1v1h-1zM388 178h1v1h-1zM440 43h1v1h-1zM440 48h1v1h-1zM440 53h1v1h-1zM440 58h1v1h-1zM440 63h1v1h-1zM440 68h1v1h-1zM440 73h1v1h-1zM440 78h1v1h-1zM440 83h1v1h-1zM440 88h1v1h-1zM440 93h1v1h-1zM440 98h1v1h-1zM440 103h1v1h-1zM440 108h1v1h-1zM440 113h1v1h-1zM440 118h1v1h-1zM440 123h1v1h-1zM440 128h1v1h-1zM440 133h1v1h-1zM440 138h1v1h-1zM440 143h1v1h-1zM440 148h1v1h-1zM440 153h1v1h-1zM440 158h1v1h-1zM440 163h1v1h-1zM440 168h1v1h-1zM440 173h1v1h-1zM440 178h1v1h-1zM492 43h1v1h-1zM492 48h1v1h-1zM492 53h1v1h-1zM492 58h1v1h-1zM492 63h1v1h-1zM492 68h1v1h-1zM492 73h1v1h-1zM492 78h1v1h-1zM492 83h1v1h-1zM492 88h1v1h-1zM492 93h1v1h-1zM492 98h1v1h-1zM492 103h1v1h-1zM492 108h1v1h-1zM492 113h1v1h-1zM492 118h1v1h-1zM492 123h1v1h-1zM492 128h1v1h-1zM492 133h1v1h-1zM492 138h1v1h-1zM492 143h1v1h-1zM492 148h1v1h-1zM492 153h1v1h-1zM492 158h1v1h-1zM492 163h1v1h-1zM492 168h1v1h-1zM492 173h1v1h-1zM492 178h1v1h-1z"/><path d="M85 288h1v1h-1zM90 288h1v1h-1zM95 288h1v1h-1zM100 288h1v1h-1zM105 288h1v1h-1zM110 288h1v1h-1zM115 288h1v1h-1zM120 288h1v1h-1zM125 288h1v1h-1zM130 288h1v1h-1zM135 288h1v1h-1zM140 288h1v1h-1zM145 288h1v1h-1zM150 288h1v1h-1zM155 288h1v1h-1zM160 288h1v1h-1zM165 288h1v1h-1zM170 288h1v1h-1zM175 288h1v1h-1zM180 288h1v1h-1zM185 288h1v1h-1zM190 288h1v1h-1zM195 288h1v1h-1zM200 288h1v1h-1zM205 288h1v1h-1zM210 288h1v1h-1zM215 288h1v1h-1zM220 288h1v1h-1zM225 288h1v1h-1zM230 288h1v1h-1zM235 288h1v1h-1zM240 288h1v1h-1zM245 288h1v1h-1zM250 288h1v1h-1zM255 288h1v1h-1zM260 288h1v1h-1zM265 288h1v1h-1zM270 288h1v1h-1zM275 288h1v1h-1zM280 288h1v1h-1zM285 288h1v1h-1zM290 288h1v1h-1zM295 288h1v1h-1zM300 288h1v1h-1zM305 288h1v1h-1zM310 288h1v1h-1zM315 288h1v1h-1zM320 288h1v1h-1zM325 288h1v1h-1zM330 288h1v1h-1zM335 288h1v1h-1zM340 288h1v1h-1zM345 288h1v1h-1zM350 288h1v1h-1zM355 288h1v1h-1zM360 288h1v1h-1zM365 288h1v1h-1zM370 288h1v1h-1zM375 288h1v1h-1zM380 288h1v1h-1zM385 288h1v1h-1zM390 288h1v1h-1zM395 288h1v1h-1zM400 288h1v1h-1zM405 288h1v1h-1zM410 288h1v1h-1zM415 288h1v1h-1zM420 288h1v1h-1zM425 288h1v1h-1zM430 288h1v1h-1zM435 288h1v1h-1zM440 288h1v1h-1zM445 288h1v1h-1zM450 288h1v1h-1zM455 288h1v1h-1zM460 288h1v1h-1zM465 288h1v1h-1zM470 288h1v1h-1zM475 288h1v1h-1zM480 288h1v1h-1zM485 288h1v1h-1zM490 288h1v1h-1zM495 288h1v1h-1zM500 288h1v1h-1zM505 288h1v1h-1zM510 288h1v1h-1zM515 288h1v1h-1zM520 288h1v1h-1zM525 288h1v1h-1zM530 288h1v1h-1zM535 288h1v1h-1zM540 288h1v1h-1zM85 325h1v1h-1zM90 325h1v1h-1zM95 325h1v1h-1zM100 325h1v1h-1zM105 325h1v1h-1zM110 325h1v1h-1zM115 325h1v1h-1zM120 325h1v1h-1zM125 325h1v1h-1zM130 325h1v1h-1zM135 325h1v1h-1zM140 325h1v1h-1zM145 325h1v1h-1zM150 325h1v1h-1zM155 325h1v1h-1zM160 325h1v1h-1zM165 325h1v1h-1zM170 325h1v1h-1zM175 325h1v1h-1zM180 325h1v1h-1zM185 325h1v1h-1zM190 325h1v1h-1zM195 325h1v1h-1zM200 325h1v1h-1zM205 325h1v1h-1zM210 325h1v1h-1zM215 325h1v1h-1zM220 325h1v1h-1zM225 325h1v1h-1zM230 325h1v1h-1zM235 325h1v1h-1zM240 325h1v1h-1zM245 325h1v1h-1zM250 325h1v1h-1zM255 325h1v1h-1zM260 325h1v1h-1zM265 325h1v1h-1zM270 325h1v1h-1zM275 325h1v1h-1zM280 325h1v1h-1zM285 325h1v1h-1zM290 325h1v1h-1zM295 325h1v1h-1zM300 325h1v1h-1zM305 325h1v1h-1zM310 325h1v1h-1zM315 325h1v1h-1zM320 325h1v1h-1zM325 325h1v1h-1zM330 325h1v1h-1zM335 325h1v1h-1zM340 325h1v1h-1zM345 325h1v1h-1zM350 325h1v1h-1zM355 325h1v1h-1zM360 325h1v1h-1zM365 325h1v1h-1zM370 325h1v1h-1zM375 325h1v1h-1zM380 325h1v1h-1zM385 325h1v1h-1zM390 325h1v1h-1zM395 325h1v1h-1zM400 325h1v1h-1zM405 325h1v1h-1zM410 325h1v1h-1zM415 325h1v1h-1zM420 325h1v1h-1zM425 325h1v1h-1zM430 325h1v1h-1zM435 325h1v1h-1zM440 325h1v1h-1zM445 325h1v1h-1zM450 325h1v1h-1zM455 325h1v1h-1zM460 325h1v1h-1zM465 325h1v1h-1zM470 325h1v1h-1zM475 325h1v1h-1zM480 325h1v1h-1zM485 325h1v1h-1zM490 325h1v1h-1zM495 325h1v1h-1zM500 325h1v1h-1zM505 325h1v1h-1zM510 325h1v1h-1zM515 325h1v1h-1zM520 325h1v1h-1zM525 325h1v1h-1zM530 325h1v1h-1zM535 325h1v1h-1zM540 325h1v1h-1zM85 362h1v1h-1zM90 362h1v1h-1zM95 362h1v1h-1zM100 362h1v1h-1zM105 362h1v1h-1zM110 362h1v1h-1zM115 362h1v1h-1zM120 362h1v1h-1zM125 362h1v1h-1zM130 362h1v1h-1zM135 362h1v1h-1zM140 362h1v1h-1zM145 362h1v1h-1zM150 362h1v1h-1zM155 362h1v1h-1zM160 362h1v1h-1zM165 362h1v1h-1zM170 362h1v1h-1zM175 362h1v1h-1zM180 362h1v1h-1zM185 362h1v1h-1zM190 362h1v1h-1zM195 362h1v1h-1zM200 362h1v1h-1zM205 362h1v1h-1zM210 362h1v1h-1zM215 362h1v1h-1zM220 362h1v1h-1zM225 362h1v1h-1zM230 362h1v1h-1zM235 362h1v1h-1zM240 362h1v1h-1zM245 362h1v1h-1zM250 362h1v1h-1zM255 362h1v1h-1zM260 362h1v1h-1zM265 362h1v1h-1zM270 362h1v1h-1zM275 362h1v1h-1zM280 362h1v1h-1zM285 362h1v1h-1zM290 362h1v1h-1zM295 362h1v1h-1zM300 362h1v1h-1zM305 362h1v1h-1zM310 362h1v1h-1zM315 362h1v1h-1zM320 362h1v1h-1zM325 362h1v1h-1zM330 362h1v1h-1zM335 362h1v1h-1zM340 362h1v1h-1zM345 362h1v1h-1zM350 362h1v1h-1zM355 362h1v1h-1zM360 362h1v1h-1zM365 362h1v1h-1zM370 362h1v1h-1zM375 362h1v1h-1zM380 362h1v1h-1zM385 362h1v1h-1zM390 362h1v1h-1zM395 362h1v1h-1zM400 362h1v1h-1zM405 362h1v1h-1zM410 362h1v1h-1zM415 362h1v1h-1zM420 362h1v1h-1zM425 362h1v1h-1zM430 362h1v1h-1zM435 362h1v1h-1zM440 362h1v1h-1zM445 362h1v1h-1zM450 362h1v1h-1zM455 362h1v1h-1zM460 362h1v1h-1zM465 362h1v1h-1zM470 362h1v1h-1zM475 362h1v1h-1zM480 362h1v1h-1zM485 362h1v1h-1zM490 362h1v1h-1zM495 362h1v1h-1zM500 362h1v1h-1zM505 362h1v1h-1zM510 362h1v1h-1zM515 362h1v1h-1zM520 362h1v1h-1zM525 362h1v1h-1zM530 362h1v1h-1zM535 362h1v1h-1zM540 362h1v1h-1zM88 399h1v1h-1zM93 399h1v1h-1zM98 399h1v1h-1zM103 399h1v1h-1zM108 399h1v1h-1zM113 399h1v1h-1zM118 399h1v1h-1zM123 399h1v1h-1zM128 399h1v1h-1zM133 399h1v1h-1zM138 399h1v1h-1zM143 399h1v1h-1zM148 399h1v1h-1zM153 399h1v1h-1zM158 399h1v1h-1zM163 399h1v1h-1zM168 399h1v1h-1zM173 399h1v1h-1zM178 399h1v1h-1zM183 399h1v1h-1zM188 399h1v1h-1zM193 399h1v1h-1zM198 399h1v1h-1zM203 399h1v1h-1zM208 399h1v1h-1zM213 399h1v1h-1zM218 399h1v1h-1zM223 399h1v1h-1zM228 399h1v1h-1zM233 399h1v1h-1zM238 399h1v1h-1zM243 399h1v1h-1zM248 399h1v1h-1zM253 399h1v1h-1zM258 399h1v1h-1zM263 399h1v1h-1zM268 399h1v1h-1zM273 399h1v1h-1zM278 399h1v1h-1zM283 399h1v1h-1zM288 399h1v1h-1zM293 399h1v1h-1zM298 399h1v1h-1zM303 399h1v1h-1zM308 399h1v1h-1zM313 399h1v1h-1zM318 399h1v1h-1zM323 399h1v1h-1zM328 399h1v1h-1zM333 399h1v1h-1zM338 399h1v1h-1zM343 399h1v1h-1zM348 399h1v1h-1zM353 399h1v1h-1zM358 399h1v1h-1zM363 399h1v1h-1zM368 399h1v1h-1zM373 399h1v1h-1zM378 399h1v1h-1zM383 399h1v1h-1zM388 399h1v1h-1zM393 399h1v1h-1zM398 399h1v1h-1zM403 399h1v1h-1zM408 399h1v1h-1zM413 399h1v1h-1zM418 399h1v1h-1zM423 399h1v1h-1zM428 399h1v1h-1zM433 399h1v1h-1zM438 399h1v1h-1zM443 399h1v1h-1zM448 399h1v1h-1zM453 399h1v1h-1zM458 399h1v1h-1zM463 399h1v1h-1zM468 399h1v1h-1zM473 399h1v1h-1zM478 399h1v1h-1zM483 399h1v1h-1zM488 399h1v1h-1zM493 399h1v1h-1zM498 399h1v1h-1zM503 399h1v1h-1zM508 399h1v1h-1zM513 399h1v1h-1zM518 399h1v1h-1zM523 399h1v1h-1zM528 399h1v1h-1zM533 399h1v1h-1zM538 399h1v1h-1zM129 258h1v1h-1zM129 263h1v1h-1zM129 268h1v1h-1zM129 273h1v1h-1zM129 278h1v1h-1zM129 283h1v1h-1zM129 288h1v1h-1zM129 293h1v1h-1zM129 298h1v1h-1zM129 303h1v1h-1zM129 308h1v1h-1zM129 313h1v1h-1zM129 318h1v1h-1zM129 323h1v1h-1zM129 328h1v1h-1zM129 333h1v1h-1zM129 338h1v1h-1zM129 343h1v1h-1zM129 348h1v1h-1zM129 353h1v1h-1zM129 358h1v1h-1zM129 363h1v1h-1zM129 368h1v1h-1zM129 373h1v1h-1zM129 378h1v1h-1zM129 383h1v1h-1zM129 388h1v1h-1zM129 393h1v1h-1zM181 258h1v1h-1zM181 263h1v1h-1zM181 268h1v1h-1zM181 273h1v1h-1zM181 278h1v1h-1zM181 283h1v1h-1zM181 288h1v1h-1zM181 293h1v1h-1zM181 298h1v1h-1zM181 303h1v1h-1zM181 308h1v1h-1zM181 313h1v1h-1zM181 318h1v1h-1zM181 323h1v1h-1zM181 328h1v1h-1zM181 333h1v1h-1zM181 338h1v1h-1zM181 343h1v1h-1zM181 348h1v1h-1zM181 353h1v1h-1zM181 358h1v1h-1zM181 363h1v1h-1zM181 368h1v1h-1zM181 373h1v1h-1zM181 378h1v1h-1zM181 383h1v1h-1zM181 388h1v1h-1zM181 393h1v1h-1zM233 258h1v1h-1zM233 263h1v1h-1zM233 268h1v1h-1zM233 273h1v1h-1zM233 278h1v1h-1zM233 283h1v1h-1zM233 288h1v1h-1zM233 293h1v1h-1zM233 298h1v1h-1zM233 303h1v1h-1zM233 308h1v1h-1zM233 313h1v1h-1zM233 318h1v1h-1zM233 323h1v1h-1zM233 328h1v1h-1zM233 333h1v1h-1zM233 338h1v1h-1zM233 343h1v1h-1zM233 348h1v1h-1zM233 353h1v1h-1zM233 358h1v1h-1zM233 363h1v1h-1zM233 368h1v1h-1zM233 373h1v1h-1zM233 378h1v1h-1zM233 383h1v1h-1zM233 388h1v1h-1zM233 393h1v1h-1zM285 258h1v1h-1zM285 263h1v1h-1zM285 268h1v1h-1zM285 273h1v1h-1zM285 278h1v1h-1zM285 283h1v1h-1zM285 288h1v1h-1zM285 293h1v1h-1zM285 298h1v1h-1zM285 303h1v1h-1zM285 308h1v1h-1zM285 313h1v1h-1zM285 318h1v1h-1zM285 323h1v1h-1zM285 328h1v1h-1zM285 333h1v1h-1zM285 338h1v1h-1zM285 343h1v1h-1zM285 348h1v1h-1zM285 353h1v1h-1zM285 358h1v1h-1zM285 363h1v1h-1zM285 368h1v1h-1zM285 373h1v1h-1zM285 378h1v1h-1zM285 383h1v1h-1zM285 388h1v1h-1zM285 393h1v1h-1zM336 258h1v1h-1zM336 263h1v1h-1zM336 268h1v1h-1zM336 273h1v1h-1zM336 278h1v1h-1zM336 283h1v1h-1zM336 288h1v1h-1zM336 293h1v1h-1zM336 298h1v1h-1zM336 303h1v1h-1zM336 308h1v1h-1zM336 313h1v1h-1zM336 318h1v1h-1zM336 323h1v1h-1zM336 328h1v1h-1zM336 333h1v1h-1zM336 338h1v1h-1zM336 343h1v1h-1zM336 348h1v1h-1zM336 353h1v1h-1zM336 358h1v1h-1zM336 363h1v1h-1zM336 368h1v1h-1zM336 373h1v1h-1zM336 378h1v1h-1zM336 383h1v1h-1zM336 388h1v1h-1zM336 393h1v1h-1zM388 258h1v1h-1zM388 263h1v1h-1zM388 268h1v1h-1zM388 273h1v1h-1zM388 278h1v1h-1zM388 283h1v1h-1zM388 288h1v1h-1zM388 293h1v1h-1zM388 298h1v1h-1zM388 303h1v1h-1zM388 308h1v1h-1zM388 313h1v1h-1zM388 318h1v1h-1zM388 323h1v1h-1zM388 328h1v1h-1zM388 333h1v1h-1zM388 338h1v1h-1zM388 343h1v1h-1zM388 348h1v1h-1zM388 353h1v1h-1zM388 358h1v1h-1zM388 363h1v1h-1zM388 368h1v1h-1zM388 373h1v1h-1zM388 378h1v1h-1zM388 383h1v1h-1zM388 388h1v1h-1zM388 393h1v1h-1zM440 258h1v1h-1zM440 263h1v1h-1zM440 268h1v1h-1zM440 273h1v1h-1zM440 278h1v1h-1zM440 283h1v1h-1zM440 288h1v1h-1zM440 293h1v1h-1zM440 298h1v1h-1zM440 303h1v1h-1zM440 308h1v1h-1zM440 313h1v1h-1zM440 318h1v1h-1zM440 323h1v1h-1zM440 328h1v1h-1zM440 333h1v1h-1zM440 338h1v1h-1zM440 343h1v1h-1zM440 348h1v1h-1zM440 353h1v1h-1zM440 358h1v1h-1zM440 363h1v1h-1zM440 368h1v1h-1zM440 373h1v1h-1zM440 378h1v1h-1zM440 383h1v1h-1zM440 388h1v1h-1zM440 393h1v1h-1zM492 258h1v1h-1zM492 263h1v1h-1zM492 268h1v1h-1zM492 273h1v1h-1zM492 278h1v1h-1zM492 283h1v1h-1zM492 288h1v1h-1zM492 293h1v1h-1zM492 298h1v1h-1zM492 303h1v1h-1zM492 308h1v1h-1zM492 313h1v1h-1zM492 318h1v1h-1zM492 323h1v1h-1zM492 328h1v1h-1zM492 333h1v1h-1zM492 338h1v1h-1zM492 343h1v1h-1zM492 348h1v1h-1zM492 353h1v1h-1zM492 358h1v1h-1zM492 363h1v1h-1zM492 368h1v1h-1zM492 373h1v1h-1zM492 378h1v1h-1zM492 383h1v1h-1zM492 388h1v1h-1zM492 393h1v1h-1z"/><rect x="77" y="38" width="1" height="151"/><rect x="77" y="188" width="467" height="1"/><rect x="543" y="38" width="1" height="151"/><rect x="77" y="38" width="467" height="1"/><rect x="78" y="38" width="5" height="1"/><rect x="538" y="38" width="5" height="1"/><rect x="78" y="75" width="5" height="1"/><rect x="538" y="75" width="5" height="1"/><rect x="78" y="112" width="5" height="1"/><rect x="538" y="112" width="5" height="1"/><rect x="78" y="149" width="5" height="1"/><rect x="538" y="149" width="5" height="1"/><rect x="78" y="186" width="5" height="1"/><rect x="538" y="186" width="5" height="1"/><rect x="77" y="183" width="1" height="5"/><rect x="77" y="39" width="1" height="5"/><rect x="129" y="183" width="1" height="5"/><rect x="129" y="39" width="1" height="5"/><rect x="181" y="183" width="1" height="5"/><rect x="181" y="39" width="1" height="5"/><rect x="233" y="183" width="1" height="5"/><rect x="233" y="39" width="1" height="5"/><rect x="285" y="183" width="1" height="5"/><rect x="285" y="39" width="1" height="5"/><rect x="336" y="183" width="1" height="5"/><rect x="336" y="39" width="1" height="5"/><rect x="388" y="183" width="1" height="5"/><rect x="388" y="39" width="1" height="5"/><rect x="440" y="183" width="1" height="5"/><rect x="440" y="39" width="1" height="5"/><rect x="492" y="183" width="1" height="5"/><rect x="492" y="39" width="1" height="5"/><rect x="77" y="251" width="1" height="151"/><rect x="77" y="401" width="467" height="1"/><rect x="78" y="251" width="5" height="1"/><rect x="78" y="288" width="5" height="1"/><rect x="78" y="325" width="5" height="1"/><rect x="78" y="362" width="5" height="1"/><rect x="78" y="399" width="5" height="1"/><rect x="77" y="396" width="1" height="5"/><rect x="129" y="396" width="1" height="5"/><rect x="181" y="396" width="1" height="5"/><rect x="233" y="396" width="1" height="5"/><rect x="285" y="396" width="1" height="5"/><rect x="336" y="396" width="1" height="5"/><rect x="388" y="396" width="1" height="5"/><rect x="440" y="396" width="1" height="5"/><rect x="492" y="396" width="1" height="5"/></g>
<g clip-path="url(#c1)"><rect x="79" y="38" width="2" height="144" fill="url(#g0)"/><rect x="81" y="38" width="2" height="144" fill="url(#g1)"/><rect x="83" y="38" width="2" height="144" fill="url(#g2)"/><rect x="85" y="38" width="2" height="144" fill="url(#g3)"/><rect x="87" y="38" width="2" height="144" fill="url(#g4)"/><rect x="89" y="38" width="2" height="144" fill="url(#g5)"/><rect x="91" y="38" width="2" height="144" fill="url(#g6)"/><rect x="93" y="38" width="2" height="144" fill="url(#g7)"/><rect x="95" y="38" width="2" height="144" fill="url(#g8)"/><rect x="97" y="38" width="2" height="144" fill="url(#g9)"/><rect x="99" y="38" width="2" height="144" fill="url(#g10)"/><rect x="101" y="38" width="2" height="144" fill="url(#g11)"/><rect x="103" y="38" width="2" height="144" fill="url(#g12)"/><rect x="105" y="38" width="2" height="144" fill="url(#g13)"/><rect x="107" y="38" width="2" height="144" fill="url(#g14)"/><rect x="109" y="38" width="2" height="144" fill="url(#g15)"/><rect x="111" y="38" width="2" height="144" fill="url(#g16)"/><rect x="113" y="38" width="2" height="144" fill="url(#g17)"/><rect x="115" y="38" width="2" height="144" fill="url(#g18)"/><rect x="117" y="38" width="2" height="144" fill="url(#g19)"/><rect x="119" y="38" width="2" height="144" fill="url(#g20)"/><rect x="121" y="38" width="2" height="144" fill="url(#g21)"/><rect x="123" y="38" width="2" height="144" fill="url(#g22)"/><rect x="125" y="38" width="2" height="144" fill="url(#g23)"/><rect x="127" y="38" width="2" height="144" fill="url(#g24)"/><rect x="129" y="38" width="2" height="144" fill="url(#g25)"/><rect x="131" y="38" width="2" height="144" fill="url(#g26)"/><rect x="133" y="38" width="2" height="144" fill="url(#g27)"/><rect x="135" y="38" width="2" height="144" fill="url(#g28)"/><rect x="137" y="38" width="2" height="144" fill="url(#g29)"/><rect x="139" y="38" width="2" height="144" fill="url(#g30)"/><rect x="141" y="38" width="2" height="144" fill="url(#g31)"/><rect x="143" y="38" width="2" height="144" fill="url(#g32)"/><rect x="145" y="38" width="2" height="144" fill="url(#g33)"/><rect x="147" y="38" width="2" height="144" fill="url(#g34)"/><rect x="149" y="38" width="2" height="144" fill="url(#g35)"/><rect x="151" y="38" width="2" height="144" fill="url(#g36)"/><rect x="153" y="38" width="2" height="144" fill="url(#g37)"/><rect x="155" y="38" width="2" height="144" fill="url(#g38)"/><rect x="157" y="38" width="2" height="144" fill="url(#g39)"/><rect x="159" y="38" width="2" height="144" fill="url(#g40)"/><rect x="161" y="38" width="2" height="144" fill="url(#g41)"/><rect x="163" y="38" width="2" height="144" fill="url(#g42)"/><rect x="165" y="38" width="2" height="144" fill="url(#g43)"/><rect x="167" y="38" width="2" height="144" fill="url(#g44)"/><rect x="169" y="38" width="2" height="144" fill="url(#g45)"/><rect x="171" y="38" width="2" height="144" fill="url(#g46)"/><rect x="173" y="38" width="2" height="144" fill="url(#g47)"/><rect x="175" y="38" width="2" height="144" fill="url(#g48)"/><rect x="177" y="38" width="2" height="144" fill="url(#g49)"/><rect x="179" y="38" width="2" height="144" fill="url(#g50)"/><rect x="181" y="38" width="2" height="144" fill="url(#g51)"/><rect x="183" y="38" width="2" height="144" fill="url(#g52)"/><rect x="185" y="38" width="2" height="144" fill="url(#g53)"/><rect x="187" y="38" width="2" height="144" fill="url(#g54)"/><rect x="189" y="38" width="2" height="144" fill="url(#g55)"/><rect x="191" y="38" width="2" height="144" fill="url(#g56)"/><rect x="193" y="38" width="2" height="144" fill="url(#g57)"/><rect x="195" y="38" width="2" height="144" fill="url(#g58)"/><rect x="197" y="38" width="2" height="144" fill="url(#g59)"/><rect x="199" y="38" width="2" height="144" fill="url(#g60)"/><rect x="201" y="38" width="2" height="144" fill="url(#g61)"/><rect x="203" y="38" width="2" height="144" fill="url(#g62)"/><rect x="205" y="38" width="2" height="144" fill="url(#g63)"/><rect x="207" y="38" width="2" height="144" fill="url(#g64)"/><rect x="209" y="38" width="2" height="144" fill="url(#g65)"/><rect x="211" y="38" width="2" height="144" fill="url(#g66)"/><rect x="213" y="38" width="2" height="144" fill="url(#g67)"/><rect x="215" y="38" width="2" height="144" fill="url(#g68)"/><rect x="217" y="38" width="2" height="144" fill="url(#g69)"/><rect x="219" y="38" width="2" height="144" fill="url(#g70)"/><rect x="221" y="38" width="2" height="144" fill="url(#g71)"/><rect x="223" y="38" width="2" height="144" fill="url(#g72)"/><rect x="225" y="38" width="2" height="144" fill="url(#g73)"/><rect x="227" y="38" width="2" height="144" fill="url(#g74)"/><rect x="229" y="38" width="2" height="144" fill="url(#g75)"/><rect x="231" y="38" width="2" height="144" fill="url(#g76)"/><rect x="233" y="38" width="2" height="144" fill="url(#g77)"/><rect x="235" y="38" width="2" height="144" fill="url(#g78)"/><rect x="237" y="38" width="2" height="144" fill="url(#g79)"/><rect x="239" y="38" width="2" height="144" fill="url(#g80)"/><rect x="241" y="38" width="2" height="144" fill="url(#g81)"/><rect x="243" y="38" width="2" height="144" fill="url(#g82)"/><rect x="245" y="38" width="2" height="144" fill="url(#g83)"/><rect x="247" y="38" width="2" height="144" fill="url(#g84)"/><rect x="249" y="38" width="2" height="144" fill="url(#g85)"/><rect x="251" y="38" width="2" height="144" fill="url(#g86)"/><rect x="253" y="38" width="2" height="144" fill="url(#g87)"/><rect x="255" y="38" width="2" height="144" fill="url(#g88)"/><rect x="257" y="38" width="2" height="144" fill="url(#g89)"/><rect x="259" y="38" width="2" height="144" fill="url(#g90)"/><rect x="261" y="38" width="2" height="144" fill="url(#g91)"/><rect x="263" y="38" width="2" height="144" fill="url(#g92)"/><rect x="265" y="38" width="2" height="144" fill="url(#g93)"/><rect x="267" y="38" width="2" height="144" fill="url(#g94)"/><rect x="269" y="38" width="2" height="144" fill="url(#g95)"/><rect x="271" y="38" width="2" height="144" fill="url(#g96)"/><rect x="273" y="38" width="2" height="144" fill="url(#g97)"/><rect x="275" y="38" width="2" height="144" fill="url(#g98)"/><rect x="277" y="38" width="2" height="144" fill="url(#g99)"/><rect x="279" y="38" width="2" height="144" fill="url(#g100)"/><rect x="281" y="38" width="2" height="144" fill="url(#g101)"/><rect x="283" y="38" width="2" height="144" fill="url(#g102)"/><rect x="285" y="38" width="2" height="144" fill="url(#g103)"/><rect x="287" y="38" width="2" height="144" fill="url(#g104)"/><rect x="289" y="38" width="2" height="144" fill="url(#g105)"/><rect x="291" y="38" width="2" height="144" fill="url(#g106)"/><rect x="293" y="38" width="2" height="144" fill="url(#g107)"/><rect x="295" y="38" width="2" height="144" fill="url(#g108)"/><rect x="297" y="38" width="2" height="144" fill="url(#g109)"/><rect x="299" y="38" width="2" height="144" fill="url(#g110)"/><rect x="301" y="38" width="2" height="144" fill="url(#g111)"/><rect x="303" y="38" width="2" height="144" fill="url(#g112)"/><rect x="305" y="38" width="2" height="144" fill="url(#g113)"/><rect x="307" y="38" width="2" height="144" fill="url(#g114)"/><rect x="309" y="38" width="2" height="144" fill="url(#g115)"/><rect x="311" y="38" width="2" height="144" fill="url(#g116)"/><rect x="313" y="38" width="2" height="144" fill="url(#g117)"/><rect x="315" y="38" width="2" height="144" fill="url(#g118)"/><rect x="317" y="38" width="2" height="144" fill="url(#g119)"/><rect x="319" y="38" width="2" height="144" fill="url(#g120)"/><rect x="321" y="38" width="2" height="144" fill="url(#g121)"/><rect x="323" y="38" width="2" height="144" fill="url(#g122)"/><rect x="325" y="38" width="2" height="144" fill="url(#g123)"/><rect x="327" y="38" width="2" height="144" fill="url(#g124)"/><rect x="329" y="38" width="2" height="144" fill="url(#g125)"/><rect x="331" y="38" width="2" height="144" fill="url(#g126)"/><rect x="333" y="38" width="2" height="144" fill="url(#g127)"/><rect x="335" y="38" width="2" height="144" fill="url(#g128)"/><rect x="337" y="38" width="2" height="144" fill="url(#g129)"/><rect x="339" y="38" width="2" height="144" fill="url(#g130)"/><rect x="341" y="38" width="2" height="144" fill="url(#g131)"/><rect x="343" y="38" width="2" height="144" fill="url(#g132)"/><rect x="345" y="38" width="2" height="144" fill="url(#g133)"/><rect x="347" y="38" width="2" height="144" fill="url(#g134)"/><rect x="349" y="38" width="2" height="144" fill="url(#g135)"/><rect x="351" y="38" width="2" height="144" fill="url(#g136)"/><rect x="353" y="38" width="2" height="144" fill="url(#g137)"/><rect x="355" y="38" width="2" height="144" fill="url(#g138)"/><rect x="357" y="38" width="2" height="144" fill="url(#g139)"/><rect x="359" y="38" width="2" height="144" fill="url(#g140)"/><rect x="361" y="38" width="2" height="144" fill="url(#g141)"/><rect x="363" y="38" width="2" height="144" fill="url(#g142)"/><rect x="365" y="38" width="2" height="144" fill="url(#g143)"/><rect x="367" y="38" width="2" height="144" fill="url(#g144)"/><rect x="369" y="38" width="2" height="144" fill="url(#g145)"/><rect x="371" y="38" width="2" height="144" fill="url(#g146)"/><rect x="373" y="38" width="2" height="144" fill="url(#g147)"/><rect x="375" y="38" width="2" height="144" fill="url(#g148)"/><rect x="377" y="38" width="2" height="144" fill="url(#g149)"/><rect x="379" y="38" width="2" height="144" fill="url(#g150)"/><rect x="381" y="38" width="2" height="144" fill="url(#g151)"/><rect x="383" y="38" width="2" height="144" fill="url(#g152)"/><rect x="385" y="38" width="2" height="144" fill="url(#g153)"/><rect x="387" y="38" width="2" height="144" fill="url(#g154)"/><rect x="389" y="38" width="2" height="144" fill="url(#g155)"/><rect x="391" y="38" width="2" height="144" fill="url(#g156)"/><rect x="393" y="38" width="2" height="144" fill="url(#g157)"/><rect x="395" y="38" width="2" height="144" fill="url(#g158)"/><rect x="397" y="38" width="2" height="144" fill="url(#g159)"/><rect x="399" y="38" width="2" height="144" fill="url(#g160)"/><rect x="401" y="38" width="2" height="144" fill="url(#g161)"/><rect x="403" y="38" width="2" height="144" fill="url(#g162)"/><rect x="405" y="38" width="2" height="144" fill="url(#g163)"/><rect x="407" y="38" width="2" height="144" fill="url(#g164)"/><rect x="409" y="38" width="2" height="144" fill="url(#g165)"/><rect x="411" y="38" width="2" height="144" fill="url(#g166)"/><rect x="413" y="38" width="2" height="144" fill="url(#g167)"/><rect x="415" y="38" width="2" height="144" fill="url(#g168)"/><rect x="417" y="38" width="2" height="144" fill="url(#g169)"/><rect x="419" y="38" width="2" height="144" fill="url(#g170)"/><rect x="421" y="38" width="2" height="144" fill="url(#g171)"/><rect x="423" y="38" width="2" height="144" fill="url(#g172)"/><rect x="425" y="38" width="2" height="144" fill="url(#g173)"/><rect x="427" y="38" width="2" height="144" fill="url(#g174)"/><rect x="429" y="38" width="2" height="144" fill="url(#g175)"/><rect x="431" y="38" width="2" height="144" fill="url(#g176)"/><rect x="433" y="38" width="2" height="144" fill="url(#g177)"/><rect x="435" y="38" width="2" height="144" fill="url(#g178)"/><rect x="437" y="38" width="2" height="144" fill="url(#g179)"/><rect x="439" y="38" width="2" height="144" fill="url(#g180)"/><rect x="441" y="38" width="2" height="144" fill="url(#g181)"/><rect x="443" y="38" width="2" height="144" fill="url(#g182)"/><rect x="445" y="38" width="2" height="144" fill="url(#g183)"/><rect x="447" y="38" width="2" height="144" fill="url(#g184)"/><rect x="449" y="38" width="2" height="144" fill="url(#g185)"/><rect x="451" y="38" width="2" height="144" fill="url(#g186)"/><rect x="453" y="38" width="2" height="144" fill="url(#g187)"/><rect x="455" y="38" width="2" height="144" fill="url(#g188)"/><rect x="457" y="38" width="2" height="144" fill="url(#g189)"/><rect x="459" y="38" width="2" height="144" fill="url(#g190)"/><rect x="461" y="38" width="2" height="144" fill="url(#g191)"/><rect x="463" y="38" width="2" height="144" fill="url(#g192)"/><rect x="465" y="38" width="2" height="144" fill="url(#g193)"/><rect x="467" y="38" width="2" height="144" fill="url(#g194)"/><rect x="469" y="38" width="2" height="144" fill="url(#g195)"/><rect x="471" y="38" width="2" height="144" fill="url(#g196)"/><rect x="473" y="38" width="2" height="144" fill="url(#g197)"/><rect x="475" y="38" width="2" height="144" fill="url(#g198)"/><rect x="477" y="38" width="2" height="144" fill="url(#g199)"/><rect x="479" y="38" width="2" height="144" fill="url(#g200)"/><rect x="481" y="38" width="2" height="144" fill="url(#g201)"/><rect x="483" y="38" width="2" height="144" fill="url(#g202)"/><rect x="485" y="38" width="2" height="144" fill="url(#g203)"/><rect x="487" y="38" width="2" height="144" fill="url(#g204)"/><rect x="489" y="38" width="2" height="144" fill="url(#g205)"/><rect x="491" y="38" width="2" height="144" fill="url(#g206)"/><rect x="493" y="38" width="2" height="144" fill="url(#g207)"/><rect x="495" y="38" width="2" height="144" fill="url(#g208)"/><rect x="497" y="38" width="2" height="144" fill="url(#g209)"/><rect x="499" y="38" width="2" height="144" fill="url(#g210)"/><rect x="501" y="38" width="2" height="144" fill="url(#g211)"/><rect x="503" y="38" width="2" height="144" fill="url(#g212)"/><rect x="505" y="38" width="2" height="144" fill="url(#g213)"/><rect x="507" y="38" width="2" height="144" fill="url(#g214)"/><rect x="509" y="38" width="2" height="144" fill="url(#g215)"/><rect x="511" y="38" width="2" height="144" fill="url(#g216)"/><rect x="513" y="38" width="2" height="144" fill="url(#g217)"/><rect x="515" y="38" width="2" height="144" fill="url(#g218)"/><rect x="517" y="38" width="2" height="144" fill="url(#g219)"/><rect x="519" y="38" width="2" height="144" fill="url(#g220)"/><rect x="521" y="38" width="2" height="144" fill="url(#g221)"/><rect x="523" y="38" width="2" height="144" fill="url(#g222)"/><rect x="525" y="38" width="2" height="144" fill="url(#g223)"/><rect x="527" y="38" width="2" height="144" fill="url(#g224)"/><rect x="529" y="38" width="2" height="144" fill="url(#g225)"/><rect x="531" y="38" width="2" height="144" fill="url(#g226)"/><rect x="533" y="38" width="2" height="144" fill="url(#g227)"/><rect x="535" y="38" width="2" height="144" fill="url(#g228)"/><rect x="537" y="38" width="2" height="144" fill="url(#g229)"/><rect x="539" y="38" width="2" height="144" fill="url(#g230)"/><rect x="541" y="38" width="1" height="144" fill="url(#g231)"/><polygon points="529,39 542,39 542,45.5 537,45 533,43 530,40.5" fill="#40d8ff"/><polygon points="531,39 542,39 542,44.5 538,44 534,42 532,40.5" fill="#0000c8"/><polygon points="533,39 542,39 542,43 537,42.5 534,40.5" fill="#000090"/></g>
<g clip-path="url(#c2)"><rect x="77" y="251" width="2" height="144" fill="url(#g232)"/><rect x="79" y="251" width="2" height="144" fill="url(#g233)"/><rect x="81" y="251" width="2" height="144" fill="url(#g234)"/><rect x="83" y="251" width="2" height="144" fill="url(#g235)"/><rect x="85" y="251" width="2" height="144" fill="url(#g236)"/><rect x="87" y="251" width="2" height="144" fill="url(#g237)"/><rect x="89" y="251" width="2" height="144" fill="url(#g238)"/><rect x="91" y="251" width="2" height="144" fill="url(#g239)"/><rect x="93" y="251" width="2" height="144" fill="url(#g240)"/><rect x="95" y="251" width="2" height="144" fill="url(#g241)"/><rect x="97" y="251" width="2" height="144" fill="url(#g242)"/><rect x="99" y="251" width="2" height="144" fill="url(#g10)"/><rect x="101" y="251" width="2" height="144" fill="url(#g11)"/><rect x="103" y="251" width="2" height="144" fill="url(#g12)"/><rect x="105" y="251" width="2" height="144" fill="url(#g13)"/><rect x="107" y="251" width="2" height="144" fill="url(#g14)"/><rect x="109" y="251" width="2" height="144" fill="url(#g15)"/><rect x="111" y="251" width="2" height="144" fill="url(#g16)"/><rect x="113" y="251" width="2" height="144" fill="url(#g17)"/><rect x="115" y="251" width="2" height="144" fill="url(#g18)"/><rect x="117" y="251" width="2" height="144" fill="url(#g19)"/><rect x="119" y="251" width="2" height="144" fill="url(#g20)"/><rect x="121" y="251" width="2" height="144" fill="url(#g21)"/><rect x="123" y="251" width="2" height="144" fill="url(#g22)"/><rect x="125" y="251" width="2" height="144" fill="url(#g23)"/><rect x="127" y="251" width="2" height="144" fill="url(#g24)"/><rect x="129" y="251" width="2" height="144" fill="url(#g25)"/><rect x="131" y="251" width="2" height="144" fill="url(#g26)"/><rect x="133" y="251" width="2" height="144" fill="url(#g27)"/><rect x="135" y="251" width="2" height="144" fill="url(#g28)"/><rect x="137" y="251" width="2" height="144" fill="url(#g29)"/><rect x="139" y="251" width="2" height="144" fill="url(#g30)"/><rect x="141" y="251" width="2" height="144" fill="url(#g31)"/><rect x="143" y="251" width="2" height="144" fill="url(#g32)"/><rect x="145" y="251" width="2" height="144" fill="url(#g33)"/><rect x="147" y="251" width="2" height="144" fill="url(#g34)"/><rect x="149" y="251" width="2" height="144" fill="url(#g35)"/><rect x="151" y="251" width="2" height="144" fill="url(#g36)"/><rect x="153" y="251" width="2" height="144" fill="url(#g37)"/><rect x="155" y="251" width="2" height="144" fill="url(#g38)"/><rect x="157" y="251" width="2" height="144" fill="url(#g39)"/><rect x="159" y="251" width="2" height="144" fill="url(#g40)"/><rect x="161" y="251" width="2" height="144" fill="url(#g41)"/><rect x="163" y="251" width="2" height="144" fill="url(#g42)"/><rect x="165" y="251" width="2" height="144" fill="url(#g43)"/><rect x="167" y="251" width="2" height="144" fill="url(#g44)"/><rect x="169" y="251" width="2" height="144" fill="url(#g45)"/><rect x="171" y="251" width="2" height="144" fill="url(#g46)"/><rect x="173" y="251" width="2" height="144" fill="url(#g47)"/><rect x="175" y="251" width="2" height="144" fill="url(#g48)"/><rect x="177" y="251" width="2" height="144" fill="url(#g49)"/><rect x="179" y="251" width="2" height="144" fill="url(#g50)"/><rect x="181" y="251" width="2" height="144" fill="url(#g51)"/><rect x="183" y="251" width="2" height="144" fill="url(#g52)"/><rect x="185" y="251" width="2" height="144" fill="url(#g53)"/><rect x="187" y="251" width="2" height="144" fill="url(#g54)"/><rect x="189" y="251" width="2" height="144" fill="url(#g55)"/><rect x="191" y="251" width="2" height="144" fill="url(#g56)"/><rect x="193" y="251" width="2" height="144" fill="url(#g57)"/><rect x="195" y="251" width="2" height="144" fill="url(#g58)"/><rect x="197" y="251" width="2" height="144" fill="url(#g59)"/><rect x="199" y="251" width="2" height="144" fill="url(#g60)"/><rect x="201" y="251" width="2" height="144" fill="url(#g61)"/><rect x="203" y="251" width="2" height="144" fill="url(#g62)"/><rect x="205" y="251" width="2" height="144" fill="url(#g63)"/><rect x="207" y="251" width="2" height="144" fill="url(#g64)"/><rect x="209" y="251" width="2" height="144" fill="url(#g65)"/><rect x="211" y="251" width="2" height="144" fill="url(#g66)"/><rect x="213" y="251" width="2" height="144" fill="url(#g67)"/><rect x="215" y="251" width="2" height="144" fill="url(#g68)"/><rect x="217" y="251" width="2" height="144" fill="url(#g69)"/><rect x="219" y="251" width="2" height="144" fill="url(#g70)"/><rect x="221" y="251" width="2" height="144" fill="url(#g243)"/><rect x="223" y="251" width="2" height="144" fill="url(#g244)"/><rect x="225" y="251" width="2" height="144" fill="url(#g245)"/><rect x="227" y="251" width="2" height="144" fill="url(#g246)"/><rect x="229" y="251" width="2" height="144" fill="url(#g247)"/><rect x="231" y="251" width="2" height="144" fill="url(#g248)"/><rect x="233" y="251" width="2" height="144" fill="url(#g249)"/><rect x="235" y="251" width="2" height="144" fill="url(#g250)"/><rect x="237" y="251" width="2" height="144" fill="url(#g251)"/><rect x="239" y="251" width="2" height="144" fill="url(#g252)"/><rect x="241" y="251" width="2" height="144" fill="url(#g253)"/><rect x="243" y="251" width="2" height="144" fill="url(#g254)"/><rect x="245" y="251" width="2" height="144" fill="url(#g255)"/><rect x="247" y="251" width="2" height="144" fill="url(#g256)"/><rect x="249" y="251" width="2" height="144" fill="url(#g257)"/><rect x="251" y="251" width="2" height="144" fill="url(#g258)"/><rect x="253" y="251" width="2" height="144" fill="url(#g259)"/><rect x="255" y="251" width="2" height="144" fill="url(#g260)"/><rect x="257" y="251" width="2" height="144" fill="url(#g261)"/><rect x="259" y="251" width="2" height="144" fill="url(#g262)"/><rect x="261" y="251" width="2" height="144" fill="url(#g263)"/><rect x="263" y="251" width="2" height="144" fill="url(#g264)"/><rect x="265" y="251" width="2" height="144" fill="url(#g265)"/><rect x="267" y="251" width="2" height="144" fill="url(#g266)"/><rect x="269" y="251" width="2" height="144" fill="url(#g267)"/><rect x="271" y="251" width="2" height="144" fill="url(#g96)"/><rect x="273" y="251" width="2" height="144" fill="url(#g97)"/><rect x="275" y="251" width="2" height="144" fill="url(#g98)"/><rect x="277" y="251" width="2" height="144" fill="url(#g99)"/><rect x="279" y="251" width="2" height="144" fill="url(#g100)"/><rect x="281" y="251" width="2" height="144" fill="url(#g101)"/><rect x="283" y="251" width="2" height="144" fill="url(#g102)"/><rect x="285" y="251" width="2" height="144" fill="url(#g103)"/><rect x="287" y="251" width="2" height="144" fill="url(#g104)"/><rect x="289" y="251" width="2" height="144" fill="url(#g105)"/><rect x="291" y="251" width="2" height="144" fill="url(#g106)"/><rect x="293" y="251" width="2" height="144" fill="url(#g268)"/><rect x="295" y="251" width="2" height="144" fill="url(#g269)"/><rect x="297" y="251" width="2" height="144" fill="url(#g270)"/><rect x="299" y="251" width="2" height="144" fill="url(#g271)"/><rect x="301" y="251" width="2" height="144" fill="url(#g272)"/><rect x="303" y="251" width="2" height="144" fill="url(#g273)"/><rect x="305" y="251" width="2" height="144" fill="url(#g274)"/><rect x="307" y="251" width="2" height="144" fill="url(#g275)"/><rect x="309" y="251" width="2" height="144" fill="url(#g276)"/><rect x="311" y="251" width="2" height="144" fill="url(#g277)"/><rect x="313" y="251" width="2" height="144" fill="url(#g278)"/><rect x="315" y="251" width="2" height="144" fill="url(#g279)"/><rect x="317" y="251" width="2" height="144" fill="url(#g280)"/><rect x="319" y="251" width="2" height="144" fill="url(#g281)"/><rect x="321" y="251" width="2" height="144" fill="url(#g282)"/><rect x="323" y="251" width="2" height="144" fill="url(#g283)"/><rect x="325" y="251" width="2" height="144" fill="url(#g284)"/><rect x="327" y="251" width="2" height="144" fill="url(#g285)"/><rect x="329" y="251" width="2" height="144" fill="url(#g286)"/><rect x="331" y="251" width="2" height="144" fill="url(#g287)"/><rect x="333" y="251" width="2" height="144" fill="url(#g288)"/><rect x="335" y="251" width="2" height="144" fill="url(#g289)"/><rect x="337" y="251" width="2" height="144" fill="url(#g290)"/><rect x="339" y="251" width="2" height="144" fill="url(#g291)"/><rect x="341" y="251" width="2" height="144" fill="url(#g292)"/><rect x="343" y="251" width="2" height="144" fill="url(#g293)"/><rect x="345" y="251" width="2" height="144" fill="url(#g294)"/><rect x="347" y="251" width="2" height="144" fill="url(#g295)"/><rect x="349" y="251" width="2" height="144" fill="url(#g296)"/><rect x="351" y="251" width="2" height="144" fill="url(#g297)"/><rect x="353" y="251" width="2" height="144" fill="url(#g298)"/><rect x="355" y="251" width="2" height="144" fill="url(#g299)"/><rect x="357" y="251" width="2" height="144" fill="url(#g300)"/><rect x="359" y="251" width="2" height="144" fill="url(#g140)"/><rect x="361" y="251" width="2" height="144" fill="url(#g141)"/><rect x="363" y="251" width="2" height="144" fill="url(#g142)"/><rect x="365" y="251" width="2" height="144" fill="url(#g143)"/><rect x="367" y="251" width="2" height="144" fill="url(#g144)"/><rect x="369" y="251" width="2" height="144" fill="url(#g145)"/><rect x="371" y="251" width="2" height="144" fill="url(#g146)"/><rect x="373" y="251" width="2" height="144" fill="url(#g147)"/><rect x="375" y="251" width="2" height="144" fill="url(#g148)"/><rect x="377" y="251" width="2" height="144" fill="url(#g149)"/><rect x="379" y="251" width="2" height="144" fill="url(#g150)"/><rect x="381" y="251" width="2" height="144" fill="url(#g151)"/><rect x="383" y="251" width="2" height="144" fill="url(#g152)"/><rect x="385" y="251" width="2" height="144" fill="url(#g153)"/><rect x="387" y="251" width="2" height="144" fill="url(#g154)"/><rect x="389" y="251" width="2" height="144" fill="url(#g155)"/><rect x="391" y="251" width="2" height="144" fill="url(#g156)"/><rect x="393" y="251" width="2" height="144" fill="url(#g157)"/><rect x="395" y="251" width="2" height="144" fill="url(#g158)"/><rect x="397" y="251" width="2" height="144" fill="url(#g159)"/><rect x="399" y="251" width="2" height="144" fill="url(#g160)"/><rect x="401" y="251" width="2" height="144" fill="url(#g161)"/><rect x="403" y="251" width="2" height="144" fill="url(#g162)"/><rect x="405" y="251" width="2" height="144" fill="url(#g163)"/><rect x="407" y="251" width="2" height="144" fill="url(#g164)"/><rect x="409" y="251" width="2" height="144" fill="url(#g165)"/><rect x="411" y="251" width="2" height="144" fill="url(#g166)"/><rect x="413" y="251" width="2" height="144" fill="url(#g167)"/><rect x="415" y="251" width="2" height="144" fill="url(#g168)"/><rect x="417" y="251" width="2" height="144" fill="url(#g169)"/><rect x="419" y="251" width="2" height="144" fill="url(#g170)"/><rect x="421" y="251" width="2" height="144" fill="url(#g171)"/><rect x="423" y="251" width="2" height="144" fill="url(#g172)"/><rect x="425" y="251" width="2" height="144" fill="url(#g173)"/><rect x="427" y="251" width="2" height="144" fill="url(#g174)"/><rect x="429" y="251" width="2" height="144" fill="url(#g175)"/><rect x="431" y="251" width="2" height="144" fill="url(#g176)"/><rect x="433" y="251" width="2" height="144" fill="url(#g177)"/><rect x="435" y="251" width="2" height="144" fill="url(#g178)"/><rect x="437" y="251" width="2" height="144" fill="url(#g179)"/><rect x="439" y="251" width="2" height="144" fill="url(#g180)"/><rect x="441" y="251" width="2" height="144" fill="url(#g181)"/><rect x="443" y="251" width="2" height="144" fill="url(#g182)"/><rect x="445" y="251" width="2" height="144" fill="url(#g183)"/><rect x="447" y="251" width="2" height="144" fill="url(#g184)"/><rect x="449" y="251" width="2" height="144" fill="url(#g185)"/><rect x="451" y="251" width="2" height="144" fill="url(#g186)"/><rect x="453" y="251" width="2" height="144" fill="url(#g187)"/><rect x="455" y="251" width="2" height="144" fill="url(#g188)"/><rect x="457" y="251" width="2" height="144" fill="url(#g189)"/><rect x="459" y="251" width="2" height="144" fill="url(#g190)"/><rect x="461" y="251" width="2" height="144" fill="url(#g191)"/><rect x="463" y="251" width="2" height="144" fill="url(#g192)"/><rect x="465" y="251" width="2" height="144" fill="url(#g193)"/><rect x="467" y="251" width="2" height="144" fill="url(#g194)"/><rect x="469" y="251" width="2" height="144" fill="url(#g195)"/><rect x="471" y="251" width="2" height="144" fill="url(#g196)"/><rect x="473" y="251" width="2" height="144" fill="url(#g197)"/><rect x="475" y="251" width="2" height="144" fill="url(#g198)"/><rect x="477" y="251" width="2" height="144" fill="url(#g199)"/><rect x="479" y="251" width="2" height="144" fill="url(#g200)"/><rect x="481" y="251" width="2" height="144" fill="url(#g201)"/><rect x="483" y="251" width="2" height="144" fill="url(#g202)"/><rect x="485" y="251" width="2" height="144" fill="url(#g203)"/><rect x="487" y="251" width="2" height="144" fill="url(#g204)"/><rect x="489" y="251" width="2" height="144" fill="url(#g205)"/><rect x="491" y="251" width="2" height="144" fill="url(#g206)"/><rect x="493" y="251" width="2" height="144" fill="url(#g207)"/><rect x="495" y="251" width="2" height="144" fill="url(#g208)"/><rect x="497" y="251" width="2" height="144" fill="url(#g209)"/><rect x="499" y="251" width="2" height="144" fill="url(#g210)"/><rect x="501" y="251" width="2" height="144" fill="url(#g211)"/><rect x="503" y="251" width="2" height="144" fill="url(#g212)"/><rect x="505" y="251" width="2" height="144" fill="url(#g213)"/><rect x="507" y="251" width="2" height="144" fill="url(#g214)"/><rect x="509" y="251" width="2" height="144" fill="url(#g215)"/><rect x="511" y="251" width="2" height="144" fill="url(#g216)"/><rect x="513" y="251" width="2" height="144" fill="url(#g217)"/><rect x="515" y="251" width="2" height="144" fill="url(#g218)"/><rect x="517" y="251" width="2" height="144" fill="url(#g219)"/><rect x="519" y="251" width="2" height="144" fill="url(#g220)"/><rect x="521" y="251" width="2" height="144" fill="url(#g221)"/><rect x="523" y="251" width="2" height="144" fill="url(#g222)"/><rect x="525" y="251" width="2" height="144" fill="url(#g223)"/><rect x="527" y="251" width="2" height="144" fill="url(#g224)"/><rect x="529" y="251" width="2" height="144" fill="url(#g225)"/><rect x="531" y="251" width="2" height="144" fill="url(#g226)"/><rect x="533" y="251" width="2" height="144" fill="url(#g227)"/><rect x="535" y="251" width="2" height="144" fill="url(#g228)"/><rect x="537" y="251" width="2" height="144" fill="url(#g229)"/><rect x="539" y="251" width="2" height="144" fill="url(#g230)"/><rect x="541" y="251" width="2" height="144" fill="url(#g301)"/><polygon points="528,251 543,251 543,258 537,257.5 533,255 529,252.5" fill="#40d0ff"/><polygon points="530,251 543,251 543,257 538,256.5 534,254 531,252.5" fill="#0000c0"/><polygon points="532,251 543,251 543,256 538,255.5 535,253.5 533,252" fill="#000088"/></g>
<g fill="#fff"><rect x="122" y="137" width="1" height="45"/><rect x="125" y="110" width="1" height="72"/><rect x="127" y="134" width="1" height="48"/><rect x="131" y="157" width="1" height="25"/><rect x="133" y="136" width="1" height="46"/><rect x="137" y="155" width="1" height="27"/><rect x="161" y="166" width="1" height="16"/><rect x="175" y="176" width="1" height="6"/><rect x="182" y="151" width="1" height="31"/><rect x="191" y="121" width="1" height="61"/><rect x="199" y="164" width="1" height="18"/><rect x="204" y="161" width="1" height="21"/><rect x="293" y="39" width="1" height="73"/><rect x="300" y="48" width="1" height="72"/><rect x="316" y="96" width="1" height="40"/><rect x="329" y="64" width="1" height="96"/><rect x="308" y="113" width="1" height="9"/><rect x="323" y="131" width="1" height="19"/><rect x="334" y="137" width="1" height="33"/><rect x="341" y="142" width="1" height="38"/><rect x="345" y="112" width="1" height="70"/><rect x="350" y="115" width="1" height="67"/><rect x="358" y="127" width="1" height="55"/><rect x="370" y="172" width="1" height="10"/><rect x="379" y="154" width="1" height="28"/><rect x="410" y="154" width="1" height="28"/><rect x="433" y="164" width="1" height="18"/><rect x="436" y="137" width="1" height="45"/><rect x="454" y="140" width="1" height="42"/><rect x="466" y="140" width="1" height="42"/><rect x="470" y="169" width="1" height="13"/><rect x="486" y="128" width="1" height="54"/><rect x="493" y="104" width="1" height="78"/><rect x="496" y="178" width="1" height="4"/></g>
<g fill="#fff"><rect x="125" y="344" width="1" height="48"/><rect x="131" y="368" width="1" height="24"/><rect x="136" y="378" width="1" height="14"/><rect x="308" y="323" width="1" height="14"/><rect x="328" y="349" width="1" height="18"/><rect x="322" y="361" width="1" height="6"/><rect x="485" y="364" width="1" height="28"/></g>
<g fill="#fff" opacity=".6"><rect x="331" y="39" width="1" height="8"/><rect x="348" y="39" width="1" height="13"/><rect x="354" y="39" width="1" height="13"/></g>
<g fill="#fff"><rect x="189" y="300" width="1" height="1"/><rect x="213" y="316" width="1" height="1"/><rect x="131" y="324" width="1" height="1"/><rect x="191" y="332" width="1" height="1"/><rect x="201" y="340" width="1" height="1"/><rect x="191" y="348" width="1" height="1"/><rect x="198" y="347" width="1" height="1"/><rect x="209" y="349" width="1" height="1"/><rect x="191" y="354" width="1" height="1"/><rect x="191" y="362" width="1" height="1"/><rect x="219" y="359" width="1" height="1"/><rect x="182" y="368" width="1" height="1"/><rect x="182" y="373" width="1" height="1"/><rect x="182" y="378" width="1" height="1"/><rect x="182" y="383" width="1" height="1"/><rect x="198" y="375" width="1" height="1"/><rect x="203" y="374" width="1" height="1"/><rect x="408" y="334" width="1" height="1"/><rect x="410" y="358" width="1" height="1"/><rect x="401" y="354" width="1" height="1"/><rect x="452" y="350" width="1" height="1"/><rect x="452" y="367" width="1" height="1"/><rect x="452" y="374" width="1" height="1"/><rect x="485" y="346" width="1" height="1"/><rect x="490" y="332" width="1" height="1"/><rect x="489" y="383" width="1" height="1"/></g>
<g font-size="14" fill="#000"><text x="74" y="43" text-anchor="end">0</text><text x="74" y="80" text-anchor="end">50</text><text x="74" y="117" text-anchor="end">100</text><text x="74" y="154" text-anchor="end">150</text><text x="74" y="191" text-anchor="end">200</text><text x="77.5" y="205" text-anchor="middle">0</text><text x="129.5" y="205" text-anchor="middle">50</text><text x="181.5" y="205" text-anchor="middle">100</text><text x="233.5" y="205" text-anchor="middle">150</text><text x="285.5" y="205" text-anchor="middle">200</text><text x="336.5" y="205" text-anchor="middle">250</text><text x="388.5" y="205" text-anchor="middle">300</text><text x="440.5" y="205" text-anchor="middle">350</text><text x="492.5" y="205" text-anchor="middle">400</text><text x="74" y="256" text-anchor="end">0</text><text x="74" y="293" text-anchor="end">50</text><text x="74" y="330" text-anchor="end">100</text><text x="74" y="367" text-anchor="end">150</text><text x="74" y="404" text-anchor="end">200</text><text x="77.5" y="418" text-anchor="middle">0</text><text x="129.5" y="418" text-anchor="middle">50</text><text x="181.5" y="418" text-anchor="middle">100</text><text x="233.5" y="418" text-anchor="middle">150</text><text x="285.5" y="418" text-anchor="middle">200</text><text x="336.5" y="418" text-anchor="middle">250</text><text x="388.5" y="418" text-anchor="middle">300</text><text x="440.5" y="418" text-anchor="middle">350</text><text x="492.5" y="418" text-anchor="middle">400</text></g>
<text x="310" y="26.5" font-size="16" text-anchor="middle" textLength="311" lengthAdjust="spacingAndGlyphs">Density: Gridded data (1km x 4m) (pcolor plot)</text>
<text x="309" y="240.5" font-size="16" text-anchor="middle" textLength="382" lengthAdjust="spacingAndGlyphs">Density: Full data set (scatter plot, every 20th point used)</text>
<text x="308.5" y="434.5" font-size="14" text-anchor="middle" textLength="91" lengthAdjust="spacingAndGlyphs">Distance, (km)</text>
<text transform="translate(47 115) rotate(-90)" font-size="14" text-anchor="middle" textLength="60" lengthAdjust="spacingAndGlyphs">Depth,(m)</text>
<text transform="translate(47 328) rotate(-90)" font-size="14" text-anchor="middle" textLength="60" lengthAdjust="spacingAndGlyphs">Depth,(m)</text>
</svg></body></html>
